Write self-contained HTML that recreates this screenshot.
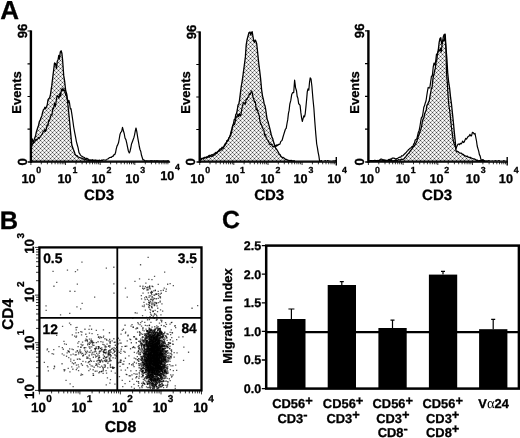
<!DOCTYPE html>
<html><head><meta charset="utf-8"><title>Figure</title>
<style>html,body{margin:0;padding:0;background:#fff}svg{display:block;will-change:transform;-webkit-font-smoothing:antialiased;text-rendering:geometricPrecision}</style>
</head><body>
<svg width="520" height="438" viewBox="0 0 520 438">
<defs>
<pattern id="hatch" width="4" height="4" patternUnits="userSpaceOnUse" shape-rendering="crispEdges"><rect width="4" height="4" fill="#e6e6e6"/><path d="M2 0h1v1h-1zM0 2h1v1h-1z" fill="#fff"/><path d="M0 0h1v1h-1zM2 2h1v1h-1z" fill="#484848"/><path d="M1 1h1v1h-1zM3 3h1v1h-1zM1 3h1v1h-1zM3 1h1v1h-1z" fill="#a8a8a8"/></pattern>
</defs>
<rect width="520" height="438" fill="#fff"/>
<text x="0.3" y="18.8" font-size="26" text-anchor="start" font-family="Liberation Sans, sans-serif" font-weight="bold" stroke="#000" stroke-width="0.3" >A</text>
<text x="-0.2" y="228.6" font-size="25.4" text-anchor="start" font-family="Liberation Sans, sans-serif" font-weight="bold" stroke="#000" stroke-width="0.3" >B</text>
<text x="221.9" y="228.3" font-size="24.8" text-anchor="start" font-family="Liberation Sans, sans-serif" font-weight="bold" stroke="#000" stroke-width="0.3" >C</text>
<path d="M31.5 141.6 L32.2 139 L33.2 143 L34 140.3 L34.7 137.9 L35.5 136.1 L36.2 132.5 L37 130 L37.8 127.5 L38.6 125.2 L39.4 121.5 L40.2 120 L41 117.8 L41.8 115.9 L42.6 112.4 L43.4 109.7 L44.1 109.2 L44.9 107.2 L45.7 108.6 L46.4 107 L47.2 105 L48 99.8 L48.8 98.5 L49.5 98.1 L50.3 95.5 L51 90.8 L51.8 85.4 L52.6 78.5 L53.5 71.4 L54.5 63 L55.5 63.6 L56.5 68.5 L57.3 61 L58 60 L58.8 55.4 L59.5 59 L60.3 51.8 L61.1 50.8 L61.9 53.3 L62.6 60 L63.7 75.4 L64.7 81.7 L65.7 90.8 L66.7 94 L67.6 101.5 L68.6 111.4 L69.6 121.5 L70.3 129.2 L71.1 137.9 L71.8 145 L72.5 147 L73.3 149.2 L74 151 L74.8 153.2 L75.5 155 L76.3 155.4 L77.1 155.7 L77.9 156.8 L78.7 157.2 L79.6 157.5 L80.4 157.8 L81.2 158 L82 158.4 L82.8 159 L83.6 159 L84.4 159 L85.2 159.7 L86 159.6 L86.8 160.1 L87.6 159.9 L88.4 160.5 L89.2 160.6 L90 160.5 L90.8 160.2 L91.7 160.4 L92.5 160.9 L93.3 160.6 L94.2 161 L95 160.7 L95.8 160.5 L96.7 160.9 L97.5 161 L98.3 160.8 L99.2 160.7 L100 161 L100 161.5 L31.5 161.5 Z" fill="url(#hatch)" stroke="none"/>
<path d="M31.5 141.6 L32.2 139 L33.2 143 L34 140.3 L34.7 137.9 L35.5 136.1 L36.2 132.5 L37 130 L37.8 127.5 L38.6 125.2 L39.4 121.5 L40.2 120 L41 117.8 L41.8 115.9 L42.6 112.4 L43.4 109.7 L44.1 109.2 L44.9 107.2 L45.7 108.6 L46.4 107 L47.2 105 L48 99.8 L48.8 98.5 L49.5 98.1 L50.3 95.5 L51 90.8 L51.8 85.4 L52.6 78.5 L53.5 71.4 L54.5 63 L55.5 63.6 L56.5 68.5 L57.3 61 L58 60 L58.8 55.4 L59.5 59 L60.3 51.8 L61.1 50.8 L61.9 53.3 L62.6 60 L63.7 75.4 L64.7 81.7 L65.7 90.8 L66.7 94 L67.6 101.5 L68.6 111.4 L69.6 121.5 L70.3 129.2 L71.1 137.9 L71.8 145 L72.5 147 L73.3 149.2 L74 151 L74.8 153.2 L75.5 155 L76.3 155.4 L77.1 155.7 L77.9 156.8 L78.7 157.2 L79.6 157.5 L80.4 157.8 L81.2 158 L82 158.4 L82.8 159 L83.6 159 L84.4 159 L85.2 159.7 L86 159.6 L86.8 160.1 L87.6 159.9 L88.4 160.5 L89.2 160.6 L90 160.5 L90.8 160.2 L91.7 160.4 L92.5 160.9 L93.3 160.6 L94.2 161 L95 160.7 L95.8 160.5 L96.7 160.9 L97.5 161 L98.3 160.8 L99.2 160.7 L100 161" fill="none" stroke="#000" stroke-width="1.3" stroke-linejoin="round"/>
<path d="M31.5 147 L32.2 144.9 L33 143 L33.8 142.8 L34.6 142.3 L35.4 140.2 L36.2 139.2 L37 140 L37.8 138.7 L38.5 137.4 L39.3 138.3 L40.1 137 L40.9 135.8 L41.6 134.7 L42.4 134.2 L43.2 131.3 L44 131.5 L44.8 129.5 L45.5 131.5 L46.3 129 L47.1 124.8 L47.9 125.9 L48.7 120.2 L49.5 120.9 L50.4 116.9 L51.2 114.9 L52 115.2 L52.8 108.1 L53.6 108.7 L54.5 103.4 L55.4 106.4 L56.2 101.1 L57.1 95.6 L58 96 L59 98.2 L60 93 L60.7 96 L61.4 89 L62.2 90.9 L62.9 88.1 L63.6 90.5 L64.3 89.8 L65 92 L65.8 95.4 L66.5 94.6 L67.3 99.6 L68 102.8 L68.8 100.2 L69.5 102.9 L70.3 108.9 L71 108.7 L71.9 114.3 L72.8 120.5 L73.7 127 L74.6 132.2 L75.5 136.7 L76.4 141.6 L77.3 145 L78.1 147.9 L79 152.6 L79.8 153.9 L80.5 155.1 L81.3 155.9 L82 156.3 L82.8 157 L83.6 157.2 L84.4 157.5 L85.2 158.2 L86 158.5 L86.8 158.2 L87.6 158.7 L88.4 159.2 L89.2 159.7 L90 160 L90.8 160.4 L91.7 160.1 L92.5 159.7 L93.3 160.5 L94.2 160.1 L95 160.3 L95.8 160 L96.7 160.3 L97.5 160.3 L98.3 160.7 L99.2 160.1 L100 160.5 L100.8 160.5 L101.6 160.1 L102.4 160.5 L103.2 159.8 L104 160 L104.8 160 L105.6 160.2 L106.4 160 L107.2 159 L108.1 158.9 L108.9 158.1 L109.7 157.6 L110.6 157.3 L111.4 157.4 L112.2 156.3 L113 156.4 L113.9 154.7 L114.7 154.7 L115.5 152.8 L116.2 149.2 L117 146.1 L117.7 144.9 L118.5 142.8 L119.2 139 L120 134.4 L120.8 132.3 L121.7 131.4 L122.5 127.4 L123.3 130.3 L124.2 133.5 L125 138 L125.9 139.6 L126.7 142.8 L127.6 147.3 L128.4 151 L129.3 153 L130 151.4 L130.8 147.8 L131.5 144 L132.3 142.1 L133 140 L133.8 137.9 L134.5 135.2 L135.2 131.5 L136 128 L136.8 131.6 L137.7 137.3 L138.5 141.8 L139.3 146.5 L140 149.5 L140.8 151.5 L141.5 155.3 L142.3 157.8 L143 160 L143.8 159.9 L144.5 160.3 L145.2 161 L146 161 L146.8 160.8 L147.6 161 L148.4 161 L149.2 161 L150 161 L150.8 160.7 L151.6 160.8 L152.3 160.8 L153.1 161 L153.9 161 L154.7 160.7 L155.5 161 L156.3 160.9 L157.1 160.8 L157.9 160.9 L158.7 161 L159.5 161 L160.3 161 L161.1 161 L161.9 161 L162.7 161 L163.4 160.9 L164.2 161 L165 161 L165.8 161 L166.6 161 L167.4 160.9 L168.2 160.9 L169 161" fill="none" stroke="#000" stroke-width="1.2" stroke-linejoin="round"/>
<path d="M30.9 30.4 V162.8" stroke="#000" stroke-width="2.4" fill="none"/>
<path d="M27.7 162 H170.1" stroke="#000" stroke-width="1.7" fill="none"/>
<path d="M27.5 31 H30.9 M27.5 63.8 H30.9 M27.5 96.5 H30.9 M27.5 129.2 H30.9 " stroke="#000" stroke-width="1.2" fill="none"/>
<path d="M30.9 162 v3 M41.3 162 v2.3 M47.4 162 v2.3 M51.8 162 v2.3 M55.1 162 v2.3 M57.9 162 v2.3 M60.2 162 v2.3 M62.2 162 v2.3 M64 162 v2.3 M65.5 162 v3 M76 162 v2.3 M82.1 162 v2.3 M86.4 162 v2.3 M89.8 162 v2.3 M92.5 162 v2.3 M94.8 162 v2.3 M96.8 162 v2.3 M98.6 162 v2.3 M100.2 162 v3 M110.6 162 v2.3 M116.7 162 v2.3 M121.1 162 v2.3 M124.4 162 v2.3 M127.2 162 v2.3 M129.5 162 v2.3 M131.5 162 v2.3 M133.3 162 v2.3 M134.8 162 v3 M145.3 162 v2.3 M151.4 162 v2.3 M155.7 162 v2.3 M159.1 162 v2.3 M161.8 162 v2.3 M164.1 162 v2.3 M166.1 162 v2.3 M167.9 162 v2.3 " stroke="#000" stroke-width="0.8" fill="none"/>
<path d="M30.9 161.1 H169.5" stroke="#000" stroke-width="1.3" fill="none"/>
<text x="28.5" y="182.6" font-size="12.7" text-anchor="middle" font-family="Liberation Sans, sans-serif" font-weight="bold" stroke="#000" stroke-width="0.3" >10</text>
<text x="36.3" y="172.9" font-size="8.8" text-anchor="start" font-family="Liberation Sans, sans-serif" font-weight="bold" stroke="#000" stroke-width="0.3" >0</text>
<text x="64.6" y="182.6" font-size="12.7" text-anchor="middle" font-family="Liberation Sans, sans-serif" font-weight="bold" stroke="#000" stroke-width="0.3" >10</text>
<text x="72.4" y="172.9" font-size="8.8" text-anchor="start" font-family="Liberation Sans, sans-serif" font-weight="bold" stroke="#000" stroke-width="0.3" >1</text>
<text x="98.6" y="182.6" font-size="12.7" text-anchor="middle" font-family="Liberation Sans, sans-serif" font-weight="bold" stroke="#000" stroke-width="0.3" >10</text>
<text x="106.4" y="172.9" font-size="8.8" text-anchor="start" font-family="Liberation Sans, sans-serif" font-weight="bold" stroke="#000" stroke-width="0.3" >2</text>
<text x="132.4" y="182.6" font-size="12.7" text-anchor="middle" font-family="Liberation Sans, sans-serif" font-weight="bold" stroke="#000" stroke-width="0.3" >10</text>
<text x="140.2" y="172.9" font-size="8.8" text-anchor="start" font-family="Liberation Sans, sans-serif" font-weight="bold" stroke="#000" stroke-width="0.3" >3</text>
<text x="167.3" y="179.6" font-size="12.7" text-anchor="middle" font-family="Liberation Sans, sans-serif" font-weight="bold" stroke="#000" stroke-width="0.3" >10</text>
<text x="175.1" y="169.9" font-size="8.8" text-anchor="start" font-family="Liberation Sans, sans-serif" font-weight="bold" stroke="#000" stroke-width="0.3" >4</text>
<text x="99.1" y="199.6" font-size="15" text-anchor="middle" font-family="Liberation Sans, sans-serif" font-weight="bold" stroke="#000" stroke-width="0.3" >CD3</text>
<text transform="translate(26.7 31) rotate(-90)" font-size="13.2" text-anchor="middle" font-family="Liberation Sans, sans-serif" font-weight="bold" stroke="#000" stroke-width="0.3" >96</text>
<text transform="translate(26.5 161.8) rotate(-90)" font-size="13.2" text-anchor="middle" font-family="Liberation Sans, sans-serif" font-weight="bold" stroke="#000" stroke-width="0.3" >0</text>
<text transform="translate(21.2 92.5) rotate(-90)" font-size="12.9" text-anchor="middle" font-family="Liberation Sans, sans-serif" font-weight="bold" stroke="#000" stroke-width="0.3" >Events</text>
<path d="M200.5 159 L201.3 158.5 L202.1 158.6 L202.9 158.3 L203.7 157.9 L204.5 157.4 L205.3 157.5 L206.1 157.3 L206.9 156.8 L207.8 156.5 L208.6 155.9 L209.4 155.4 L210.2 155.5 L211 155.4 L211.8 154.6 L212.6 155.1 L213.4 154.2 L214.2 154.2 L215 153.3 L215.8 152.4 L216.6 152.8 L217.4 151.9 L218.2 151.4 L219 150.5 L219.8 149.1 L220.6 148.8 L221.4 148.4 L222.2 147.2 L223 147.8 L223.8 146.5 L224.6 144.9 L225.5 143.2 L226.3 143 L227.1 140.4 L227.9 140.5 L228.8 138.3 L229.6 137 L230.4 134.4 L231.2 131.2 L231.9 128.9 L232.7 125.4 L233.5 123.5 L234.3 119.4 L235 119.3 L235.8 114.5 L236.5 113.7 L237.3 110 L238 105 L238.8 104.2 L239.5 100.2 L240.2 94.6 L241.3 86 L242.1 81.6 L242.9 76 L243.8 69.2 L244.6 63 L245.4 56.9 L246.2 44.9 L247 40 L248 36.1 L249 32.5 L250 32 L250.8 35 L251.5 32.5 L252.2 31.8 L252.9 36 L253.7 40.9 L254.4 42.2 L255.2 40 L255.9 41.2 L256.7 43.8 L257.7 53.1 L258.7 63 L259.6 70.1 L260.6 78.5 L261.6 89.6 L262.5 95.8 L263.4 99.4 L264.2 104 L265 105.7 L265.7 109.5 L266.5 115.2 L267.2 119.6 L268 121.5 L268.8 124.6 L269.6 127.7 L270.4 130.9 L271.2 134.5 L272 137 L272.8 138.8 L273.5 141.8 L274.3 144 L275 146.4 L275.8 148.5 L276.6 149.3 L277.4 150.5 L278.2 152 L279.1 153.8 L279.9 154.4 L280.7 155.9 L281.5 157 L282.3 157.3 L283.2 157.5 L284 158 L284.8 158.9 L285.6 159.3 L286.5 159.5 L287.3 160 L288.1 160.2 L288.8 160.3 L289.6 160.6 L290.4 160.7 L291.1 160.4 L291.9 160.9 L292.7 161 L293.5 160.9 L294.2 161 L295 161 L295 161.5 L200.5 161.5 Z" fill="url(#hatch)" stroke="none"/>
<path d="M200.5 159 L201.3 158.5 L202.1 158.6 L202.9 158.3 L203.7 157.9 L204.5 157.4 L205.3 157.5 L206.1 157.3 L206.9 156.8 L207.8 156.5 L208.6 155.9 L209.4 155.4 L210.2 155.5 L211 155.4 L211.8 154.6 L212.6 155.1 L213.4 154.2 L214.2 154.2 L215 153.3 L215.8 152.4 L216.6 152.8 L217.4 151.9 L218.2 151.4 L219 150.5 L219.8 149.1 L220.6 148.8 L221.4 148.4 L222.2 147.2 L223 147.8 L223.8 146.5 L224.6 144.9 L225.5 143.2 L226.3 143 L227.1 140.4 L227.9 140.5 L228.8 138.3 L229.6 137 L230.4 134.4 L231.2 131.2 L231.9 128.9 L232.7 125.4 L233.5 123.5 L234.3 119.4 L235 119.3 L235.8 114.5 L236.5 113.7 L237.3 110 L238 105 L238.8 104.2 L239.5 100.2 L240.2 94.6 L241.3 86 L242.1 81.6 L242.9 76 L243.8 69.2 L244.6 63 L245.4 56.9 L246.2 44.9 L247 40 L248 36.1 L249 32.5 L250 32 L250.8 35 L251.5 32.5 L252.2 31.8 L252.9 36 L253.7 40.9 L254.4 42.2 L255.2 40 L255.9 41.2 L256.7 43.8 L257.7 53.1 L258.7 63 L259.6 70.1 L260.6 78.5 L261.6 89.6 L262.5 95.8 L263.4 99.4 L264.2 104 L265 105.7 L265.7 109.5 L266.5 115.2 L267.2 119.6 L268 121.5 L268.8 124.6 L269.6 127.7 L270.4 130.9 L271.2 134.5 L272 137 L272.8 138.8 L273.5 141.8 L274.3 144 L275 146.4 L275.8 148.5 L276.6 149.3 L277.4 150.5 L278.2 152 L279.1 153.8 L279.9 154.4 L280.7 155.9 L281.5 157 L282.3 157.3 L283.2 157.5 L284 158 L284.8 158.9 L285.6 159.3 L286.5 159.5 L287.3 160 L288.1 160.2 L288.8 160.3 L289.6 160.6 L290.4 160.7 L291.1 160.4 L291.9 160.9 L292.7 161 L293.5 160.9 L294.2 161 L295 161" fill="none" stroke="#000" stroke-width="1.3" stroke-linejoin="round"/>
<path d="M200.5 159.5 L201.3 159.7 L202.1 158.6 L202.9 158.2 L203.7 159 L204.5 157.8 L205.3 157.5 L206.1 157.8 L206.9 157.2 L207.8 157.6 L208.6 156.5 L209.4 157.2 L210.2 156.1 L211 156.2 L211.8 156.4 L212.6 155.8 L213.4 155.9 L214.2 155 L215 154.7 L215.8 152.9 L216.6 153.6 L217.4 152.5 L218.2 151.3 L219 150.4 L219.8 151 L220.6 149.8 L221.4 149.9 L222.2 148.9 L223 148.7 L223.8 147 L224.6 145.7 L225.5 144.7 L226.3 143 L227.1 140.6 L227.9 141.2 L228.8 137.8 L229.6 137 L230.4 135.6 L231.2 133.9 L231.9 130.4 L232.7 125.9 L233.5 125 L234.4 124.5 L235.2 121.8 L236.1 117.4 L237 117 L237.8 114.3 L238.6 116.6 L239.4 113.6 L240.2 115.8 L240.9 115.3 L241.6 109.9 L242.3 107.1 L243 104 L243.8 102.5 L244.6 103.3 L245.4 104.1 L246.2 99 L247 99.4 L247.8 97.1 L248.6 97.1 L249.3 93.6 L250.1 94.4 L250.9 92.6 L251.7 90.8 L252.4 93.2 L253.1 97.8 L253.9 99.6 L254.6 102.3 L255.4 101.9 L256.2 110 L256.9 108.3 L257.7 111.1 L258.5 113.8 L259.3 116 L260 121.4 L260.8 124.1 L261.5 124.7 L262.3 127.3 L263.1 129 L263.9 130 L264.6 135.1 L265.4 134.7 L266.2 137.9 L267 139.4 L267.7 140.1 L268.5 141.4 L269.2 142.9 L270 144.6 L270.8 144.2 L271.5 144.2 L272.3 145.8 L273 146.8 L273.8 146.5 L274.6 146.7 L275.4 145.4 L276.1 146.4 L276.9 144.7 L277.7 145.6 L278.5 144.4 L279.2 144.5 L280 143.9 L280.7 141.6 L281.5 140.8 L282.2 140 L283 137 L283.8 134.3 L284.6 131.7 L285.4 129.2 L286.2 128.4 L287 123.5 L287.7 119.9 L288.4 113.7 L289.1 110.4 L289.8 104.2 L290.8 100.4 L291.7 94.6 L292.7 92.5 L293.7 92.7 L294.6 80.2 L295.6 87.9 L296.5 90.8 L297.2 96.6 L297.9 98.3 L298.7 103.9 L299.4 104.2 L300.1 105.6 L300.9 112.9 L301.6 117.9 L302.3 121.5 L303 118.8 L303.8 115.9 L304.5 116.8 L305.2 113.8 L305.9 107.1 L306.6 99.7 L307.3 91.6 L308 88.8 L308.8 90.2 L309.5 82.5 L310.2 77.9 L311 78.8 L311.9 86.3 L312.9 98.5 L313.9 108.5 L314.8 121.5 L315.8 134.1 L316.7 144 L317.4 147.6 L318.1 152.1 L318.9 156.2 L319.6 161 L320.4 161 L321.2 160.7 L322 160.9 L322.8 161 L323.6 161 L324.3 161 L325.1 160.6 L325.9 160.9 L326.7 161 L327.5 160.6 L328.3 160.7 L329.1 161 L329.9 160.9 L330.7 161 L331.5 161 L332.3 161 L333 160.8 L333.8 160.8 L334.6 160.8 L335.4 160.6 L336.2 161 L337 161" fill="none" stroke="#000" stroke-width="1.2" stroke-linejoin="round"/>
<path d="M199.7 31.4 V162.8" stroke="#000" stroke-width="2.4" fill="none"/>
<path d="M196.5 162 H336.9" stroke="#000" stroke-width="1.7" fill="none"/>
<path d="M196.3 32 H199.7 M196.3 64.5 H199.7 M196.3 97 H199.7 M196.3 129.5 H199.7 " stroke="#000" stroke-width="1.2" fill="none"/>
<path d="M199.7 162 v3 M210 162 v2.3 M216 162 v2.3 M220.3 162 v2.3 M223.6 162 v2.3 M226.3 162 v2.3 M228.6 162 v2.3 M230.5 162 v2.3 M232.3 162 v2.3 M233.8 162 v3 M244.1 162 v2.3 M250.1 162 v2.3 M254.4 162 v2.3 M257.7 162 v2.3 M260.4 162 v2.3 M262.7 162 v2.3 M264.7 162 v2.3 M266.4 162 v2.3 M268 162 v3 M278.3 162 v2.3 M284.3 162 v2.3 M288.6 162 v2.3 M291.9 162 v2.3 M294.6 162 v2.3 M296.9 162 v2.3 M298.8 162 v2.3 M300.6 162 v2.3 M302.1 162 v3 M312.4 162 v2.3 M318.4 162 v2.3 M322.7 162 v2.3 M326 162 v2.3 M328.7 162 v2.3 M331 162 v2.3 M333 162 v2.3 M334.7 162 v2.3 " stroke="#000" stroke-width="0.8" fill="none"/>
<path d="M336.3 165.6 v-8.6" stroke="#000" stroke-width="1.4" fill="none"/>
<path d="M199.7 161.1 H322" stroke="#000" stroke-width="1.3" fill="none"/>
<text x="197.4" y="182.6" font-size="12.7" text-anchor="middle" font-family="Liberation Sans, sans-serif" font-weight="bold" stroke="#000" stroke-width="0.3" >10</text>
<text x="205.2" y="172.9" font-size="8.8" text-anchor="start" font-family="Liberation Sans, sans-serif" font-weight="bold" stroke="#000" stroke-width="0.3" >0</text>
<text x="232.3" y="182.6" font-size="12.7" text-anchor="middle" font-family="Liberation Sans, sans-serif" font-weight="bold" stroke="#000" stroke-width="0.3" >10</text>
<text x="240.1" y="172.9" font-size="8.8" text-anchor="start" font-family="Liberation Sans, sans-serif" font-weight="bold" stroke="#000" stroke-width="0.3" >1</text>
<text x="267.6" y="182.6" font-size="12.7" text-anchor="middle" font-family="Liberation Sans, sans-serif" font-weight="bold" stroke="#000" stroke-width="0.3" >10</text>
<text x="275.4" y="172.9" font-size="8.8" text-anchor="start" font-family="Liberation Sans, sans-serif" font-weight="bold" stroke="#000" stroke-width="0.3" >2</text>
<text x="300.6" y="182.6" font-size="12.7" text-anchor="middle" font-family="Liberation Sans, sans-serif" font-weight="bold" stroke="#000" stroke-width="0.3" >10</text>
<text x="308.4" y="172.9" font-size="8.8" text-anchor="start" font-family="Liberation Sans, sans-serif" font-weight="bold" stroke="#000" stroke-width="0.3" >3</text>
<text x="334.2" y="182.6" font-size="12.7" text-anchor="middle" font-family="Liberation Sans, sans-serif" font-weight="bold" stroke="#000" stroke-width="0.3" >10</text>
<text x="342" y="172.9" font-size="8.8" text-anchor="start" font-family="Liberation Sans, sans-serif" font-weight="bold" stroke="#000" stroke-width="0.3" >4</text>
<text x="269.2" y="199.6" font-size="15" text-anchor="middle" font-family="Liberation Sans, sans-serif" font-weight="bold" stroke="#000" stroke-width="0.3" >CD3</text>
<text transform="translate(195.5 32) rotate(-90)" font-size="13.2" text-anchor="middle" font-family="Liberation Sans, sans-serif" font-weight="bold" stroke="#000" stroke-width="0.3" >96</text>
<text transform="translate(195.3 161.8) rotate(-90)" font-size="13.2" text-anchor="middle" font-family="Liberation Sans, sans-serif" font-weight="bold" stroke="#000" stroke-width="0.3" >0</text>
<text transform="translate(190 92.5) rotate(-90)" font-size="12.9" text-anchor="middle" font-family="Liberation Sans, sans-serif" font-weight="bold" stroke="#000" stroke-width="0.3" >Events</text>
<path d="M369.5 161 L370.3 160.7 L371.1 160.7 L371.9 160.9 L372.7 161 L373.5 160.7 L374.3 160.7 L375.1 160.8 L375.9 161 L376.7 160.7 L377.5 161 L378.3 161 L379.1 160.6 L379.9 160.9 L380.7 160.8 L381.5 160.8 L382.2 161 L383 160.5 L383.8 160.5 L384.6 161 L385.4 160.7 L386.2 160.6 L387 160.6 L387.8 160.6 L388.6 161 L389.4 160.5 L390.2 160.5 L391 160.7 L391.8 160.7 L392.6 160.9 L393.4 160.8 L394.2 160.5 L395 160.6 L395.8 160.2 L396.6 160.5 L397.5 160.4 L398.3 159.6 L399.1 159.9 L399.9 159.9 L400.7 159.6 L401.5 159.1 L402.4 159.3 L403.2 159.1 L404 158.8 L404.9 157.6 L405.7 156.9 L406.6 155.5 L407.5 154.4 L408.3 153.6 L409.2 152.8 L410 151.4 L410.7 150.4 L411.5 149.5 L412.2 148.6 L413 147 L413.8 146.5 L414.6 145.3 L415.4 144.1 L416.2 142.5 L417 140.8 L417.8 138.1 L418.5 135.5 L419.3 134.1 L420 131.6 L420.8 129.2 L421.6 126.6 L422.3 121.9 L423.1 119 L423.8 118.2 L424.6 113.8 L425.4 111.9 L426.2 109.9 L426.9 105.3 L427.7 104.2 L428.5 102.3 L429.3 100.6 L430 96.1 L430.8 92 L431.3 88.8 L432.1 86.9 L433 78.1 L433.8 75 L434.6 70.8 L435.3 68.4 L436.1 61.8 L436.8 59.8 L437.5 53.5 L438.3 50 L439.1 42.7 L440 38.5 L440.8 37.7 L441.6 43.7 L442.5 42 L443.4 36.4 L444.3 34.3 L445.2 34.2 L446 47.7 L446.9 59.1 L447.7 72.7 L448.6 81.5 L449.6 88 L450.6 97.7 L451.5 104.2 L452.5 113.8 L453.5 123.5 L454.4 133.1 L455.4 142.7 L456 150.7 L456.8 151.5 L457.6 151.4 L458.5 152 L459.3 152.7 L460.1 153.2 L461 153.1 L461.8 153.6 L462.6 154.5 L463.4 154.5 L464.2 155.4 L465 155.7 L465.8 156.2 L466.6 156.4 L467.4 156.2 L468.2 157 L469 157.5 L469.8 157.3 L470.6 157.4 L471.4 158 L472.2 158.4 L473 158.6 L473.9 158.8 L474.7 159.1 L475.5 159.5 L476.3 160.3 L477.2 160.1 L478 160.7 L478.8 160.8 L479.6 160.6 L480.3 160.6 L481.1 161 L481.9 160.7 L482.7 160.7 L483.4 160.9 L484.2 161 L485 161 L485 161.5 L369.5 161.5 Z" fill="url(#hatch)" stroke="none"/>
<path d="M369.5 161 L370.3 160.7 L371.1 160.7 L371.9 160.9 L372.7 161 L373.5 160.7 L374.3 160.7 L375.1 160.8 L375.9 161 L376.7 160.7 L377.5 161 L378.3 161 L379.1 160.6 L379.9 160.9 L380.7 160.8 L381.5 160.8 L382.2 161 L383 160.5 L383.8 160.5 L384.6 161 L385.4 160.7 L386.2 160.6 L387 160.6 L387.8 160.6 L388.6 161 L389.4 160.5 L390.2 160.5 L391 160.7 L391.8 160.7 L392.6 160.9 L393.4 160.8 L394.2 160.5 L395 160.6 L395.8 160.2 L396.6 160.5 L397.5 160.4 L398.3 159.6 L399.1 159.9 L399.9 159.9 L400.7 159.6 L401.5 159.1 L402.4 159.3 L403.2 159.1 L404 158.8 L404.9 157.6 L405.7 156.9 L406.6 155.5 L407.5 154.4 L408.3 153.6 L409.2 152.8 L410 151.4 L410.7 150.4 L411.5 149.5 L412.2 148.6 L413 147 L413.8 146.5 L414.6 145.3 L415.4 144.1 L416.2 142.5 L417 140.8 L417.8 138.1 L418.5 135.5 L419.3 134.1 L420 131.6 L420.8 129.2 L421.6 126.6 L422.3 121.9 L423.1 119 L423.8 118.2 L424.6 113.8 L425.4 111.9 L426.2 109.9 L426.9 105.3 L427.7 104.2 L428.5 102.3 L429.3 100.6 L430 96.1 L430.8 92 L431.3 88.8 L432.1 86.9 L433 78.1 L433.8 75 L434.6 70.8 L435.3 68.4 L436.1 61.8 L436.8 59.8 L437.5 53.5 L438.3 50 L439.1 42.7 L440 38.5 L440.8 37.7 L441.6 43.7 L442.5 42 L443.4 36.4 L444.3 34.3 L445.2 34.2 L446 47.7 L446.9 59.1 L447.7 72.7 L448.6 81.5 L449.6 88 L450.6 97.7 L451.5 104.2 L452.5 113.8 L453.5 123.5 L454.4 133.1 L455.4 142.7 L456 150.7 L456.8 151.5 L457.6 151.4 L458.5 152 L459.3 152.7 L460.1 153.2 L461 153.1 L461.8 153.6 L462.6 154.5 L463.4 154.5 L464.2 155.4 L465 155.7 L465.8 156.2 L466.6 156.4 L467.4 156.2 L468.2 157 L469 157.5 L469.8 157.3 L470.6 157.4 L471.4 158 L472.2 158.4 L473 158.6 L473.9 158.8 L474.7 159.1 L475.5 159.5 L476.3 160.3 L477.2 160.1 L478 160.7 L478.8 160.8 L479.6 160.6 L480.3 160.6 L481.1 161 L481.9 160.7 L482.7 160.7 L483.4 160.9 L484.2 161 L485 161" fill="none" stroke="#000" stroke-width="1.3" stroke-linejoin="round"/>
<path d="M369.5 161 L370.3 160.6 L371 160.6 L371.8 160.7 L372.6 161 L373.4 160.7 L374.1 160.9 L374.9 160.2 L375.7 160.6 L376.5 160.8 L377.2 160.5 L378 160.4 L378.8 160.5 L379.5 160.2 L380.2 159.4 L381 159.2 L381.8 159 L382.5 160.1 L383.2 159.7 L384 160.4 L384.8 159.8 L385.5 160.4 L386.2 160.4 L387 160.3 L387.8 160.4 L388.5 159.5 L389.2 159.3 L390 159.6 L390.8 158.8 L391.5 159.4 L392.2 158.1 L393 158.2 L393.8 158.1 L394.5 158.3 L395.2 158.6 L396 159.4 L396.8 158.5 L397.6 158.4 L398.4 157.7 L399.2 157.4 L400 157.2 L400.8 157.2 L401.6 155.7 L402.4 156 L403.2 155.4 L404 154.5 L404.8 153.8 L405.5 153 L406.2 152.5 L407 151.2 L407.8 150.7 L408.6 149.4 L409.4 148.9 L410.2 148.1 L411 148 L411.9 146.5 L412.8 146.7 L413.6 144.1 L414.5 143 L415.2 140 L416 139.4 L416.8 138.8 L417.5 136 L418.3 132.5 L419.2 130.2 L420 126 L420.8 120.8 L421.5 117.3 L422.2 117.1 L423 113 L423.8 107.3 L424.5 105.8 L425.2 103.2 L426 101 L426.8 95.5 L427.5 91 L428.2 87.4 L429 88 L429.8 87.9 L430.7 81.7 L431.5 76 L432.3 76.1 L433.2 67.2 L434 63 L434.8 65 L435.7 61.1 L436.5 54 L437.3 54.1 L438.2 51.6 L439 50 L439.8 50.8 L440.5 48.1 L441.3 52 L442.1 44.5 L443 40 L444 40.9 L445 36 L446 50 L446.6 75 L447.3 82.4 L448 95 L448.8 104.9 L449.6 110 L450.6 119.1 L451.5 128 L452.2 133.1 L452.9 138.4 L453.6 142 L454.4 144.6 L455.1 145.7 L455.9 148.8 L456.6 147 L457.4 145.2 L458.1 144 L458.8 144 L459.6 144.7 L460.3 143.3 L461.1 143.8 L461.9 142.9 L462.6 141.1 L463.4 142.5 L464.2 141.9 L465 140 L465.7 138.4 L466.5 139.2 L467.3 137.8 L468.2 136.4 L469 136.2 L469.9 134.4 L470.7 135.8 L471.5 135.9 L472.4 132.3 L473.2 132.5 L474.1 134 L475 133.4 L475.8 137.5 L476.5 141 L477.2 146 L478 148.8 L478.7 151.2 L479.4 154.6 L480.2 156.1 L480.9 159.3 L481.7 160.1 L482.5 159.7 L483.4 159.8 L484.2 161 L485 161 L485.8 161 L486.6 161 L487.4 161 L488.1 160.9 L488.9 160.7 L489.7 160.8 L490.5 161 L491.3 161 L492.1 160.8 L492.9 160.9 L493.6 161 L494.4 161 L495.2 160.6 L496 161 L496.8 160.8 L497.6 161 L498.4 160.7 L499.1 160.6 L499.9 161 L500.7 161 L501.5 161 L502.3 161 L503.1 161 L503.9 160.6 L504.6 161 L505.4 161 L506.2 161 L507 161" fill="none" stroke="#000" stroke-width="1.2" stroke-linejoin="round"/>
<path d="M368.4 30.2 V162.8" stroke="#000" stroke-width="2.4" fill="none"/>
<path d="M365.2 162 H507.8" stroke="#000" stroke-width="1.7" fill="none"/>
<path d="M365 30.8 H368.4 M365 63.6 H368.4 M365 96.4 H368.4 M365 129.2 H368.4 " stroke="#000" stroke-width="1.2" fill="none"/>
<path d="M368.4 162 v3 M378.8 162 v2.3 M385 162 v2.3 M389.3 162 v2.3 M392.7 162 v2.3 M395.4 162 v2.3 M397.7 162 v2.3 M399.7 162 v2.3 M401.5 162 v2.3 M403.1 162 v3 M413.5 162 v2.3 M419.7 162 v2.3 M424 162 v2.3 M427.4 162 v2.3 M430.1 162 v2.3 M432.4 162 v2.3 M434.4 162 v2.3 M436.2 162 v2.3 M437.8 162 v3 M448.2 162 v2.3 M454.4 162 v2.3 M458.7 162 v2.3 M462.1 162 v2.3 M464.8 162 v2.3 M467.1 162 v2.3 M469.1 162 v2.3 M470.9 162 v2.3 M472.5 162 v3 M482.9 162 v2.3 M489.1 162 v2.3 M493.4 162 v2.3 M496.8 162 v2.3 M499.5 162 v2.3 M501.8 162 v2.3 M503.8 162 v2.3 M505.6 162 v2.3 " stroke="#000" stroke-width="0.8" fill="none"/>
<path d="M507.2 165.6 v-8.6" stroke="#000" stroke-width="1.4" fill="none"/>
<path d="M368.4 161.1 H488" stroke="#000" stroke-width="1.3" fill="none"/>
<text x="367.1" y="182.6" font-size="12.7" text-anchor="middle" font-family="Liberation Sans, sans-serif" font-weight="bold" stroke="#000" stroke-width="0.3" >10</text>
<text x="374.9" y="172.9" font-size="8.8" text-anchor="start" font-family="Liberation Sans, sans-serif" font-weight="bold" stroke="#000" stroke-width="0.3" >0</text>
<text x="402.9" y="182.6" font-size="12.7" text-anchor="middle" font-family="Liberation Sans, sans-serif" font-weight="bold" stroke="#000" stroke-width="0.3" >10</text>
<text x="410.7" y="172.9" font-size="8.8" text-anchor="start" font-family="Liberation Sans, sans-serif" font-weight="bold" stroke="#000" stroke-width="0.3" >1</text>
<text x="436.5" y="182.6" font-size="12.7" text-anchor="middle" font-family="Liberation Sans, sans-serif" font-weight="bold" stroke="#000" stroke-width="0.3" >10</text>
<text x="444.3" y="172.9" font-size="8.8" text-anchor="start" font-family="Liberation Sans, sans-serif" font-weight="bold" stroke="#000" stroke-width="0.3" >2</text>
<text x="472.9" y="182.6" font-size="12.7" text-anchor="middle" font-family="Liberation Sans, sans-serif" font-weight="bold" stroke="#000" stroke-width="0.3" >10</text>
<text x="480.7" y="172.9" font-size="8.8" text-anchor="start" font-family="Liberation Sans, sans-serif" font-weight="bold" stroke="#000" stroke-width="0.3" >3</text>
<text x="505.9" y="182.6" font-size="12.7" text-anchor="middle" font-family="Liberation Sans, sans-serif" font-weight="bold" stroke="#000" stroke-width="0.3" >10</text>
<text x="513.7" y="172.9" font-size="8.8" text-anchor="start" font-family="Liberation Sans, sans-serif" font-weight="bold" stroke="#000" stroke-width="0.3" >4</text>
<text x="437.1" y="199.6" font-size="15" text-anchor="middle" font-family="Liberation Sans, sans-serif" font-weight="bold" stroke="#000" stroke-width="0.3" >CD3</text>
<text transform="translate(364.2 30.8) rotate(-90)" font-size="13.2" text-anchor="middle" font-family="Liberation Sans, sans-serif" font-weight="bold" stroke="#000" stroke-width="0.3" >96</text>
<text transform="translate(364 161.8) rotate(-90)" font-size="13.2" text-anchor="middle" font-family="Liberation Sans, sans-serif" font-weight="bold" stroke="#000" stroke-width="0.3" >0</text>
<text transform="translate(358.7 92.5) rotate(-90)" font-size="12.9" text-anchor="middle" font-family="Liberation Sans, sans-serif" font-weight="bold" stroke="#000" stroke-width="0.3" >Events</text>
<path d="M155.1 369.8h1.3v1.3h-1.3zM158.4 370h1.3v1.3h-1.3zM152.5 383.9h1.3v1.3h-1.3zM156.7 357.5h1.3v1.3h-1.3zM152.1 341.8h1.3v1.3h-1.3zM160.7 354.4h1.3v1.3h-1.3zM143.8 344.5h1.3v1.3h-1.3zM82 352.8h1.3v1.3h-1.3zM156.9 374.5h1.3v1.3h-1.3zM154.3 359.1h1.3v1.3h-1.3zM104.3 338.1h1.3v1.3h-1.3zM154.7 347.7h1.3v1.3h-1.3zM152.7 387.2h1.3v1.3h-1.3zM163.5 369.7h1.3v1.3h-1.3zM154.9 349.1h1.3v1.3h-1.3zM148.7 351.1h1.3v1.3h-1.3zM157.3 364h1.3v1.3h-1.3zM149.1 357.3h1.3v1.3h-1.3zM156.6 357.9h1.3v1.3h-1.3zM153.3 349.5h1.3v1.3h-1.3zM148 336h1.3v1.3h-1.3zM71.7 334.2h1.3v1.3h-1.3zM147.8 335.7h1.3v1.3h-1.3zM149.1 360.1h1.3v1.3h-1.3zM139.5 353.7h1.3v1.3h-1.3zM160 346.2h1.3v1.3h-1.3zM148.1 347.6h1.3v1.3h-1.3zM155.2 373.9h1.3v1.3h-1.3zM150.5 357.4h1.3v1.3h-1.3zM153.5 343.8h1.3v1.3h-1.3zM155.3 370.3h1.3v1.3h-1.3zM158.9 358.4h1.3v1.3h-1.3zM157.6 379.4h1.3v1.3h-1.3zM164.5 371.9h1.3v1.3h-1.3zM145.4 336.7h1.3v1.3h-1.3zM156.4 348.9h1.3v1.3h-1.3zM99.8 347.9h1.3v1.3h-1.3zM155 354.5h1.3v1.3h-1.3zM156.4 370h1.3v1.3h-1.3zM81.9 341.4h1.3v1.3h-1.3zM148.8 304.6h1.3v1.3h-1.3zM157.1 347h1.3v1.3h-1.3zM153.7 343.4h1.3v1.3h-1.3zM156 350.9h1.3v1.3h-1.3zM156 362.7h1.3v1.3h-1.3zM143.9 363.8h1.3v1.3h-1.3zM158.1 350.2h1.3v1.3h-1.3zM155.5 368.1h1.3v1.3h-1.3zM154.3 376h1.3v1.3h-1.3zM156.9 351h1.3v1.3h-1.3zM161.5 333.8h1.3v1.3h-1.3zM150.8 367.6h1.3v1.3h-1.3zM162.5 373.5h1.3v1.3h-1.3zM155.5 338.6h1.3v1.3h-1.3zM164.2 347.6h1.3v1.3h-1.3zM169.4 323.4h1.3v1.3h-1.3zM148.4 369.8h1.3v1.3h-1.3zM155.3 345.1h1.3v1.3h-1.3zM138.3 377.6h1.3v1.3h-1.3zM149.6 367.2h1.3v1.3h-1.3zM147.7 369h1.3v1.3h-1.3zM159.4 337.8h1.3v1.3h-1.3zM147.9 351.5h1.3v1.3h-1.3zM155.8 360.3h1.3v1.3h-1.3zM143.7 365.8h1.3v1.3h-1.3zM160.2 351h1.3v1.3h-1.3zM150.8 336.7h1.3v1.3h-1.3zM154.5 333.7h1.3v1.3h-1.3zM143.8 379.5h1.3v1.3h-1.3zM152.5 358.4h1.3v1.3h-1.3zM153.5 370.6h1.3v1.3h-1.3zM167.1 350.2h1.3v1.3h-1.3zM155.7 344.3h1.3v1.3h-1.3zM163.4 372.6h1.3v1.3h-1.3zM149.2 335.1h1.3v1.3h-1.3zM156.6 373.1h1.3v1.3h-1.3zM152.7 380.5h1.3v1.3h-1.3zM159 345.2h1.3v1.3h-1.3zM153.8 341.3h1.3v1.3h-1.3zM152.1 330.6h1.3v1.3h-1.3zM157.4 354.4h1.3v1.3h-1.3zM156.3 346.5h1.3v1.3h-1.3zM168.7 378.1h1.3v1.3h-1.3zM162.1 348.8h1.3v1.3h-1.3zM153.4 349.6h1.3v1.3h-1.3zM161.1 343.7h1.3v1.3h-1.3zM158.9 362.2h1.3v1.3h-1.3zM145.5 348.9h1.3v1.3h-1.3zM162 335.5h1.3v1.3h-1.3zM156.8 345.8h1.3v1.3h-1.3zM158.5 354.1h1.3v1.3h-1.3zM156.6 350.6h1.3v1.3h-1.3zM158.8 365.1h1.3v1.3h-1.3zM156.1 346.7h1.3v1.3h-1.3zM147.6 346.5h1.3v1.3h-1.3zM146.3 359.7h1.3v1.3h-1.3zM149.8 357.1h1.3v1.3h-1.3zM148.7 361.2h1.3v1.3h-1.3zM128.3 355.2h1.3v1.3h-1.3zM150.8 379.6h1.3v1.3h-1.3zM157.8 338.8h1.3v1.3h-1.3zM152.6 332.6h1.3v1.3h-1.3zM150.4 335.3h1.3v1.3h-1.3zM144.4 348.9h1.3v1.3h-1.3zM146.7 340.6h1.3v1.3h-1.3zM120.1 361.8h1.3v1.3h-1.3zM165.1 375.2h1.3v1.3h-1.3zM154.5 349.9h1.3v1.3h-1.3zM147.1 345.3h1.3v1.3h-1.3zM151.1 361.4h1.3v1.3h-1.3zM147.7 335.4h1.3v1.3h-1.3zM75.4 332.2h1.3v1.3h-1.3zM148.6 341.1h1.3v1.3h-1.3zM161.2 345.3h1.3v1.3h-1.3zM63.4 368.9h1.3v1.3h-1.3zM146.8 342.3h1.3v1.3h-1.3zM102.8 329.3h1.3v1.3h-1.3zM147.7 356.3h1.3v1.3h-1.3zM148.6 362.9h1.3v1.3h-1.3zM150.1 329.6h1.3v1.3h-1.3zM151.5 364.4h1.3v1.3h-1.3zM136.3 327.2h1.3v1.3h-1.3zM111.7 347.7h1.3v1.3h-1.3zM156.9 381.8h1.3v1.3h-1.3zM152.8 347h1.3v1.3h-1.3zM155.6 373.7h1.3v1.3h-1.3zM145.6 349h1.3v1.3h-1.3zM98.7 351.3h1.3v1.3h-1.3zM155 353.9h1.3v1.3h-1.3zM154.7 383h1.3v1.3h-1.3zM77.2 342.5h1.3v1.3h-1.3zM156.4 351.9h1.3v1.3h-1.3zM152.9 386.6h1.3v1.3h-1.3zM95.9 364h1.3v1.3h-1.3zM152.2 367.8h1.3v1.3h-1.3zM157.3 372.4h1.3v1.3h-1.3zM156.1 376.5h1.3v1.3h-1.3zM152 299.9h1.3v1.3h-1.3zM111 348.6h1.3v1.3h-1.3zM164.9 322h1.3v1.3h-1.3zM160.3 357.1h1.3v1.3h-1.3zM160.6 358.5h1.3v1.3h-1.3zM156 367.1h1.3v1.3h-1.3zM151.9 374.6h1.3v1.3h-1.3zM155.4 335.8h1.3v1.3h-1.3zM157.8 354.6h1.3v1.3h-1.3zM153.7 336.4h1.3v1.3h-1.3zM155.6 360.5h1.3v1.3h-1.3zM157.8 339.8h1.3v1.3h-1.3zM151.5 347.2h1.3v1.3h-1.3zM47.7 370.2h1.3v1.3h-1.3zM154.2 370.1h1.3v1.3h-1.3zM154.1 350.6h1.3v1.3h-1.3zM150.4 370.8h1.3v1.3h-1.3zM153.7 349.3h1.3v1.3h-1.3zM149.4 349.1h1.3v1.3h-1.3zM152.4 382h1.3v1.3h-1.3zM99.1 360.2h1.3v1.3h-1.3zM158.7 343.1h1.3v1.3h-1.3zM58.4 346h1.3v1.3h-1.3zM165.8 323.8h1.3v1.3h-1.3zM148.7 285.9h1.3v1.3h-1.3zM151.8 382.8h1.3v1.3h-1.3zM148.5 360.8h1.3v1.3h-1.3zM143.5 368.1h1.3v1.3h-1.3zM154.7 384.1h1.3v1.3h-1.3zM141.9 315h1.3v1.3h-1.3zM155.3 339.5h1.3v1.3h-1.3zM150.4 340.6h1.3v1.3h-1.3zM155.7 371.3h1.3v1.3h-1.3zM156.4 339.8h1.3v1.3h-1.3zM158.7 364.2h1.3v1.3h-1.3zM166.4 346.1h1.3v1.3h-1.3zM103.5 344.3h1.3v1.3h-1.3zM164 355.9h1.3v1.3h-1.3zM114.4 341.6h1.3v1.3h-1.3zM158.5 354.3h1.3v1.3h-1.3zM114.6 348h1.3v1.3h-1.3zM150.8 314.6h1.3v1.3h-1.3zM159.5 365.8h1.3v1.3h-1.3zM149.2 349.6h1.3v1.3h-1.3zM152.8 338.7h1.3v1.3h-1.3zM149.8 356.3h1.3v1.3h-1.3zM146.1 363.2h1.3v1.3h-1.3zM170.9 376.4h1.3v1.3h-1.3zM153.5 304.2h1.3v1.3h-1.3zM150.9 348.6h1.3v1.3h-1.3zM150.5 356.1h1.3v1.3h-1.3zM153.8 353.4h1.3v1.3h-1.3zM160.3 359.4h1.3v1.3h-1.3zM147.3 365.4h1.3v1.3h-1.3zM159.3 328.2h1.3v1.3h-1.3zM151 358.6h1.3v1.3h-1.3zM154.6 361.3h1.3v1.3h-1.3zM156.7 348.2h1.3v1.3h-1.3zM153.1 356.5h1.3v1.3h-1.3zM157.9 372.8h1.3v1.3h-1.3zM151.7 366.4h1.3v1.3h-1.3zM143 339.4h1.3v1.3h-1.3zM154.1 373.9h1.3v1.3h-1.3zM106.4 356.1h1.3v1.3h-1.3zM101 365.4h1.3v1.3h-1.3zM142 361.5h1.3v1.3h-1.3zM149.9 358.4h1.3v1.3h-1.3zM102.2 343.8h1.3v1.3h-1.3zM157.3 372.5h1.3v1.3h-1.3zM164.3 370.4h1.3v1.3h-1.3zM152.1 356.9h1.3v1.3h-1.3zM169.6 352.9h1.3v1.3h-1.3zM150 334.1h1.3v1.3h-1.3zM148.5 358.1h1.3v1.3h-1.3zM159.7 339.7h1.3v1.3h-1.3zM161.3 341h1.3v1.3h-1.3zM159.7 380.3h1.3v1.3h-1.3zM108 353.1h1.3v1.3h-1.3zM163.4 364.7h1.3v1.3h-1.3zM152.2 385h1.3v1.3h-1.3zM152.4 387.9h1.3v1.3h-1.3zM145.6 354.1h1.3v1.3h-1.3zM147.7 343.5h1.3v1.3h-1.3zM153.5 365.4h1.3v1.3h-1.3zM155.2 344.2h1.3v1.3h-1.3zM154.1 326.1h1.3v1.3h-1.3zM159.5 352.6h1.3v1.3h-1.3zM155.3 343.7h1.3v1.3h-1.3zM155.4 366.4h1.3v1.3h-1.3zM159.6 363.6h1.3v1.3h-1.3zM93.5 366.6h1.3v1.3h-1.3zM158.7 354.1h1.3v1.3h-1.3zM160.4 363h1.3v1.3h-1.3zM156 369.7h1.3v1.3h-1.3zM154.3 364.9h1.3v1.3h-1.3zM155.8 386.3h1.3v1.3h-1.3zM148.8 338h1.3v1.3h-1.3zM153.5 351.5h1.3v1.3h-1.3zM105.9 372.5h1.3v1.3h-1.3zM162.3 345.6h1.3v1.3h-1.3zM155.5 359.5h1.3v1.3h-1.3zM160.3 355.3h1.3v1.3h-1.3zM130.7 342.1h1.3v1.3h-1.3zM140.7 294.9h1.3v1.3h-1.3zM109.1 352.4h1.3v1.3h-1.3zM154.5 385.3h1.3v1.3h-1.3zM154.1 364.5h1.3v1.3h-1.3zM139.4 323.9h1.3v1.3h-1.3zM135.8 362.4h1.3v1.3h-1.3zM149.1 340.7h1.3v1.3h-1.3zM158.8 352.7h1.3v1.3h-1.3zM165.1 356.7h1.3v1.3h-1.3zM150.2 367.7h1.3v1.3h-1.3zM151.5 285.6h1.3v1.3h-1.3zM142.5 382.5h1.3v1.3h-1.3zM153.9 363.8h1.3v1.3h-1.3zM99.7 361.1h1.3v1.3h-1.3zM150.8 337.2h1.3v1.3h-1.3zM153 354.1h1.3v1.3h-1.3zM152.6 360.6h1.3v1.3h-1.3zM109.4 341.7h1.3v1.3h-1.3zM160.6 367.9h1.3v1.3h-1.3zM151.3 357.8h1.3v1.3h-1.3zM88.4 346.2h1.3v1.3h-1.3zM153.7 354.3h1.3v1.3h-1.3zM155.8 339.6h1.3v1.3h-1.3zM151.3 346.7h1.3v1.3h-1.3zM156.1 360.6h1.3v1.3h-1.3zM155.2 367.7h1.3v1.3h-1.3zM154 360.6h1.3v1.3h-1.3zM151.3 278.9h1.3v1.3h-1.3zM149.2 359.8h1.3v1.3h-1.3zM150.1 371.8h1.3v1.3h-1.3zM160.3 368h1.3v1.3h-1.3zM160.5 345.8h1.3v1.3h-1.3zM145.9 341.6h1.3v1.3h-1.3zM136.9 359.3h1.3v1.3h-1.3zM151.8 360.1h1.3v1.3h-1.3zM153.5 369.9h1.3v1.3h-1.3zM154.9 344.5h1.3v1.3h-1.3zM165.4 346.3h1.3v1.3h-1.3zM153.4 329.6h1.3v1.3h-1.3zM155.8 349.5h1.3v1.3h-1.3zM153.8 366.1h1.3v1.3h-1.3zM137.3 351.2h1.3v1.3h-1.3zM149.3 352.7h1.3v1.3h-1.3zM145.6 360h1.3v1.3h-1.3zM159 361.9h1.3v1.3h-1.3zM146 366.7h1.3v1.3h-1.3zM156.9 337.7h1.3v1.3h-1.3zM161.1 370.2h1.3v1.3h-1.3zM151.7 354.9h1.3v1.3h-1.3zM120.5 359.5h1.3v1.3h-1.3zM154.9 346.5h1.3v1.3h-1.3zM141.1 342.7h1.3v1.3h-1.3zM107.9 345.7h1.3v1.3h-1.3zM155.4 354.9h1.3v1.3h-1.3zM147.1 369.3h1.3v1.3h-1.3zM154.9 363.3h1.3v1.3h-1.3zM145.5 357.2h1.3v1.3h-1.3zM145.9 359.9h1.3v1.3h-1.3zM152.6 354.2h1.3v1.3h-1.3zM139.9 369.5h1.3v1.3h-1.3zM154.5 357.9h1.3v1.3h-1.3zM135.2 377.2h1.3v1.3h-1.3zM164.9 375.5h1.3v1.3h-1.3zM162.7 354.5h1.3v1.3h-1.3zM159.1 360.3h1.3v1.3h-1.3zM157.6 364.8h1.3v1.3h-1.3zM150.8 354.8h1.3v1.3h-1.3zM152.8 337.7h1.3v1.3h-1.3zM152.4 369.5h1.3v1.3h-1.3zM155.6 364.3h1.3v1.3h-1.3zM159.8 351.3h1.3v1.3h-1.3zM142.9 288.5h1.3v1.3h-1.3zM155.6 357.7h1.3v1.3h-1.3zM157.6 381.2h1.3v1.3h-1.3zM139.2 370.3h1.3v1.3h-1.3zM161.1 332h1.3v1.3h-1.3zM151.6 348.8h1.3v1.3h-1.3zM153.4 366.3h1.3v1.3h-1.3zM147 370.4h1.3v1.3h-1.3zM148.6 371.5h1.3v1.3h-1.3zM162.2 360.5h1.3v1.3h-1.3zM146.8 330h1.3v1.3h-1.3zM154 378.2h1.3v1.3h-1.3zM163 347.4h1.3v1.3h-1.3zM98.9 337.4h1.3v1.3h-1.3zM146.9 319.1h1.3v1.3h-1.3zM94.8 349.1h1.3v1.3h-1.3zM154 294.4h1.3v1.3h-1.3zM150.7 352.3h1.3v1.3h-1.3zM109.6 351.2h1.3v1.3h-1.3zM145.2 356.9h1.3v1.3h-1.3zM137.2 321.9h1.3v1.3h-1.3zM157.4 347.1h1.3v1.3h-1.3zM157 353.4h1.3v1.3h-1.3zM159.7 359.3h1.3v1.3h-1.3zM156.3 365.9h1.3v1.3h-1.3zM81.5 344.9h1.3v1.3h-1.3zM153.4 359.9h1.3v1.3h-1.3zM149.2 349.5h1.3v1.3h-1.3zM149.4 361.1h1.3v1.3h-1.3zM153 363.7h1.3v1.3h-1.3zM155 343.3h1.3v1.3h-1.3zM157.1 329.8h1.3v1.3h-1.3zM151.9 349.7h1.3v1.3h-1.3zM152 334.8h1.3v1.3h-1.3zM144.1 368.1h1.3v1.3h-1.3zM146.3 357.2h1.3v1.3h-1.3zM139.7 359.1h1.3v1.3h-1.3zM146.9 377.3h1.3v1.3h-1.3zM154 347.6h1.3v1.3h-1.3zM158 349.1h1.3v1.3h-1.3zM152.4 359.3h1.3v1.3h-1.3zM153.6 350.4h1.3v1.3h-1.3zM75.9 335.5h1.3v1.3h-1.3zM153.2 346h1.3v1.3h-1.3zM148.7 376.6h1.3v1.3h-1.3zM154 377.9h1.3v1.3h-1.3zM155.9 355.7h1.3v1.3h-1.3zM147.5 367.6h1.3v1.3h-1.3zM80.5 343.7h1.3v1.3h-1.3zM150.8 347.2h1.3v1.3h-1.3zM154 376h1.3v1.3h-1.3zM157.2 358h1.3v1.3h-1.3zM157.2 331.6h1.3v1.3h-1.3zM169.5 283h1.3v1.3h-1.3zM152.5 340.9h1.3v1.3h-1.3zM151.1 367.7h1.3v1.3h-1.3zM157 359.6h1.3v1.3h-1.3zM154.4 358.1h1.3v1.3h-1.3zM109.4 358.3h1.3v1.3h-1.3zM151.1 293.9h1.3v1.3h-1.3zM153.3 353.6h1.3v1.3h-1.3zM148.6 357.7h1.3v1.3h-1.3zM89.3 346.3h1.3v1.3h-1.3zM159.1 351.2h1.3v1.3h-1.3zM149.3 361.1h1.3v1.3h-1.3zM149 380.9h1.3v1.3h-1.3zM112.8 367.4h1.3v1.3h-1.3zM157.7 354.2h1.3v1.3h-1.3zM146.1 358.2h1.3v1.3h-1.3zM170 333.9h1.3v1.3h-1.3zM155.6 339h1.3v1.3h-1.3zM148.6 350.4h1.3v1.3h-1.3zM80.3 346.5h1.3v1.3h-1.3zM142 367.5h1.3v1.3h-1.3zM162.7 348.4h1.3v1.3h-1.3zM146.2 349.2h1.3v1.3h-1.3zM156.3 362.6h1.3v1.3h-1.3zM152.4 343h1.3v1.3h-1.3zM159.3 359.2h1.3v1.3h-1.3zM152.3 370.9h1.3v1.3h-1.3zM149.1 355.7h1.3v1.3h-1.3zM162.9 353.4h1.3v1.3h-1.3zM158.5 347.7h1.3v1.3h-1.3zM139.8 367.5h1.3v1.3h-1.3zM157.9 367h1.3v1.3h-1.3zM159.3 331.1h1.3v1.3h-1.3zM147.5 363.2h1.3v1.3h-1.3zM154.9 368.3h1.3v1.3h-1.3zM142.6 355.4h1.3v1.3h-1.3zM157.1 363.1h1.3v1.3h-1.3zM152.3 363.1h1.3v1.3h-1.3zM150.3 378.9h1.3v1.3h-1.3zM153.8 333.9h1.3v1.3h-1.3zM171.5 332h1.3v1.3h-1.3zM151.2 350.2h1.3v1.3h-1.3zM146.9 376.7h1.3v1.3h-1.3zM124.5 345.7h1.3v1.3h-1.3zM156.5 364.6h1.3v1.3h-1.3zM152.4 344.5h1.3v1.3h-1.3zM154.1 352.2h1.3v1.3h-1.3zM76.8 358.6h1.3v1.3h-1.3zM150.4 360h1.3v1.3h-1.3zM145 380.3h1.3v1.3h-1.3zM148.5 372.1h1.3v1.3h-1.3zM150.2 365.4h1.3v1.3h-1.3zM155.6 352.9h1.3v1.3h-1.3zM68.1 350.6h1.3v1.3h-1.3zM155.7 298.1h1.3v1.3h-1.3zM149.6 352.4h1.3v1.3h-1.3zM144.2 348.5h1.3v1.3h-1.3zM154.5 343.7h1.3v1.3h-1.3zM158.3 374.2h1.3v1.3h-1.3zM153.2 352.9h1.3v1.3h-1.3zM157.1 342.7h1.3v1.3h-1.3zM145.9 361.4h1.3v1.3h-1.3zM160.1 377h1.3v1.3h-1.3zM152.9 364.2h1.3v1.3h-1.3zM152.7 299h1.3v1.3h-1.3zM157 354.8h1.3v1.3h-1.3zM98.5 352.8h1.3v1.3h-1.3zM156.4 345.8h1.3v1.3h-1.3zM156.8 370h1.3v1.3h-1.3zM153.2 353.4h1.3v1.3h-1.3zM161.5 373.9h1.3v1.3h-1.3zM149.5 358h1.3v1.3h-1.3zM150 366.9h1.3v1.3h-1.3zM143.7 345.9h1.3v1.3h-1.3zM161.6 354.3h1.3v1.3h-1.3zM150.9 361.6h1.3v1.3h-1.3zM108.4 353.7h1.3v1.3h-1.3zM150 344.7h1.3v1.3h-1.3zM151.3 304.1h1.3v1.3h-1.3z" fill="#000" fill-opacity="0.66"/>
<path d="M153.8 356.2h1.3v1.3h-1.3zM154 331.1h1.3v1.3h-1.3zM152.5 339.4h1.3v1.3h-1.3zM63.9 343.3h1.3v1.3h-1.3zM152 344.9h1.3v1.3h-1.3zM150.9 350.6h1.3v1.3h-1.3zM157 357.3h1.3v1.3h-1.3zM147.4 377.3h1.3v1.3h-1.3zM109.7 364.9h1.3v1.3h-1.3zM86.4 339.3h1.3v1.3h-1.3zM105.2 349.3h1.3v1.3h-1.3zM144.8 352.9h1.3v1.3h-1.3zM165.3 290.7h1.3v1.3h-1.3zM156.8 372.8h1.3v1.3h-1.3zM107.7 351.2h1.3v1.3h-1.3zM145.2 376.1h1.3v1.3h-1.3zM114.3 383.4h1.3v1.3h-1.3zM168 343.8h1.3v1.3h-1.3zM162.8 349.3h1.3v1.3h-1.3zM174.2 325.4h1.3v1.3h-1.3zM156.2 359.6h1.3v1.3h-1.3zM153.9 362.5h1.3v1.3h-1.3zM150.6 357.4h1.3v1.3h-1.3zM152.8 367.9h1.3v1.3h-1.3zM81.5 302.7h1.3v1.3h-1.3zM151.3 346.4h1.3v1.3h-1.3zM163.2 359.2h1.3v1.3h-1.3zM103 350.6h1.3v1.3h-1.3zM156.1 363.8h1.3v1.3h-1.3zM159.1 296.2h1.3v1.3h-1.3zM159.1 375.3h1.3v1.3h-1.3zM154 329.6h1.3v1.3h-1.3zM153.5 350.8h1.3v1.3h-1.3zM159.3 327.8h1.3v1.3h-1.3zM152 376.8h1.3v1.3h-1.3zM97.2 355.4h1.3v1.3h-1.3zM167.5 345.3h1.3v1.3h-1.3zM150.9 341.2h1.3v1.3h-1.3zM145.4 362.6h1.3v1.3h-1.3zM146 296.8h1.3v1.3h-1.3zM155.2 379.2h1.3v1.3h-1.3zM151.2 383h1.3v1.3h-1.3zM153.4 361.4h1.3v1.3h-1.3zM155.8 362.4h1.3v1.3h-1.3zM155.8 363.1h1.3v1.3h-1.3zM152.8 355.1h1.3v1.3h-1.3zM155.3 376.5h1.3v1.3h-1.3zM167.7 360.2h1.3v1.3h-1.3zM157.8 357.6h1.3v1.3h-1.3zM155.3 350.1h1.3v1.3h-1.3zM156.5 332.3h1.3v1.3h-1.3zM157 366.2h1.3v1.3h-1.3zM147 383.8h1.3v1.3h-1.3zM147.2 356.4h1.3v1.3h-1.3zM151.3 383.2h1.3v1.3h-1.3zM157.2 361.5h1.3v1.3h-1.3zM174.6 387.7h1.3v1.3h-1.3zM153.6 360h1.3v1.3h-1.3zM155.8 381.4h1.3v1.3h-1.3zM158.9 351.7h1.3v1.3h-1.3zM154.4 373.3h1.3v1.3h-1.3zM145 339h1.3v1.3h-1.3zM154.1 360.9h1.3v1.3h-1.3zM159.1 362.4h1.3v1.3h-1.3zM151.8 345.8h1.3v1.3h-1.3zM154.7 355.4h1.3v1.3h-1.3zM154.3 359.6h1.3v1.3h-1.3zM143.8 351.2h1.3v1.3h-1.3zM156.8 362.8h1.3v1.3h-1.3zM183.2 346.5h1.3v1.3h-1.3zM161.5 351.3h1.3v1.3h-1.3zM155.8 362.4h1.3v1.3h-1.3zM164.7 353.4h1.3v1.3h-1.3zM145.4 360.9h1.3v1.3h-1.3zM140.2 362.7h1.3v1.3h-1.3zM155.5 363.9h1.3v1.3h-1.3zM163.6 287.4h1.3v1.3h-1.3zM112.1 366.3h1.3v1.3h-1.3zM153.7 336.4h1.3v1.3h-1.3zM165.2 353.1h1.3v1.3h-1.3zM158.8 322.5h1.3v1.3h-1.3zM152.7 368.3h1.3v1.3h-1.3zM156.6 379.2h1.3v1.3h-1.3zM155 364h1.3v1.3h-1.3zM147.7 350.8h1.3v1.3h-1.3zM160 337.5h1.3v1.3h-1.3zM153.8 340.5h1.3v1.3h-1.3zM148.6 379.4h1.3v1.3h-1.3zM145.2 364.5h1.3v1.3h-1.3zM159.8 356.5h1.3v1.3h-1.3zM151.4 326.4h1.3v1.3h-1.3zM155.7 354h1.3v1.3h-1.3zM153.3 342.2h1.3v1.3h-1.3zM160.8 367.1h1.3v1.3h-1.3zM159.8 367.2h1.3v1.3h-1.3zM115.6 355.5h1.3v1.3h-1.3zM151.2 340.8h1.3v1.3h-1.3zM146.7 358.4h1.3v1.3h-1.3zM147 356.3h1.3v1.3h-1.3zM52.9 353.4h1.3v1.3h-1.3zM153.1 357.8h1.3v1.3h-1.3zM147.6 304h1.3v1.3h-1.3zM163.6 352.7h1.3v1.3h-1.3zM147 382.9h1.3v1.3h-1.3zM147.2 352.1h1.3v1.3h-1.3zM155.1 364.4h1.3v1.3h-1.3zM147 345.7h1.3v1.3h-1.3zM149.8 344.4h1.3v1.3h-1.3zM154.2 301.8h1.3v1.3h-1.3zM100.7 336.9h1.3v1.3h-1.3zM142.9 355.5h1.3v1.3h-1.3zM153.5 358.3h1.3v1.3h-1.3zM159.8 375.3h1.3v1.3h-1.3zM150.7 368.3h1.3v1.3h-1.3zM103.6 349.2h1.3v1.3h-1.3zM151.5 334.3h1.3v1.3h-1.3zM160.5 332.4h1.3v1.3h-1.3zM148.3 386.8h1.3v1.3h-1.3zM164.6 362.6h1.3v1.3h-1.3zM152.8 349.2h1.3v1.3h-1.3zM149.3 363.8h1.3v1.3h-1.3zM160.6 352.3h1.3v1.3h-1.3zM153.1 362.9h1.3v1.3h-1.3zM161.6 370.7h1.3v1.3h-1.3zM166.5 339.8h1.3v1.3h-1.3zM156.6 361.7h1.3v1.3h-1.3zM157.3 346.4h1.3v1.3h-1.3zM155.3 293.6h1.3v1.3h-1.3zM153.9 333.4h1.3v1.3h-1.3zM157.1 327.6h1.3v1.3h-1.3zM165.2 350.4h1.3v1.3h-1.3zM156.9 361.2h1.3v1.3h-1.3zM156.6 343.9h1.3v1.3h-1.3zM164.5 352.5h1.3v1.3h-1.3zM149.4 336.3h1.3v1.3h-1.3zM162.3 355.4h1.3v1.3h-1.3zM86.1 339.4h1.3v1.3h-1.3zM111.5 340.3h1.3v1.3h-1.3zM152.8 332.7h1.3v1.3h-1.3zM159.3 353.2h1.3v1.3h-1.3zM159 360h1.3v1.3h-1.3zM143.4 358.4h1.3v1.3h-1.3zM151.3 369.7h1.3v1.3h-1.3zM146.1 286.9h1.3v1.3h-1.3zM154.8 344.7h1.3v1.3h-1.3zM158.5 342h1.3v1.3h-1.3zM160.5 369.1h1.3v1.3h-1.3zM157.9 347.3h1.3v1.3h-1.3zM158.6 336.9h1.3v1.3h-1.3zM133.7 361.6h1.3v1.3h-1.3zM153 340.7h1.3v1.3h-1.3zM151.3 354.2h1.3v1.3h-1.3zM156 352.1h1.3v1.3h-1.3zM149.1 337.7h1.3v1.3h-1.3zM127.5 334.4h1.3v1.3h-1.3zM156.5 363h1.3v1.3h-1.3zM157.7 358.5h1.3v1.3h-1.3zM159.1 375.6h1.3v1.3h-1.3zM150.4 349.3h1.3v1.3h-1.3zM156.9 341.5h1.3v1.3h-1.3zM153.1 290.3h1.3v1.3h-1.3zM119.7 359.4h1.3v1.3h-1.3zM165.4 351.5h1.3v1.3h-1.3zM158.9 356h1.3v1.3h-1.3zM152.2 341.3h1.3v1.3h-1.3zM157.6 373.9h1.3v1.3h-1.3zM143.2 344.9h1.3v1.3h-1.3zM154.9 351.3h1.3v1.3h-1.3zM159.3 351.8h1.3v1.3h-1.3zM152.3 362.5h1.3v1.3h-1.3zM148.5 356.3h1.3v1.3h-1.3zM167 357h1.3v1.3h-1.3zM160 376h1.3v1.3h-1.3zM107.4 352.4h1.3v1.3h-1.3zM158.3 345.4h1.3v1.3h-1.3zM151.7 361h1.3v1.3h-1.3zM153.3 365.1h1.3v1.3h-1.3zM163.5 337.1h1.3v1.3h-1.3zM150.9 350.6h1.3v1.3h-1.3zM155.5 366.5h1.3v1.3h-1.3zM157 364.2h1.3v1.3h-1.3zM160 362.8h1.3v1.3h-1.3zM150.1 378.6h1.3v1.3h-1.3zM147.9 361.2h1.3v1.3h-1.3zM157 329.8h1.3v1.3h-1.3zM149.5 368.8h1.3v1.3h-1.3zM117.6 343.2h1.3v1.3h-1.3zM150.7 335.8h1.3v1.3h-1.3zM153.1 372.1h1.3v1.3h-1.3zM146.7 353.9h1.3v1.3h-1.3zM151.1 364.3h1.3v1.3h-1.3zM148.3 345.7h1.3v1.3h-1.3zM154.7 340.8h1.3v1.3h-1.3zM164.6 343.1h1.3v1.3h-1.3zM162.3 348.5h1.3v1.3h-1.3zM95.6 346.3h1.3v1.3h-1.3zM147.8 346.6h1.3v1.3h-1.3zM161.8 345.8h1.3v1.3h-1.3zM160.4 345.5h1.3v1.3h-1.3zM124.8 369.4h1.3v1.3h-1.3zM158.9 360.2h1.3v1.3h-1.3zM154.9 363h1.3v1.3h-1.3zM152.7 363.8h1.3v1.3h-1.3zM153.3 372.5h1.3v1.3h-1.3zM152.5 366.6h1.3v1.3h-1.3zM164.8 371.7h1.3v1.3h-1.3zM142.5 361.7h1.3v1.3h-1.3zM151.4 363.8h1.3v1.3h-1.3zM156.2 350.8h1.3v1.3h-1.3zM145.1 361h1.3v1.3h-1.3zM150.5 358h1.3v1.3h-1.3zM96 352.7h1.3v1.3h-1.3zM151.5 355.2h1.3v1.3h-1.3zM148.1 369.4h1.3v1.3h-1.3zM133.4 372.9h1.3v1.3h-1.3zM108.6 357.3h1.3v1.3h-1.3zM157.6 343.4h1.3v1.3h-1.3zM148.1 347.3h1.3v1.3h-1.3zM62.6 348.6h1.3v1.3h-1.3zM156.6 367.7h1.3v1.3h-1.3zM160.9 353.6h1.3v1.3h-1.3zM155.7 384.1h1.3v1.3h-1.3zM124.8 357.6h1.3v1.3h-1.3zM148.3 371.3h1.3v1.3h-1.3zM160.2 370.3h1.3v1.3h-1.3zM172.5 343.8h1.3v1.3h-1.3zM158.5 339.7h1.3v1.3h-1.3zM95.7 329.7h1.3v1.3h-1.3zM135.7 342.1h1.3v1.3h-1.3zM136 380.7h1.3v1.3h-1.3zM147.4 367.4h1.3v1.3h-1.3zM162.5 350.8h1.3v1.3h-1.3zM157.2 376.5h1.3v1.3h-1.3zM160 372.8h1.3v1.3h-1.3zM155.1 351.3h1.3v1.3h-1.3zM163.6 358.1h1.3v1.3h-1.3zM121.6 379.7h1.3v1.3h-1.3zM163 367.5h1.3v1.3h-1.3zM160.8 372.9h1.3v1.3h-1.3zM149.2 364.7h1.3v1.3h-1.3zM149 328.1h1.3v1.3h-1.3zM157.6 362.1h1.3v1.3h-1.3zM150.9 368.7h1.3v1.3h-1.3zM152.2 339.1h1.3v1.3h-1.3zM157.2 333.5h1.3v1.3h-1.3zM163.3 351.9h1.3v1.3h-1.3zM152.6 336.5h1.3v1.3h-1.3zM149.7 387.7h1.3v1.3h-1.3zM143.7 362.9h1.3v1.3h-1.3zM150.4 348.2h1.3v1.3h-1.3zM153.7 346.4h1.3v1.3h-1.3zM156.7 345h1.3v1.3h-1.3zM154.1 298h1.3v1.3h-1.3zM163.2 341.1h1.3v1.3h-1.3zM149.4 365.7h1.3v1.3h-1.3zM159.5 349.7h1.3v1.3h-1.3zM155.9 350.5h1.3v1.3h-1.3zM145.7 341.2h1.3v1.3h-1.3zM105 352h1.3v1.3h-1.3zM151.5 347.9h1.3v1.3h-1.3zM156.4 362.9h1.3v1.3h-1.3zM162.8 368.8h1.3v1.3h-1.3zM150.1 354.9h1.3v1.3h-1.3zM153.8 362.4h1.3v1.3h-1.3zM132.6 364.5h1.3v1.3h-1.3zM175.1 364.5h1.3v1.3h-1.3zM150.8 380.4h1.3v1.3h-1.3zM159.1 358.5h1.3v1.3h-1.3zM155.3 356.6h1.3v1.3h-1.3zM152.4 379.7h1.3v1.3h-1.3zM148.2 366.6h1.3v1.3h-1.3zM103.7 355.4h1.3v1.3h-1.3zM157.6 365.5h1.3v1.3h-1.3zM148.8 303h1.3v1.3h-1.3zM151.5 376.6h1.3v1.3h-1.3zM156.4 342.1h1.3v1.3h-1.3zM156.1 325.3h1.3v1.3h-1.3zM158.5 349.1h1.3v1.3h-1.3zM144.1 340h1.3v1.3h-1.3zM152.6 351.3h1.3v1.3h-1.3zM141.1 355.8h1.3v1.3h-1.3zM112.2 352.8h1.3v1.3h-1.3zM154.1 371.4h1.3v1.3h-1.3zM150.1 360.1h1.3v1.3h-1.3zM159 330.4h1.3v1.3h-1.3zM150.3 359.7h1.3v1.3h-1.3zM152.1 347.3h1.3v1.3h-1.3zM162.2 344.2h1.3v1.3h-1.3zM160 353.4h1.3v1.3h-1.3zM155.5 355.3h1.3v1.3h-1.3zM156.8 359h1.3v1.3h-1.3zM150.9 373.6h1.3v1.3h-1.3zM141.4 320.8h1.3v1.3h-1.3zM162.8 366.7h1.3v1.3h-1.3zM152.5 345.4h1.3v1.3h-1.3zM158.1 369.3h1.3v1.3h-1.3zM161 361.6h1.3v1.3h-1.3zM114.6 372.5h1.3v1.3h-1.3zM158.5 359.8h1.3v1.3h-1.3zM108.7 358.3h1.3v1.3h-1.3zM150.9 371.6h1.3v1.3h-1.3zM147.1 387h1.3v1.3h-1.3zM157.8 346.2h1.3v1.3h-1.3zM152.2 375h1.3v1.3h-1.3zM162.1 345.6h1.3v1.3h-1.3zM157.8 362.2h1.3v1.3h-1.3zM142 371h1.3v1.3h-1.3zM158 348.2h1.3v1.3h-1.3zM149.7 356.5h1.3v1.3h-1.3zM70.1 358.5h1.3v1.3h-1.3zM147.7 355.8h1.3v1.3h-1.3zM143.8 356.6h1.3v1.3h-1.3zM150 344.5h1.3v1.3h-1.3zM154.9 366.8h1.3v1.3h-1.3zM146.4 363.6h1.3v1.3h-1.3zM149.7 329.8h1.3v1.3h-1.3zM109.5 342.6h1.3v1.3h-1.3zM149.8 354.6h1.3v1.3h-1.3zM147.4 346.9h1.3v1.3h-1.3zM158.7 334.6h1.3v1.3h-1.3zM162.6 359.2h1.3v1.3h-1.3zM114.3 350.8h1.3v1.3h-1.3zM165 358.6h1.3v1.3h-1.3zM156.3 370.5h1.3v1.3h-1.3zM152.4 310.9h1.3v1.3h-1.3zM165.6 337.1h1.3v1.3h-1.3zM155.7 363.1h1.3v1.3h-1.3zM158.1 384.6h1.3v1.3h-1.3zM157.8 364.8h1.3v1.3h-1.3zM45.4 305.3h1.3v1.3h-1.3zM98.5 357.3h1.3v1.3h-1.3zM160.2 385.7h1.3v1.3h-1.3zM88.8 343.4h1.3v1.3h-1.3zM166.6 369.1h1.3v1.3h-1.3zM143.2 352.5h1.3v1.3h-1.3zM151.5 374.4h1.3v1.3h-1.3zM153 359.3h1.3v1.3h-1.3zM149.2 352.7h1.3v1.3h-1.3zM85.2 333.6h1.3v1.3h-1.3zM150.4 352.6h1.3v1.3h-1.3zM149.8 351.2h1.3v1.3h-1.3zM146.2 359.2h1.3v1.3h-1.3zM163.6 370.6h1.3v1.3h-1.3zM159.2 374.1h1.3v1.3h-1.3zM156.1 355.1h1.3v1.3h-1.3zM149.4 362.1h1.3v1.3h-1.3zM157.2 348h1.3v1.3h-1.3zM164.6 377.2h1.3v1.3h-1.3zM133.3 383.7h1.3v1.3h-1.3zM156.7 347h1.3v1.3h-1.3zM155 340.2h1.3v1.3h-1.3zM153.5 338.5h1.3v1.3h-1.3zM88.6 351.6h1.3v1.3h-1.3zM163.4 358.7h1.3v1.3h-1.3zM118.8 375.9h1.3v1.3h-1.3zM95.7 355.7h1.3v1.3h-1.3zM161.3 336.4h1.3v1.3h-1.3zM88.4 328.7h1.3v1.3h-1.3zM138.6 364.4h1.3v1.3h-1.3zM104.7 364.6h1.3v1.3h-1.3zM142.4 292.4h1.3v1.3h-1.3zM158.6 386.5h1.3v1.3h-1.3zM137.8 360.3h1.3v1.3h-1.3zM75.5 354.1h1.3v1.3h-1.3zM105.8 356.9h1.3v1.3h-1.3zM157.7 355.2h1.3v1.3h-1.3zM161.2 372.2h1.3v1.3h-1.3zM161.2 363.8h1.3v1.3h-1.3zM151.7 351.6h1.3v1.3h-1.3zM145.6 352.2h1.3v1.3h-1.3zM150.7 358h1.3v1.3h-1.3zM155.4 354.9h1.3v1.3h-1.3zM152.8 360.4h1.3v1.3h-1.3zM149 382.4h1.3v1.3h-1.3zM146.1 330.6h1.3v1.3h-1.3zM154.4 367.7h1.3v1.3h-1.3zM145.4 343.8h1.3v1.3h-1.3zM85.1 361.3h1.3v1.3h-1.3zM145.9 340.1h1.3v1.3h-1.3zM152.5 368.1h1.3v1.3h-1.3zM159.5 340.4h1.3v1.3h-1.3zM155.3 356h1.3v1.3h-1.3zM162.5 356.1h1.3v1.3h-1.3zM146.8 350.9h1.3v1.3h-1.3zM153.2 346.3h1.3v1.3h-1.3zM150 338.7h1.3v1.3h-1.3zM149.7 374.1h1.3v1.3h-1.3zM164.4 353.3h1.3v1.3h-1.3zM154 336.8h1.3v1.3h-1.3zM164.3 364.6h1.3v1.3h-1.3zM150 352.1h1.3v1.3h-1.3zM160.9 376.4h1.3v1.3h-1.3zM152.6 358.6h1.3v1.3h-1.3zM154.6 336.5h1.3v1.3h-1.3zM154.1 331.5h1.3v1.3h-1.3zM105.9 338.8h1.3v1.3h-1.3zM149.3 353.8h1.3v1.3h-1.3zM81.3 261.5h1.3v1.3h-1.3zM163 359.6h1.3v1.3h-1.3zM150 341h1.3v1.3h-1.3zM120.1 360h1.3v1.3h-1.3zM153.2 356.4h1.3v1.3h-1.3zM155.2 340.6h1.3v1.3h-1.3zM151.8 368.4h1.3v1.3h-1.3zM148.2 387h1.3v1.3h-1.3zM160 374.9h1.3v1.3h-1.3zM154.4 354.1h1.3v1.3h-1.3zM150.3 348.8h1.3v1.3h-1.3zM159.8 333.6h1.3v1.3h-1.3zM146.5 325h1.3v1.3h-1.3zM145.6 352.7h1.3v1.3h-1.3zM158.5 351.9h1.3v1.3h-1.3zM128.7 363.1h1.3v1.3h-1.3zM149.8 351.9h1.3v1.3h-1.3zM147.7 369.5h1.3v1.3h-1.3zM147.4 348.6h1.3v1.3h-1.3zM159.3 361.4h1.3v1.3h-1.3zM156.2 380.5h1.3v1.3h-1.3zM147.8 347.2h1.3v1.3h-1.3zM157.1 350.7h1.3v1.3h-1.3zM160.8 331.6h1.3v1.3h-1.3zM155.6 342.3h1.3v1.3h-1.3zM155.2 335.4h1.3v1.3h-1.3zM145.9 363.2h1.3v1.3h-1.3zM151.7 367.6h1.3v1.3h-1.3zM156.1 368.7h1.3v1.3h-1.3zM147.5 350.5h1.3v1.3h-1.3zM156.4 364.3h1.3v1.3h-1.3zM170.4 365.2h1.3v1.3h-1.3zM147.2 345h1.3v1.3h-1.3zM150 360.5h1.3v1.3h-1.3zM142.1 343.8h1.3v1.3h-1.3zM157.6 334.2h1.3v1.3h-1.3zM151.9 348.8h1.3v1.3h-1.3zM156.5 362.7h1.3v1.3h-1.3zM151.8 343.7h1.3v1.3h-1.3zM158.9 352.6h1.3v1.3h-1.3zM144.9 339.2h1.3v1.3h-1.3zM151.4 346.9h1.3v1.3h-1.3zM155.7 370.9h1.3v1.3h-1.3zM152.6 359h1.3v1.3h-1.3zM149 364.1h1.3v1.3h-1.3z" fill="#000" fill-opacity="0.66"/>
<path d="M150.3 365.2h1.3v1.3h-1.3zM150.1 356.8h1.3v1.3h-1.3zM149.5 368.6h1.3v1.3h-1.3zM126.6 340.3h1.3v1.3h-1.3zM150.3 372.1h1.3v1.3h-1.3zM152.3 385.9h1.3v1.3h-1.3zM147.8 370.6h1.3v1.3h-1.3zM156.2 326.9h1.3v1.3h-1.3zM161.2 360h1.3v1.3h-1.3zM138.7 375.5h1.3v1.3h-1.3zM158.7 366.7h1.3v1.3h-1.3zM87.3 357.6h1.3v1.3h-1.3zM56.1 281.7h1.3v1.3h-1.3zM160 366h1.3v1.3h-1.3zM156.7 358.1h1.3v1.3h-1.3zM151.1 377.8h1.3v1.3h-1.3zM107.6 355.3h1.3v1.3h-1.3zM159.7 351.1h1.3v1.3h-1.3zM143.4 367.9h1.3v1.3h-1.3zM142.8 366.3h1.3v1.3h-1.3zM158.1 360.8h1.3v1.3h-1.3zM148.7 331.8h1.3v1.3h-1.3zM145.8 346.4h1.3v1.3h-1.3zM146.1 340h1.3v1.3h-1.3zM149.5 374.9h1.3v1.3h-1.3zM149.8 364.9h1.3v1.3h-1.3zM155.7 346.5h1.3v1.3h-1.3zM155.6 352.4h1.3v1.3h-1.3zM142 360.8h1.3v1.3h-1.3zM151.4 373.1h1.3v1.3h-1.3zM168.1 357.2h1.3v1.3h-1.3zM147.3 366.8h1.3v1.3h-1.3zM156.2 341.1h1.3v1.3h-1.3zM135.6 370h1.3v1.3h-1.3zM105.4 369.9h1.3v1.3h-1.3zM160.1 350.7h1.3v1.3h-1.3zM142.3 364.8h1.3v1.3h-1.3zM138.6 344.8h1.3v1.3h-1.3zM151.4 357.5h1.3v1.3h-1.3zM153.1 353.9h1.3v1.3h-1.3zM160.1 336.8h1.3v1.3h-1.3zM155.3 352.4h1.3v1.3h-1.3zM153.4 364.3h1.3v1.3h-1.3zM145 337.4h1.3v1.3h-1.3zM152.7 353.7h1.3v1.3h-1.3zM156.1 351.2h1.3v1.3h-1.3zM149.9 369.4h1.3v1.3h-1.3zM155.9 386h1.3v1.3h-1.3zM142 375.4h1.3v1.3h-1.3zM150.6 361.3h1.3v1.3h-1.3zM146.2 358h1.3v1.3h-1.3zM142.3 374.4h1.3v1.3h-1.3zM141 346.4h1.3v1.3h-1.3zM149.5 331h1.3v1.3h-1.3zM157.3 365.1h1.3v1.3h-1.3zM151.9 370.1h1.3v1.3h-1.3zM150.7 345.5h1.3v1.3h-1.3zM142.1 366.3h1.3v1.3h-1.3zM151.8 351.5h1.3v1.3h-1.3zM150.8 357.3h1.3v1.3h-1.3zM158.5 344h1.3v1.3h-1.3zM147.5 363.2h1.3v1.3h-1.3zM150.6 342.5h1.3v1.3h-1.3zM109.7 349.5h1.3v1.3h-1.3zM156.8 348.4h1.3v1.3h-1.3zM154.9 345.9h1.3v1.3h-1.3zM158.2 353.2h1.3v1.3h-1.3zM156.3 355.8h1.3v1.3h-1.3zM154.3 359.5h1.3v1.3h-1.3zM157 378.6h1.3v1.3h-1.3zM169.4 358.3h1.3v1.3h-1.3zM151.9 339.9h1.3v1.3h-1.3zM99.3 350.5h1.3v1.3h-1.3zM147.8 354.6h1.3v1.3h-1.3zM163.9 374.8h1.3v1.3h-1.3zM162.3 349.4h1.3v1.3h-1.3zM150.8 339.9h1.3v1.3h-1.3zM120.5 342.4h1.3v1.3h-1.3zM140.1 363.8h1.3v1.3h-1.3zM99.3 361.6h1.3v1.3h-1.3zM156.7 347.1h1.3v1.3h-1.3zM157.8 358.3h1.3v1.3h-1.3zM43.7 361.8h1.3v1.3h-1.3zM151.8 372.7h1.3v1.3h-1.3zM162.6 356.5h1.3v1.3h-1.3zM97.2 366h1.3v1.3h-1.3zM150 368.2h1.3v1.3h-1.3zM157 360.5h1.3v1.3h-1.3zM152.9 344.4h1.3v1.3h-1.3zM146 344.1h1.3v1.3h-1.3zM159.1 384.1h1.3v1.3h-1.3zM149.1 305.1h1.3v1.3h-1.3zM157.1 371.3h1.3v1.3h-1.3zM159.3 347.7h1.3v1.3h-1.3zM149.5 341.6h1.3v1.3h-1.3zM156.5 365.2h1.3v1.3h-1.3zM146 350.7h1.3v1.3h-1.3zM110.7 370.5h1.3v1.3h-1.3zM165.3 350.6h1.3v1.3h-1.3zM149.4 359.1h1.3v1.3h-1.3zM141.5 359.9h1.3v1.3h-1.3zM152.3 348.8h1.3v1.3h-1.3zM162.2 344.8h1.3v1.3h-1.3zM150.3 342h1.3v1.3h-1.3zM153.9 373.4h1.3v1.3h-1.3zM157 373.6h1.3v1.3h-1.3zM153.8 373.7h1.3v1.3h-1.3zM146.4 333.8h1.3v1.3h-1.3zM157.5 361.5h1.3v1.3h-1.3zM149 358.9h1.3v1.3h-1.3zM140.4 364.6h1.3v1.3h-1.3zM154.4 341h1.3v1.3h-1.3zM153 338.1h1.3v1.3h-1.3zM144.5 299h1.3v1.3h-1.3zM102.6 370.1h1.3v1.3h-1.3zM146.8 367.7h1.3v1.3h-1.3zM153.5 349.9h1.3v1.3h-1.3zM155.1 339.8h1.3v1.3h-1.3zM155.5 359.6h1.3v1.3h-1.3zM149.8 359.3h1.3v1.3h-1.3zM162.7 344h1.3v1.3h-1.3zM159.8 335.2h1.3v1.3h-1.3zM150.8 338.9h1.3v1.3h-1.3zM154.9 380.2h1.3v1.3h-1.3zM148.8 336.9h1.3v1.3h-1.3zM142.6 364.4h1.3v1.3h-1.3zM166.1 366.9h1.3v1.3h-1.3zM155.9 367h1.3v1.3h-1.3zM159.4 366.5h1.3v1.3h-1.3zM157.4 334.7h1.3v1.3h-1.3zM150.3 342.1h1.3v1.3h-1.3zM150.4 328.8h1.3v1.3h-1.3zM155.6 349.4h1.3v1.3h-1.3zM98.9 350.4h1.3v1.3h-1.3zM152.8 330.2h1.3v1.3h-1.3zM148.6 370.8h1.3v1.3h-1.3zM140.3 368.2h1.3v1.3h-1.3zM90.9 328.6h1.3v1.3h-1.3zM148.5 341h1.3v1.3h-1.3zM144.3 356.8h1.3v1.3h-1.3zM150.9 372.2h1.3v1.3h-1.3zM162.4 356.2h1.3v1.3h-1.3zM140.4 357.4h1.3v1.3h-1.3zM155.5 359.4h1.3v1.3h-1.3zM147.8 346.2h1.3v1.3h-1.3zM153.9 275.8h1.3v1.3h-1.3zM162.7 356h1.3v1.3h-1.3zM158.5 360.6h1.3v1.3h-1.3zM158.8 333h1.3v1.3h-1.3zM147.8 353.1h1.3v1.3h-1.3zM157.5 343.7h1.3v1.3h-1.3zM158.5 349.8h1.3v1.3h-1.3zM94 348h1.3v1.3h-1.3zM147.8 374.9h1.3v1.3h-1.3zM161.9 369.1h1.3v1.3h-1.3zM159.2 339.2h1.3v1.3h-1.3zM148.4 380.7h1.3v1.3h-1.3zM155.5 301.9h1.3v1.3h-1.3zM88.2 369.9h1.3v1.3h-1.3zM144.2 344.8h1.3v1.3h-1.3zM147.3 356.1h1.3v1.3h-1.3zM124.4 382.9h1.3v1.3h-1.3zM149.3 355.2h1.3v1.3h-1.3zM157.1 365.2h1.3v1.3h-1.3zM165.2 335.5h1.3v1.3h-1.3zM142.4 361.3h1.3v1.3h-1.3zM143.5 346.9h1.3v1.3h-1.3zM160.6 356.8h1.3v1.3h-1.3zM155.1 373.5h1.3v1.3h-1.3zM145.4 363.1h1.3v1.3h-1.3zM152.8 355h1.3v1.3h-1.3zM144 363.1h1.3v1.3h-1.3zM161.2 336.1h1.3v1.3h-1.3zM124.4 351.6h1.3v1.3h-1.3zM113.6 341.8h1.3v1.3h-1.3zM161 369.2h1.3v1.3h-1.3zM154.3 357.8h1.3v1.3h-1.3zM151.1 358.8h1.3v1.3h-1.3zM147.9 358.9h1.3v1.3h-1.3zM151.7 366.5h1.3v1.3h-1.3zM146.2 365.1h1.3v1.3h-1.3zM150.5 344.4h1.3v1.3h-1.3zM113.2 266.6h1.3v1.3h-1.3zM163.8 344.9h1.3v1.3h-1.3zM153 343.3h1.3v1.3h-1.3zM157.6 359.6h1.3v1.3h-1.3zM166.9 355.2h1.3v1.3h-1.3zM148.4 382.1h1.3v1.3h-1.3zM159.9 365.7h1.3v1.3h-1.3zM157.7 364h1.3v1.3h-1.3zM151.3 335.2h1.3v1.3h-1.3zM150.4 351.7h1.3v1.3h-1.3zM159.1 342.7h1.3v1.3h-1.3zM157.3 341.5h1.3v1.3h-1.3zM144 378.1h1.3v1.3h-1.3zM155.8 352.8h1.3v1.3h-1.3zM171.1 337h1.3v1.3h-1.3zM157.3 367.1h1.3v1.3h-1.3zM157.1 377.8h1.3v1.3h-1.3zM141.6 338.8h1.3v1.3h-1.3zM157.2 353.7h1.3v1.3h-1.3zM148.4 372.4h1.3v1.3h-1.3zM164.5 358.4h1.3v1.3h-1.3zM145.4 363.3h1.3v1.3h-1.3zM158 342.9h1.3v1.3h-1.3zM149.3 329.4h1.3v1.3h-1.3zM156.6 354.1h1.3v1.3h-1.3zM103.7 349.4h1.3v1.3h-1.3zM158.3 371.5h1.3v1.3h-1.3zM138 353.5h1.3v1.3h-1.3zM144.3 355.9h1.3v1.3h-1.3zM145.9 366.7h1.3v1.3h-1.3zM159.6 335.1h1.3v1.3h-1.3zM153.3 349.3h1.3v1.3h-1.3zM144.2 371.8h1.3v1.3h-1.3zM162.7 289.6h1.3v1.3h-1.3zM145.4 365.7h1.3v1.3h-1.3zM145.8 367.1h1.3v1.3h-1.3zM152.6 371.9h1.3v1.3h-1.3zM170.3 356.4h1.3v1.3h-1.3zM146.2 351h1.3v1.3h-1.3zM158.8 356.3h1.3v1.3h-1.3zM150.5 378h1.3v1.3h-1.3zM87.2 356.9h1.3v1.3h-1.3zM152.6 361.3h1.3v1.3h-1.3zM154.7 335.3h1.3v1.3h-1.3zM154 342.7h1.3v1.3h-1.3zM151.7 342.9h1.3v1.3h-1.3zM142.3 358.7h1.3v1.3h-1.3zM162.4 336.2h1.3v1.3h-1.3zM152.1 384.8h1.3v1.3h-1.3zM164.4 342.3h1.3v1.3h-1.3zM157.9 354.7h1.3v1.3h-1.3zM156 343.1h1.3v1.3h-1.3zM147.5 368.6h1.3v1.3h-1.3zM160.2 361.3h1.3v1.3h-1.3zM154.8 339.5h1.3v1.3h-1.3zM154.7 378.6h1.3v1.3h-1.3zM152.9 356.1h1.3v1.3h-1.3zM147.5 363.7h1.3v1.3h-1.3zM156.5 361.4h1.3v1.3h-1.3zM149.5 357.4h1.3v1.3h-1.3zM140.8 359.2h1.3v1.3h-1.3zM145.9 360.6h1.3v1.3h-1.3zM155.1 342.1h1.3v1.3h-1.3zM141 350.5h1.3v1.3h-1.3zM152.4 338.3h1.3v1.3h-1.3zM148.6 335.9h1.3v1.3h-1.3zM147.1 372.9h1.3v1.3h-1.3zM138.3 352.8h1.3v1.3h-1.3zM153.2 351.9h1.3v1.3h-1.3zM148.5 369.3h1.3v1.3h-1.3zM144.7 324.7h1.3v1.3h-1.3zM154.8 360.3h1.3v1.3h-1.3zM164 271.5h1.3v1.3h-1.3zM157.3 365.8h1.3v1.3h-1.3zM152.9 351.8h1.3v1.3h-1.3zM153.8 333.9h1.3v1.3h-1.3zM149.6 367.9h1.3v1.3h-1.3zM162.1 371.1h1.3v1.3h-1.3zM150.4 353.9h1.3v1.3h-1.3zM150.9 359.6h1.3v1.3h-1.3zM154 341.2h1.3v1.3h-1.3zM152.4 351.4h1.3v1.3h-1.3zM99.6 351h1.3v1.3h-1.3zM154 341.4h1.3v1.3h-1.3zM103.3 351.8h1.3v1.3h-1.3zM156.2 353.1h1.3v1.3h-1.3zM152.9 349.5h1.3v1.3h-1.3zM156.1 353.4h1.3v1.3h-1.3zM155.7 362.5h1.3v1.3h-1.3zM150.1 345.1h1.3v1.3h-1.3zM162.7 343.1h1.3v1.3h-1.3zM146 350.7h1.3v1.3h-1.3zM162.1 356.5h1.3v1.3h-1.3zM159.2 371.3h1.3v1.3h-1.3zM167.2 370.5h1.3v1.3h-1.3zM160.7 324.7h1.3v1.3h-1.3zM154.4 356.5h1.3v1.3h-1.3zM149.2 354.3h1.3v1.3h-1.3zM154.7 328.9h1.3v1.3h-1.3zM153.3 363.6h1.3v1.3h-1.3zM150.4 348.1h1.3v1.3h-1.3zM156.3 359.5h1.3v1.3h-1.3zM155.6 338.6h1.3v1.3h-1.3zM163.1 364.3h1.3v1.3h-1.3zM153 376.1h1.3v1.3h-1.3zM159.8 346.9h1.3v1.3h-1.3zM153.1 356.2h1.3v1.3h-1.3zM147.6 379.4h1.3v1.3h-1.3zM159.3 367.7h1.3v1.3h-1.3zM149.4 366.2h1.3v1.3h-1.3zM162.1 348.6h1.3v1.3h-1.3zM154.2 351.7h1.3v1.3h-1.3zM121.6 329.7h1.3v1.3h-1.3zM157.5 360.8h1.3v1.3h-1.3zM160.1 367h1.3v1.3h-1.3zM153.6 380.4h1.3v1.3h-1.3zM149.5 345.6h1.3v1.3h-1.3zM159.7 363.1h1.3v1.3h-1.3zM149.8 349.9h1.3v1.3h-1.3zM157.6 352.2h1.3v1.3h-1.3zM144.8 364h1.3v1.3h-1.3zM148.8 349.3h1.3v1.3h-1.3zM154.5 372h1.3v1.3h-1.3zM143.8 333.3h1.3v1.3h-1.3zM151.4 380.3h1.3v1.3h-1.3zM45.5 309.8h1.3v1.3h-1.3zM155.9 345.3h1.3v1.3h-1.3zM171.3 375.6h1.3v1.3h-1.3zM161.1 359.1h1.3v1.3h-1.3zM151.5 360.3h1.3v1.3h-1.3zM160.9 366.8h1.3v1.3h-1.3zM157.1 376.4h1.3v1.3h-1.3zM149.3 337.7h1.3v1.3h-1.3zM160.2 354.4h1.3v1.3h-1.3zM157 359.7h1.3v1.3h-1.3zM147.7 292.3h1.3v1.3h-1.3zM148.2 363.2h1.3v1.3h-1.3zM141.1 382.7h1.3v1.3h-1.3zM139.1 387.2h1.3v1.3h-1.3zM153.7 370.3h1.3v1.3h-1.3zM148.6 354.4h1.3v1.3h-1.3zM153 361.4h1.3v1.3h-1.3zM161.5 353.9h1.3v1.3h-1.3zM153.4 372.2h1.3v1.3h-1.3zM153.4 369.8h1.3v1.3h-1.3zM162.7 380.4h1.3v1.3h-1.3zM153.9 348h1.3v1.3h-1.3zM155.6 370.6h1.3v1.3h-1.3zM158.8 356.3h1.3v1.3h-1.3zM153.6 337.1h1.3v1.3h-1.3zM159.1 363.2h1.3v1.3h-1.3zM146.7 359.9h1.3v1.3h-1.3zM162.6 342.1h1.3v1.3h-1.3zM100.9 370.9h1.3v1.3h-1.3zM149.6 362.4h1.3v1.3h-1.3zM155.8 336.4h1.3v1.3h-1.3zM166 372h1.3v1.3h-1.3zM160.5 356.7h1.3v1.3h-1.3zM149.5 342.6h1.3v1.3h-1.3zM166.3 337.1h1.3v1.3h-1.3zM151.7 368.3h1.3v1.3h-1.3zM140.7 370.7h1.3v1.3h-1.3zM144.9 359.2h1.3v1.3h-1.3zM160.1 368.3h1.3v1.3h-1.3zM156.3 382.9h1.3v1.3h-1.3zM161.3 361.6h1.3v1.3h-1.3zM154.2 351.2h1.3v1.3h-1.3zM153.4 368.1h1.3v1.3h-1.3zM157.5 382h1.3v1.3h-1.3zM161.3 366.9h1.3v1.3h-1.3zM156.3 367.1h1.3v1.3h-1.3zM154.5 334.4h1.3v1.3h-1.3zM115.9 346.6h1.3v1.3h-1.3zM148.9 342.8h1.3v1.3h-1.3zM90.8 341.1h1.3v1.3h-1.3zM152 355.8h1.3v1.3h-1.3zM156.9 364.6h1.3v1.3h-1.3zM164.2 377.8h1.3v1.3h-1.3zM150.7 340.2h1.3v1.3h-1.3zM156.8 316.8h1.3v1.3h-1.3zM101.3 360.1h1.3v1.3h-1.3zM155.9 342h1.3v1.3h-1.3zM161.3 353h1.3v1.3h-1.3zM154.9 379.8h1.3v1.3h-1.3zM140.7 359.3h1.3v1.3h-1.3zM148.6 364.8h1.3v1.3h-1.3zM157.5 365h1.3v1.3h-1.3zM154.1 372.7h1.3v1.3h-1.3zM148.2 330.9h1.3v1.3h-1.3zM158.9 359.7h1.3v1.3h-1.3zM153.2 347.9h1.3v1.3h-1.3zM104.6 359.2h1.3v1.3h-1.3zM152.5 336.4h1.3v1.3h-1.3zM156.4 349.9h1.3v1.3h-1.3zM70.3 354.3h1.3v1.3h-1.3zM147.5 353.7h1.3v1.3h-1.3zM148.7 363.1h1.3v1.3h-1.3zM83.6 347.2h1.3v1.3h-1.3zM153.5 353.9h1.3v1.3h-1.3zM145.4 338.3h1.3v1.3h-1.3zM155.8 366.1h1.3v1.3h-1.3zM164.9 326h1.3v1.3h-1.3zM145.9 316.8h1.3v1.3h-1.3zM148.1 371.7h1.3v1.3h-1.3zM155.2 347.7h1.3v1.3h-1.3zM158.9 364.7h1.3v1.3h-1.3zM163.7 371.1h1.3v1.3h-1.3zM153.4 369h1.3v1.3h-1.3zM158.8 368.8h1.3v1.3h-1.3zM109.4 359.3h1.3v1.3h-1.3zM162 360h1.3v1.3h-1.3zM155.8 336.4h1.3v1.3h-1.3zM150.6 345.1h1.3v1.3h-1.3zM152.7 351.2h1.3v1.3h-1.3zM151 354.4h1.3v1.3h-1.3zM148.8 354.8h1.3v1.3h-1.3zM146.6 360.2h1.3v1.3h-1.3zM76.6 350.3h1.3v1.3h-1.3zM164.9 347.8h1.3v1.3h-1.3zM155.3 362.3h1.3v1.3h-1.3zM142.8 369.9h1.3v1.3h-1.3zM150.5 369.7h1.3v1.3h-1.3zM154.5 368.6h1.3v1.3h-1.3zM154.6 360.4h1.3v1.3h-1.3zM146.6 364h1.3v1.3h-1.3zM158.6 371.4h1.3v1.3h-1.3zM153.2 341.2h1.3v1.3h-1.3zM149.5 348.1h1.3v1.3h-1.3zM77.5 346h1.3v1.3h-1.3zM156.7 344.5h1.3v1.3h-1.3zM161 367.6h1.3v1.3h-1.3zM47.1 366.1h1.3v1.3h-1.3zM158.1 371.7h1.3v1.3h-1.3zM159.4 353.3h1.3v1.3h-1.3zM156.3 379.4h1.3v1.3h-1.3zM153 359.7h1.3v1.3h-1.3zM150.8 348.1h1.3v1.3h-1.3zM153.8 379.9h1.3v1.3h-1.3zM152.9 353h1.3v1.3h-1.3zM155.5 327.8h1.3v1.3h-1.3zM154.6 360.7h1.3v1.3h-1.3zM143.7 382.7h1.3v1.3h-1.3zM155.1 359.2h1.3v1.3h-1.3zM150.3 353.8h1.3v1.3h-1.3zM156.3 356.6h1.3v1.3h-1.3zM152.2 349.4h1.3v1.3h-1.3zM158.7 361.6h1.3v1.3h-1.3zM161.7 350.4h1.3v1.3h-1.3zM154 328.5h1.3v1.3h-1.3zM151 379.2h1.3v1.3h-1.3zM147 355.9h1.3v1.3h-1.3zM157.9 367.6h1.3v1.3h-1.3zM164.6 359.8h1.3v1.3h-1.3zM144.2 383.7h1.3v1.3h-1.3zM141.9 336.1h1.3v1.3h-1.3zM143.6 363.7h1.3v1.3h-1.3zM155.1 362.9h1.3v1.3h-1.3zM148.8 339.4h1.3v1.3h-1.3zM145.9 368.7h1.3v1.3h-1.3zM152.6 375.6h1.3v1.3h-1.3z" fill="#000" fill-opacity="0.66"/>
<path d="M144.1 351.2h1.3v1.3h-1.3zM153.8 344.2h1.3v1.3h-1.3zM149.3 365.6h1.3v1.3h-1.3zM145.1 360.7h1.3v1.3h-1.3zM147.5 372.9h1.3v1.3h-1.3zM149.3 345.2h1.3v1.3h-1.3zM150.2 370.2h1.3v1.3h-1.3zM148.5 307h1.3v1.3h-1.3zM150.2 362.8h1.3v1.3h-1.3zM136.2 352.5h1.3v1.3h-1.3zM159.4 301.5h1.3v1.3h-1.3zM156.4 374h1.3v1.3h-1.3zM156.8 380.1h1.3v1.3h-1.3zM147.8 356.7h1.3v1.3h-1.3zM160.1 352.7h1.3v1.3h-1.3zM153.3 303.1h1.3v1.3h-1.3zM154.9 351.6h1.3v1.3h-1.3zM153.2 379.7h1.3v1.3h-1.3zM162.9 386.9h1.3v1.3h-1.3zM158.5 358h1.3v1.3h-1.3zM151.4 357.1h1.3v1.3h-1.3zM153.7 340.9h1.3v1.3h-1.3zM151.8 346.4h1.3v1.3h-1.3zM154.7 344.8h1.3v1.3h-1.3zM150.4 359.3h1.3v1.3h-1.3zM146.2 356.9h1.3v1.3h-1.3zM153.9 386h1.3v1.3h-1.3zM157.2 363.7h1.3v1.3h-1.3zM150 359.7h1.3v1.3h-1.3zM163.9 367h1.3v1.3h-1.3zM150.7 357.1h1.3v1.3h-1.3zM160.7 351.9h1.3v1.3h-1.3zM164.7 371h1.3v1.3h-1.3zM99 371.1h1.3v1.3h-1.3zM182.9 359.7h1.3v1.3h-1.3zM151.5 365.9h1.3v1.3h-1.3zM156.4 343.3h1.3v1.3h-1.3zM154.7 333.4h1.3v1.3h-1.3zM144.5 371.5h1.3v1.3h-1.3zM153.4 341.5h1.3v1.3h-1.3zM112 367.4h1.3v1.3h-1.3zM147.3 382.9h1.3v1.3h-1.3zM153.6 365.5h1.3v1.3h-1.3zM155.4 369.3h1.3v1.3h-1.3zM159.9 352.5h1.3v1.3h-1.3zM152.3 329.4h1.3v1.3h-1.3zM152.4 347.3h1.3v1.3h-1.3zM146.6 336.7h1.3v1.3h-1.3zM71.1 366.3h1.3v1.3h-1.3zM152.2 367.4h1.3v1.3h-1.3zM162 348.1h1.3v1.3h-1.3zM154.7 343.8h1.3v1.3h-1.3zM155.3 374.8h1.3v1.3h-1.3zM160.3 289.9h1.3v1.3h-1.3zM154.6 340.7h1.3v1.3h-1.3zM152.5 351.3h1.3v1.3h-1.3zM145.7 334.7h1.3v1.3h-1.3zM155.4 371.6h1.3v1.3h-1.3zM156 362.5h1.3v1.3h-1.3zM157.8 341.2h1.3v1.3h-1.3zM90.5 365.3h1.3v1.3h-1.3zM96.1 360.4h1.3v1.3h-1.3zM150.6 332.3h1.3v1.3h-1.3zM154.9 358.2h1.3v1.3h-1.3zM142.8 382.6h1.3v1.3h-1.3zM157.6 363h1.3v1.3h-1.3zM155.8 337.7h1.3v1.3h-1.3zM162.2 380.9h1.3v1.3h-1.3zM141.7 371.8h1.3v1.3h-1.3zM138.9 340.4h1.3v1.3h-1.3zM157.3 345.4h1.3v1.3h-1.3zM151.1 345.9h1.3v1.3h-1.3zM155.5 354.6h1.3v1.3h-1.3zM157.1 366.9h1.3v1.3h-1.3zM153.7 368.4h1.3v1.3h-1.3zM105.2 348.9h1.3v1.3h-1.3zM163 374.3h1.3v1.3h-1.3zM144.4 367.5h1.3v1.3h-1.3zM160.4 350.6h1.3v1.3h-1.3zM151 347.4h1.3v1.3h-1.3zM144.3 344.6h1.3v1.3h-1.3zM150.6 350h1.3v1.3h-1.3zM158.3 350.3h1.3v1.3h-1.3zM147 366.5h1.3v1.3h-1.3zM164.1 350.3h1.3v1.3h-1.3zM160.8 333.4h1.3v1.3h-1.3zM156.3 336.2h1.3v1.3h-1.3zM161.4 379h1.3v1.3h-1.3zM151.1 345.3h1.3v1.3h-1.3zM162.4 360.8h1.3v1.3h-1.3zM159.1 370.9h1.3v1.3h-1.3zM154.9 351.7h1.3v1.3h-1.3zM160.7 372.9h1.3v1.3h-1.3zM159.9 309.3h1.3v1.3h-1.3zM138.4 347.7h1.3v1.3h-1.3zM52.4 270.8h1.3v1.3h-1.3zM144.3 360.2h1.3v1.3h-1.3zM143.5 347.4h1.3v1.3h-1.3zM141.7 344.3h1.3v1.3h-1.3zM141.1 385.6h1.3v1.3h-1.3zM159.9 357.5h1.3v1.3h-1.3zM176 369.7h1.3v1.3h-1.3zM161.3 366.6h1.3v1.3h-1.3zM150.4 342.9h1.3v1.3h-1.3zM150.8 350.7h1.3v1.3h-1.3zM154 361.6h1.3v1.3h-1.3zM149.3 350.8h1.3v1.3h-1.3zM152.5 349.7h1.3v1.3h-1.3zM148 353.7h1.3v1.3h-1.3zM158.2 337.4h1.3v1.3h-1.3zM147.4 355.5h1.3v1.3h-1.3zM158.2 360.1h1.3v1.3h-1.3zM153.6 348.6h1.3v1.3h-1.3zM159.5 293.5h1.3v1.3h-1.3zM170.7 321.9h1.3v1.3h-1.3zM166.2 370.7h1.3v1.3h-1.3zM148 334.4h1.3v1.3h-1.3zM152 364.2h1.3v1.3h-1.3zM143.6 372h1.3v1.3h-1.3zM154.4 345.6h1.3v1.3h-1.3zM153.7 373.7h1.3v1.3h-1.3zM145 333.5h1.3v1.3h-1.3zM161.4 368.4h1.3v1.3h-1.3zM160 348.4h1.3v1.3h-1.3zM149.2 368.5h1.3v1.3h-1.3zM151.7 350h1.3v1.3h-1.3zM148.5 348.3h1.3v1.3h-1.3zM142 384.9h1.3v1.3h-1.3zM148.4 327.3h1.3v1.3h-1.3zM84.3 328.6h1.3v1.3h-1.3zM150.1 342.9h1.3v1.3h-1.3zM159.3 328.2h1.3v1.3h-1.3zM156.1 353.9h1.3v1.3h-1.3zM146.7 337.5h1.3v1.3h-1.3zM149.8 364.7h1.3v1.3h-1.3zM159 380.1h1.3v1.3h-1.3zM158.3 366.7h1.3v1.3h-1.3zM164.8 373.2h1.3v1.3h-1.3zM74.5 354.2h1.3v1.3h-1.3zM101.3 348.7h1.3v1.3h-1.3zM146.2 350.3h1.3v1.3h-1.3zM152.2 346.5h1.3v1.3h-1.3zM148.5 341.1h1.3v1.3h-1.3zM151.7 344.2h1.3v1.3h-1.3zM170.4 349.8h1.3v1.3h-1.3zM104.5 360.4h1.3v1.3h-1.3zM147.8 349.1h1.3v1.3h-1.3zM155.5 359.8h1.3v1.3h-1.3zM146.5 367.6h1.3v1.3h-1.3zM138 340.8h1.3v1.3h-1.3zM153.3 362.3h1.3v1.3h-1.3zM156.1 342.3h1.3v1.3h-1.3zM129.9 348.1h1.3v1.3h-1.3zM161.1 356.4h1.3v1.3h-1.3zM151.9 371.4h1.3v1.3h-1.3zM117.6 337.6h1.3v1.3h-1.3zM155.9 331.4h1.3v1.3h-1.3zM143.7 344.8h1.3v1.3h-1.3zM158.1 362.6h1.3v1.3h-1.3zM151.2 358.4h1.3v1.3h-1.3zM162.2 349.3h1.3v1.3h-1.3zM165.4 360.6h1.3v1.3h-1.3zM89.8 359.6h1.3v1.3h-1.3zM150.9 361.1h1.3v1.3h-1.3zM150.1 365.5h1.3v1.3h-1.3zM156.5 354.5h1.3v1.3h-1.3zM153.3 343.8h1.3v1.3h-1.3zM149.9 368.2h1.3v1.3h-1.3zM152.5 374h1.3v1.3h-1.3zM146.7 367.7h1.3v1.3h-1.3zM152.6 368.8h1.3v1.3h-1.3zM150.3 360.5h1.3v1.3h-1.3zM153.9 363.5h1.3v1.3h-1.3zM153.3 380.3h1.3v1.3h-1.3zM158.2 369.4h1.3v1.3h-1.3zM166.9 367.5h1.3v1.3h-1.3zM126.9 367.1h1.3v1.3h-1.3zM79.5 358.8h1.3v1.3h-1.3zM150.8 333.8h1.3v1.3h-1.3zM153.3 351h1.3v1.3h-1.3zM158.2 334.8h1.3v1.3h-1.3zM113.4 347h1.3v1.3h-1.3zM155.3 340h1.3v1.3h-1.3zM153.8 334.6h1.3v1.3h-1.3zM153.5 371.7h1.3v1.3h-1.3zM158.5 340.2h1.3v1.3h-1.3zM150.3 353.2h1.3v1.3h-1.3zM167.1 363.9h1.3v1.3h-1.3zM167.8 342h1.3v1.3h-1.3zM156.2 344.4h1.3v1.3h-1.3zM156.3 370.2h1.3v1.3h-1.3zM160.5 359.5h1.3v1.3h-1.3zM118.6 351.7h1.3v1.3h-1.3zM150 354.2h1.3v1.3h-1.3zM168.2 359.2h1.3v1.3h-1.3zM158.6 354.1h1.3v1.3h-1.3zM152.1 349.4h1.3v1.3h-1.3zM153.5 349.9h1.3v1.3h-1.3zM157.7 347.5h1.3v1.3h-1.3zM109 338.7h1.3v1.3h-1.3zM147.4 359.6h1.3v1.3h-1.3zM156.1 345.6h1.3v1.3h-1.3zM154.7 362h1.3v1.3h-1.3zM156 357.6h1.3v1.3h-1.3zM102.7 357.4h1.3v1.3h-1.3zM153 335.9h1.3v1.3h-1.3zM152.9 380h1.3v1.3h-1.3zM147.1 358.3h1.3v1.3h-1.3zM150.7 368.9h1.3v1.3h-1.3zM151 363.3h1.3v1.3h-1.3zM158.2 346.1h1.3v1.3h-1.3zM155.9 351.1h1.3v1.3h-1.3zM51.5 353h1.3v1.3h-1.3zM154.9 350h1.3v1.3h-1.3zM150.7 354.8h1.3v1.3h-1.3zM155.4 359.4h1.3v1.3h-1.3zM156.9 363.2h1.3v1.3h-1.3zM150.2 348.2h1.3v1.3h-1.3zM147.6 358.2h1.3v1.3h-1.3zM149.2 359.5h1.3v1.3h-1.3zM164.2 359.3h1.3v1.3h-1.3zM153.5 336.7h1.3v1.3h-1.3zM164.9 365.2h1.3v1.3h-1.3zM148.1 372.1h1.3v1.3h-1.3zM149 340.4h1.3v1.3h-1.3zM156.6 369.6h1.3v1.3h-1.3zM150.1 358.8h1.3v1.3h-1.3zM155.2 350.7h1.3v1.3h-1.3zM150.9 373.7h1.3v1.3h-1.3zM165.7 354.1h1.3v1.3h-1.3zM156.7 339.1h1.3v1.3h-1.3zM153.2 342h1.3v1.3h-1.3zM151.2 351.4h1.3v1.3h-1.3zM162.2 355.7h1.3v1.3h-1.3zM149.9 291.8h1.3v1.3h-1.3zM155.4 344.5h1.3v1.3h-1.3zM75.8 364.5h1.3v1.3h-1.3zM109.8 379h1.3v1.3h-1.3zM157.7 358.3h1.3v1.3h-1.3zM159.8 377.5h1.3v1.3h-1.3zM165.4 365.7h1.3v1.3h-1.3zM167.3 343.8h1.3v1.3h-1.3zM163.3 334.2h1.3v1.3h-1.3zM149.6 360.9h1.3v1.3h-1.3zM71.4 348.4h1.3v1.3h-1.3zM124.4 324.6h1.3v1.3h-1.3zM157.5 349.5h1.3v1.3h-1.3zM152.9 353.5h1.3v1.3h-1.3zM157.6 340.7h1.3v1.3h-1.3zM159.1 356.9h1.3v1.3h-1.3zM153.3 294.5h1.3v1.3h-1.3zM144.7 351.1h1.3v1.3h-1.3zM65.9 355.6h1.3v1.3h-1.3zM164.5 351h1.3v1.3h-1.3zM158.7 348h1.3v1.3h-1.3zM152 382.1h1.3v1.3h-1.3zM146.8 365.3h1.3v1.3h-1.3zM151.6 342.4h1.3v1.3h-1.3zM162.5 369.9h1.3v1.3h-1.3zM53.9 366.2h1.3v1.3h-1.3zM152.1 344.4h1.3v1.3h-1.3zM151 336.9h1.3v1.3h-1.3zM169.2 356.5h1.3v1.3h-1.3zM157.7 343.7h1.3v1.3h-1.3zM150.5 349.8h1.3v1.3h-1.3zM151.4 296.4h1.3v1.3h-1.3zM143.4 306h1.3v1.3h-1.3zM99.7 360.3h1.3v1.3h-1.3zM159.8 366.5h1.3v1.3h-1.3zM156.7 355.2h1.3v1.3h-1.3zM157.5 342.2h1.3v1.3h-1.3zM150.5 361h1.3v1.3h-1.3zM149.7 335.3h1.3v1.3h-1.3zM165.5 357.4h1.3v1.3h-1.3zM162.6 358.1h1.3v1.3h-1.3zM154.8 367.4h1.3v1.3h-1.3zM136.5 373.4h1.3v1.3h-1.3zM157.8 354.2h1.3v1.3h-1.3zM158.8 357.5h1.3v1.3h-1.3zM77.9 369.9h1.3v1.3h-1.3zM150.5 378.7h1.3v1.3h-1.3zM155.6 352.3h1.3v1.3h-1.3zM155.1 339.1h1.3v1.3h-1.3zM143.5 350.2h1.3v1.3h-1.3zM145.6 337.7h1.3v1.3h-1.3zM148.9 375.4h1.3v1.3h-1.3zM132.4 363.1h1.3v1.3h-1.3zM151.2 383.6h1.3v1.3h-1.3zM158.6 352.7h1.3v1.3h-1.3zM150.3 328.4h1.3v1.3h-1.3zM150.7 385h1.3v1.3h-1.3zM118.8 361.4h1.3v1.3h-1.3zM145.5 356.2h1.3v1.3h-1.3zM155.7 336.4h1.3v1.3h-1.3zM142.3 285.6h1.3v1.3h-1.3zM149.7 339.2h1.3v1.3h-1.3zM150.8 347h1.3v1.3h-1.3zM156.2 375.3h1.3v1.3h-1.3zM158.7 366.6h1.3v1.3h-1.3zM154.5 309.7h1.3v1.3h-1.3zM150.5 292.3h1.3v1.3h-1.3zM159.5 348.3h1.3v1.3h-1.3zM160.2 366.1h1.3v1.3h-1.3zM69.1 312.8h1.3v1.3h-1.3zM158.8 360.2h1.3v1.3h-1.3zM146 342.6h1.3v1.3h-1.3zM150.8 349.1h1.3v1.3h-1.3zM154.1 364.4h1.3v1.3h-1.3zM147.5 343h1.3v1.3h-1.3zM158.1 368.1h1.3v1.3h-1.3zM155.6 359.5h1.3v1.3h-1.3zM147.5 360h1.3v1.3h-1.3zM163.7 350h1.3v1.3h-1.3zM136.7 358.9h1.3v1.3h-1.3zM154.4 370.6h1.3v1.3h-1.3zM61.9 325.8h1.3v1.3h-1.3zM156.8 356.6h1.3v1.3h-1.3zM119.1 339.4h1.3v1.3h-1.3zM149.2 351.9h1.3v1.3h-1.3zM159.2 350.5h1.3v1.3h-1.3zM150 309.5h1.3v1.3h-1.3zM156.2 365.6h1.3v1.3h-1.3zM147.3 363.7h1.3v1.3h-1.3zM133.7 351.8h1.3v1.3h-1.3zM145.4 370.8h1.3v1.3h-1.3zM158 364.5h1.3v1.3h-1.3zM159.8 348.9h1.3v1.3h-1.3zM95.2 347.8h1.3v1.3h-1.3zM158.9 345h1.3v1.3h-1.3zM149.3 376.2h1.3v1.3h-1.3zM159.2 342.8h1.3v1.3h-1.3zM149.6 362.6h1.3v1.3h-1.3zM152.2 365h1.3v1.3h-1.3zM132.4 326.4h1.3v1.3h-1.3zM152.6 343.4h1.3v1.3h-1.3zM154.9 363.9h1.3v1.3h-1.3zM107.6 353.4h1.3v1.3h-1.3zM154.5 351.8h1.3v1.3h-1.3zM159.1 371.3h1.3v1.3h-1.3zM143.8 354.6h1.3v1.3h-1.3zM161 354.2h1.3v1.3h-1.3zM153.5 355.8h1.3v1.3h-1.3zM153 357.4h1.3v1.3h-1.3zM150.4 382.5h1.3v1.3h-1.3zM141.6 339.9h1.3v1.3h-1.3zM157 359.4h1.3v1.3h-1.3zM155.1 366.3h1.3v1.3h-1.3zM154.8 364.4h1.3v1.3h-1.3zM157.1 348.8h1.3v1.3h-1.3zM145.6 353.1h1.3v1.3h-1.3zM161.2 378.5h1.3v1.3h-1.3zM153.6 317.8h1.3v1.3h-1.3zM157.7 359.2h1.3v1.3h-1.3zM153.1 372.3h1.3v1.3h-1.3zM150.2 358.3h1.3v1.3h-1.3zM148.4 352.7h1.3v1.3h-1.3zM154.8 332.5h1.3v1.3h-1.3zM148.6 357.9h1.3v1.3h-1.3zM159.3 368.1h1.3v1.3h-1.3zM89.8 342.4h1.3v1.3h-1.3zM157.2 334.3h1.3v1.3h-1.3zM152.4 383.1h1.3v1.3h-1.3zM159.9 353.9h1.3v1.3h-1.3zM160.7 359.7h1.3v1.3h-1.3zM161.5 353h1.3v1.3h-1.3zM147.6 349.9h1.3v1.3h-1.3zM78.2 366.2h1.3v1.3h-1.3zM157.3 349.7h1.3v1.3h-1.3zM169.4 342.3h1.3v1.3h-1.3zM150.5 353.9h1.3v1.3h-1.3zM158.8 341.9h1.3v1.3h-1.3zM151 368.3h1.3v1.3h-1.3zM152.5 345.1h1.3v1.3h-1.3zM164.9 368.6h1.3v1.3h-1.3zM149.2 353.8h1.3v1.3h-1.3zM142.9 341.7h1.3v1.3h-1.3zM153.1 334.4h1.3v1.3h-1.3zM152.8 340.4h1.3v1.3h-1.3zM163.9 350.7h1.3v1.3h-1.3zM149.9 370h1.3v1.3h-1.3zM152.9 366.4h1.3v1.3h-1.3zM164.2 353.8h1.3v1.3h-1.3zM144.4 344.9h1.3v1.3h-1.3zM142.3 370.3h1.3v1.3h-1.3zM142.7 350.2h1.3v1.3h-1.3zM158.5 336.6h1.3v1.3h-1.3zM160.2 345.8h1.3v1.3h-1.3zM155.5 374.6h1.3v1.3h-1.3zM161.7 341.1h1.3v1.3h-1.3zM160.6 349.7h1.3v1.3h-1.3zM150.2 356.6h1.3v1.3h-1.3zM144.6 350.9h1.3v1.3h-1.3zM155.3 358.9h1.3v1.3h-1.3zM159.6 369.5h1.3v1.3h-1.3zM158.5 352.9h1.3v1.3h-1.3zM158.3 349.3h1.3v1.3h-1.3zM153.5 333.4h1.3v1.3h-1.3zM107.6 353.6h1.3v1.3h-1.3zM157.9 369.9h1.3v1.3h-1.3zM159.5 341.7h1.3v1.3h-1.3zM147.4 366.4h1.3v1.3h-1.3zM146.8 349.5h1.3v1.3h-1.3zM164.4 362.4h1.3v1.3h-1.3zM153.1 369.9h1.3v1.3h-1.3zM163.4 363.2h1.3v1.3h-1.3zM156.5 379.7h1.3v1.3h-1.3zM156.5 357.4h1.3v1.3h-1.3zM146.5 365.8h1.3v1.3h-1.3zM147.4 369.5h1.3v1.3h-1.3zM145.5 353.7h1.3v1.3h-1.3zM162.5 340.9h1.3v1.3h-1.3zM104.6 347.3h1.3v1.3h-1.3zM151.3 341.1h1.3v1.3h-1.3zM158.7 349.4h1.3v1.3h-1.3zM147.4 354.2h1.3v1.3h-1.3zM155.2 373.9h1.3v1.3h-1.3zM105.3 360.7h1.3v1.3h-1.3zM156.8 352.2h1.3v1.3h-1.3zM151.8 345.9h1.3v1.3h-1.3zM153.4 334.5h1.3v1.3h-1.3zM157.3 378.3h1.3v1.3h-1.3zM157.3 367.7h1.3v1.3h-1.3zM147.1 286.6h1.3v1.3h-1.3zM150.9 360.8h1.3v1.3h-1.3zM159.3 356.8h1.3v1.3h-1.3zM147.1 375.7h1.3v1.3h-1.3zM165.6 344.4h1.3v1.3h-1.3zM153.7 364h1.3v1.3h-1.3zM155.9 364.2h1.3v1.3h-1.3zM154.3 342.2h1.3v1.3h-1.3zM159.5 353.7h1.3v1.3h-1.3zM159.6 352.9h1.3v1.3h-1.3zM151.3 385.2h1.3v1.3h-1.3zM160.1 374.6h1.3v1.3h-1.3zM149.7 311.8h1.3v1.3h-1.3zM145.8 378h1.3v1.3h-1.3zM161.6 336.3h1.3v1.3h-1.3zM160.6 364.1h1.3v1.3h-1.3zM156.8 345.8h1.3v1.3h-1.3zM149.8 345.5h1.3v1.3h-1.3zM150.5 348.3h1.3v1.3h-1.3zM149.8 364.5h1.3v1.3h-1.3z" fill="#000" fill-opacity="0.66"/>
<path d="M75.3 326.9h1.3v1.3h-1.3zM82.3 344.2h1.3v1.3h-1.3zM155.4 374.2h1.3v1.3h-1.3zM146.9 383.8h1.3v1.3h-1.3zM146.6 370.5h1.3v1.3h-1.3zM151.8 349.7h1.3v1.3h-1.3zM157.8 338.6h1.3v1.3h-1.3zM102.3 341.5h1.3v1.3h-1.3zM153.7 367.7h1.3v1.3h-1.3zM150.7 378.7h1.3v1.3h-1.3zM157 368.5h1.3v1.3h-1.3zM156.9 351.4h1.3v1.3h-1.3zM151.7 363.4h1.3v1.3h-1.3zM168.4 354.8h1.3v1.3h-1.3zM145.8 356.6h1.3v1.3h-1.3zM147.5 369.3h1.3v1.3h-1.3zM105.8 359.6h1.3v1.3h-1.3zM147.2 363.1h1.3v1.3h-1.3zM156 315.1h1.3v1.3h-1.3zM153.3 350.1h1.3v1.3h-1.3zM87.3 366.2h1.3v1.3h-1.3zM148 356.6h1.3v1.3h-1.3zM150.1 352.8h1.3v1.3h-1.3zM156.2 354.1h1.3v1.3h-1.3zM136.7 356h1.3v1.3h-1.3zM155.2 374.3h1.3v1.3h-1.3zM154.2 361.6h1.3v1.3h-1.3zM146.2 355.3h1.3v1.3h-1.3zM155.4 360.1h1.3v1.3h-1.3zM156.6 348.9h1.3v1.3h-1.3zM156.9 342.1h1.3v1.3h-1.3zM149.7 367h1.3v1.3h-1.3zM157.6 358.6h1.3v1.3h-1.3zM149.9 374h1.3v1.3h-1.3zM162.4 358.4h1.3v1.3h-1.3zM151.7 353.5h1.3v1.3h-1.3zM151.5 363h1.3v1.3h-1.3zM156.4 346h1.3v1.3h-1.3zM150.7 374.7h1.3v1.3h-1.3zM99.4 366.6h1.3v1.3h-1.3zM150 356.8h1.3v1.3h-1.3zM151.5 363.3h1.3v1.3h-1.3zM165.3 369.5h1.3v1.3h-1.3zM143.8 383.1h1.3v1.3h-1.3zM146.7 380.9h1.3v1.3h-1.3zM140.9 346.1h1.3v1.3h-1.3zM161.6 353.2h1.3v1.3h-1.3zM148.2 301.5h1.3v1.3h-1.3zM161.4 354.2h1.3v1.3h-1.3zM150.5 365.6h1.3v1.3h-1.3zM161.1 358.2h1.3v1.3h-1.3zM151.9 347h1.3v1.3h-1.3zM151.6 369.9h1.3v1.3h-1.3zM160.6 380.8h1.3v1.3h-1.3zM158.3 374.8h1.3v1.3h-1.3zM146.5 348.5h1.3v1.3h-1.3zM162 364h1.3v1.3h-1.3zM142 369.4h1.3v1.3h-1.3zM151.2 361.7h1.3v1.3h-1.3zM155.4 359h1.3v1.3h-1.3zM157.2 356.9h1.3v1.3h-1.3zM158.7 379.4h1.3v1.3h-1.3zM102.5 351h1.3v1.3h-1.3zM152.9 353.5h1.3v1.3h-1.3zM134.6 312.1h1.3v1.3h-1.3zM157.9 340.6h1.3v1.3h-1.3zM153.7 370.2h1.3v1.3h-1.3zM157 337.4h1.3v1.3h-1.3zM135.1 358.1h1.3v1.3h-1.3zM143.8 349.7h1.3v1.3h-1.3zM148 360h1.3v1.3h-1.3zM155 349.6h1.3v1.3h-1.3zM153.3 344.5h1.3v1.3h-1.3zM153.2 380.4h1.3v1.3h-1.3zM156.9 355.6h1.3v1.3h-1.3zM157.5 355.1h1.3v1.3h-1.3zM149 352.9h1.3v1.3h-1.3zM160.5 376.5h1.3v1.3h-1.3zM154.1 353.2h1.3v1.3h-1.3zM160.4 376h1.3v1.3h-1.3zM144.8 364.9h1.3v1.3h-1.3zM145.9 342.4h1.3v1.3h-1.3zM133.8 336.1h1.3v1.3h-1.3zM157.2 371.3h1.3v1.3h-1.3zM142.6 381.3h1.3v1.3h-1.3zM162 348.1h1.3v1.3h-1.3zM148.9 360.5h1.3v1.3h-1.3zM128.6 375.1h1.3v1.3h-1.3zM161.5 363.1h1.3v1.3h-1.3zM90.8 360.6h1.3v1.3h-1.3zM172.4 374.2h1.3v1.3h-1.3zM157.8 362.4h1.3v1.3h-1.3zM160 363.2h1.3v1.3h-1.3zM162.5 345.2h1.3v1.3h-1.3zM158.6 374h1.3v1.3h-1.3zM154.3 360h1.3v1.3h-1.3zM148.8 324.6h1.3v1.3h-1.3zM151.1 357.2h1.3v1.3h-1.3zM157.2 358.9h1.3v1.3h-1.3zM151.4 352.1h1.3v1.3h-1.3zM158.9 366.8h1.3v1.3h-1.3zM150.1 346.5h1.3v1.3h-1.3zM162 372.3h1.3v1.3h-1.3zM153.5 368.5h1.3v1.3h-1.3zM148.4 370h1.3v1.3h-1.3zM148.3 352.2h1.3v1.3h-1.3zM152.1 356.6h1.3v1.3h-1.3zM156.6 354.9h1.3v1.3h-1.3zM148.9 341.5h1.3v1.3h-1.3zM159.5 366.1h1.3v1.3h-1.3zM157.3 341.2h1.3v1.3h-1.3zM146.4 383.2h1.3v1.3h-1.3zM156.2 367.8h1.3v1.3h-1.3zM159.7 364.2h1.3v1.3h-1.3zM155.8 336.4h1.3v1.3h-1.3zM159.2 354.7h1.3v1.3h-1.3zM149.1 367.9h1.3v1.3h-1.3zM146.1 336.5h1.3v1.3h-1.3zM146 344.9h1.3v1.3h-1.3zM153.8 332.4h1.3v1.3h-1.3zM157.1 362.9h1.3v1.3h-1.3zM88.8 338.5h1.3v1.3h-1.3zM141.1 359.2h1.3v1.3h-1.3zM146.4 335.6h1.3v1.3h-1.3zM162.8 352.2h1.3v1.3h-1.3zM161.2 319.7h1.3v1.3h-1.3zM141.3 342.5h1.3v1.3h-1.3zM156.7 337.4h1.3v1.3h-1.3zM157.7 293.1h1.3v1.3h-1.3zM157.4 374.8h1.3v1.3h-1.3zM156.6 349.7h1.3v1.3h-1.3zM141.9 384.2h1.3v1.3h-1.3zM152.6 351.4h1.3v1.3h-1.3zM160.3 330.9h1.3v1.3h-1.3zM123 363.4h1.3v1.3h-1.3zM154.1 346.7h1.3v1.3h-1.3zM149.1 361.2h1.3v1.3h-1.3zM148.3 357.7h1.3v1.3h-1.3zM153.7 348.2h1.3v1.3h-1.3zM144.8 353.5h1.3v1.3h-1.3zM155.8 371.6h1.3v1.3h-1.3zM154.8 358.9h1.3v1.3h-1.3zM153 353.8h1.3v1.3h-1.3zM157.8 370h1.3v1.3h-1.3zM108.3 340.2h1.3v1.3h-1.3zM163.2 356.8h1.3v1.3h-1.3zM152.5 351.5h1.3v1.3h-1.3zM147.9 365.1h1.3v1.3h-1.3zM82.3 360.8h1.3v1.3h-1.3zM152.6 364.4h1.3v1.3h-1.3zM147.3 352.8h1.3v1.3h-1.3zM150.4 348.4h1.3v1.3h-1.3zM154.4 345.9h1.3v1.3h-1.3zM155.6 373.3h1.3v1.3h-1.3zM146.1 362.8h1.3v1.3h-1.3zM161.9 355.2h1.3v1.3h-1.3zM100.5 370.9h1.3v1.3h-1.3zM151.3 343.6h1.3v1.3h-1.3zM79.4 349.3h1.3v1.3h-1.3zM148.6 295.2h1.3v1.3h-1.3zM153.2 336.7h1.3v1.3h-1.3zM158.7 367.6h1.3v1.3h-1.3zM147.7 344.8h1.3v1.3h-1.3zM157.7 359.6h1.3v1.3h-1.3zM149.6 374.1h1.3v1.3h-1.3zM150.2 352h1.3v1.3h-1.3zM156.5 343.2h1.3v1.3h-1.3zM157.2 366h1.3v1.3h-1.3zM164.3 366.8h1.3v1.3h-1.3zM152.6 335h1.3v1.3h-1.3zM144.8 286h1.3v1.3h-1.3zM151.9 339.3h1.3v1.3h-1.3zM149.7 349.2h1.3v1.3h-1.3zM157.5 328.4h1.3v1.3h-1.3zM153.6 367.8h1.3v1.3h-1.3zM166.6 349.9h1.3v1.3h-1.3zM160.8 361.8h1.3v1.3h-1.3zM126.1 345.5h1.3v1.3h-1.3zM159.9 384h1.3v1.3h-1.3zM158 334.1h1.3v1.3h-1.3zM161.5 368.7h1.3v1.3h-1.3zM104.6 365.9h1.3v1.3h-1.3zM150.4 359.2h1.3v1.3h-1.3zM75.3 351.4h1.3v1.3h-1.3zM155.9 345.2h1.3v1.3h-1.3zM147.6 359.9h1.3v1.3h-1.3zM145.3 369h1.3v1.3h-1.3zM147.1 359.8h1.3v1.3h-1.3zM157 358.8h1.3v1.3h-1.3zM140.8 344.2h1.3v1.3h-1.3zM145.2 370.7h1.3v1.3h-1.3zM137.8 350.2h1.3v1.3h-1.3zM154.4 365.1h1.3v1.3h-1.3zM146.9 355.2h1.3v1.3h-1.3zM101.1 347.3h1.3v1.3h-1.3zM151.3 348.1h1.3v1.3h-1.3zM156.7 341.2h1.3v1.3h-1.3zM148.3 367.4h1.3v1.3h-1.3zM154.8 347.4h1.3v1.3h-1.3zM145.2 358.4h1.3v1.3h-1.3zM149.5 288.1h1.3v1.3h-1.3zM163.3 375h1.3v1.3h-1.3zM156.3 364.1h1.3v1.3h-1.3zM157.6 365.7h1.3v1.3h-1.3zM152.4 310.2h1.3v1.3h-1.3zM154 365.2h1.3v1.3h-1.3zM147 366.9h1.3v1.3h-1.3zM168 355.5h1.3v1.3h-1.3zM123.3 360.8h1.3v1.3h-1.3zM153.7 384h1.3v1.3h-1.3zM161.1 342.5h1.3v1.3h-1.3zM159.3 367h1.3v1.3h-1.3zM162.8 335.1h1.3v1.3h-1.3zM151.9 345.3h1.3v1.3h-1.3zM153 344h1.3v1.3h-1.3zM137.8 323.2h1.3v1.3h-1.3zM151.4 330.9h1.3v1.3h-1.3zM153.5 369.6h1.3v1.3h-1.3zM152.7 360.7h1.3v1.3h-1.3zM153.3 364.9h1.3v1.3h-1.3zM104 351.7h1.3v1.3h-1.3zM158.6 356.7h1.3v1.3h-1.3zM161.9 363.3h1.3v1.3h-1.3zM143.6 353.1h1.3v1.3h-1.3zM150.8 358.6h1.3v1.3h-1.3zM152.1 370.5h1.3v1.3h-1.3zM167 359.2h1.3v1.3h-1.3zM156.9 367.8h1.3v1.3h-1.3zM169.4 360.8h1.3v1.3h-1.3zM161.8 347.8h1.3v1.3h-1.3zM156.3 356.5h1.3v1.3h-1.3zM94.8 354.4h1.3v1.3h-1.3zM161.7 369.3h1.3v1.3h-1.3zM154.7 365.5h1.3v1.3h-1.3zM141.9 348.6h1.3v1.3h-1.3zM149.2 382.5h1.3v1.3h-1.3zM151.6 351.7h1.3v1.3h-1.3zM155.4 343.2h1.3v1.3h-1.3zM153.1 349.5h1.3v1.3h-1.3zM154.9 347.1h1.3v1.3h-1.3zM155.9 361.9h1.3v1.3h-1.3zM152.1 343.1h1.3v1.3h-1.3zM153.1 337.8h1.3v1.3h-1.3zM146.8 330.8h1.3v1.3h-1.3zM89.3 358h1.3v1.3h-1.3zM150 366.6h1.3v1.3h-1.3zM158.5 364.9h1.3v1.3h-1.3zM150.7 339.6h1.3v1.3h-1.3zM157.1 358.4h1.3v1.3h-1.3zM140.7 333.3h1.3v1.3h-1.3zM151.7 352.6h1.3v1.3h-1.3zM149 285.2h1.3v1.3h-1.3zM157.2 340.9h1.3v1.3h-1.3zM144.8 352.1h1.3v1.3h-1.3zM152.4 339.4h1.3v1.3h-1.3zM143.7 304.4h1.3v1.3h-1.3zM161.6 359.6h1.3v1.3h-1.3zM147.8 380.6h1.3v1.3h-1.3zM156.9 310.9h1.3v1.3h-1.3zM159.6 351.6h1.3v1.3h-1.3zM152.4 375.2h1.3v1.3h-1.3zM160.9 369.5h1.3v1.3h-1.3zM153.5 340h1.3v1.3h-1.3zM148 343.6h1.3v1.3h-1.3zM94 296.4h1.3v1.3h-1.3zM64.3 369.3h1.3v1.3h-1.3zM146 364.7h1.3v1.3h-1.3zM155.8 355.3h1.3v1.3h-1.3zM154.9 362.1h1.3v1.3h-1.3zM154.7 361.2h1.3v1.3h-1.3zM149.9 376.5h1.3v1.3h-1.3zM149.1 373.2h1.3v1.3h-1.3zM167 372.7h1.3v1.3h-1.3zM78.6 358.3h1.3v1.3h-1.3zM158.7 345h1.3v1.3h-1.3zM152.2 345.6h1.3v1.3h-1.3zM157.6 368.1h1.3v1.3h-1.3zM152.6 371.3h1.3v1.3h-1.3zM144.3 354.1h1.3v1.3h-1.3zM155.3 364h1.3v1.3h-1.3zM149.3 330.6h1.3v1.3h-1.3zM149.8 357.8h1.3v1.3h-1.3zM119.9 361.4h1.3v1.3h-1.3zM158.9 371.3h1.3v1.3h-1.3zM153.3 356.2h1.3v1.3h-1.3zM148.6 349.3h1.3v1.3h-1.3zM154.9 380.2h1.3v1.3h-1.3zM150.5 369.7h1.3v1.3h-1.3zM53.2 367.9h1.3v1.3h-1.3zM144.4 359.4h1.3v1.3h-1.3zM147.1 346.7h1.3v1.3h-1.3zM160 368.7h1.3v1.3h-1.3zM164.1 344.8h1.3v1.3h-1.3zM156.4 359.9h1.3v1.3h-1.3zM153.9 354.9h1.3v1.3h-1.3zM147.5 354.5h1.3v1.3h-1.3zM162.9 367.5h1.3v1.3h-1.3zM146.8 353.8h1.3v1.3h-1.3zM153.6 372.9h1.3v1.3h-1.3zM151.2 370.1h1.3v1.3h-1.3zM95 356.4h1.3v1.3h-1.3zM156.5 333.6h1.3v1.3h-1.3zM153.1 346.6h1.3v1.3h-1.3zM155 346.5h1.3v1.3h-1.3zM151.3 371.9h1.3v1.3h-1.3zM149.7 333.9h1.3v1.3h-1.3zM69 348.3h1.3v1.3h-1.3zM151.9 367h1.3v1.3h-1.3zM161.7 371h1.3v1.3h-1.3zM159.8 372.6h1.3v1.3h-1.3zM157.4 369.4h1.3v1.3h-1.3zM151.6 344.9h1.3v1.3h-1.3zM151.1 362.3h1.3v1.3h-1.3zM154.8 361.1h1.3v1.3h-1.3zM145.9 381.5h1.3v1.3h-1.3zM152.2 301.5h1.3v1.3h-1.3zM155.8 382.1h1.3v1.3h-1.3zM160.4 360.1h1.3v1.3h-1.3zM148.7 364.8h1.3v1.3h-1.3zM144.5 352.5h1.3v1.3h-1.3zM149.4 362.4h1.3v1.3h-1.3zM151.1 369.2h1.3v1.3h-1.3zM154.2 384.9h1.3v1.3h-1.3zM153.4 358h1.3v1.3h-1.3zM148.4 351.3h1.3v1.3h-1.3zM136.9 327.6h1.3v1.3h-1.3zM159.2 355.3h1.3v1.3h-1.3zM162.9 358.8h1.3v1.3h-1.3zM153 346.9h1.3v1.3h-1.3zM148 371h1.3v1.3h-1.3zM100.8 359h1.3v1.3h-1.3zM162.6 361h1.3v1.3h-1.3zM155.1 328.4h1.3v1.3h-1.3zM152.2 363.9h1.3v1.3h-1.3zM151.1 372.1h1.3v1.3h-1.3zM166.7 346h1.3v1.3h-1.3zM152.8 341.7h1.3v1.3h-1.3zM149.3 362.9h1.3v1.3h-1.3zM114.7 344.6h1.3v1.3h-1.3zM151.1 380.7h1.3v1.3h-1.3zM158.6 331.6h1.3v1.3h-1.3zM153.8 304.9h1.3v1.3h-1.3zM153.5 362.7h1.3v1.3h-1.3zM149.9 379.8h1.3v1.3h-1.3zM150.9 352.4h1.3v1.3h-1.3zM156.7 363.8h1.3v1.3h-1.3zM148.5 334h1.3v1.3h-1.3zM163.8 355h1.3v1.3h-1.3zM146.4 357.1h1.3v1.3h-1.3zM147.2 358.8h1.3v1.3h-1.3zM151.3 374.2h1.3v1.3h-1.3zM147.1 345.2h1.3v1.3h-1.3zM153.2 354.4h1.3v1.3h-1.3zM160.2 352.8h1.3v1.3h-1.3zM163.9 332.6h1.3v1.3h-1.3zM149 362.2h1.3v1.3h-1.3zM150.9 354h1.3v1.3h-1.3zM164.7 356.9h1.3v1.3h-1.3zM147.7 335.4h1.3v1.3h-1.3zM149 340.4h1.3v1.3h-1.3zM164.4 369.9h1.3v1.3h-1.3zM159 383.1h1.3v1.3h-1.3zM154.5 369.8h1.3v1.3h-1.3zM148.3 361.8h1.3v1.3h-1.3zM154.6 371.5h1.3v1.3h-1.3zM155.2 375.3h1.3v1.3h-1.3zM145.9 340.5h1.3v1.3h-1.3zM159.2 381.7h1.3v1.3h-1.3zM152.7 348h1.3v1.3h-1.3zM151.5 375.9h1.3v1.3h-1.3zM138.9 278.3h1.3v1.3h-1.3zM146.4 362.3h1.3v1.3h-1.3zM146.3 350.2h1.3v1.3h-1.3zM162.4 358h1.3v1.3h-1.3zM152.1 356.8h1.3v1.3h-1.3zM89.9 340.3h1.3v1.3h-1.3zM153.1 297.4h1.3v1.3h-1.3zM149.3 349.3h1.3v1.3h-1.3zM158 350.7h1.3v1.3h-1.3zM145.6 343.8h1.3v1.3h-1.3zM145.6 354.7h1.3v1.3h-1.3zM153 364.6h1.3v1.3h-1.3zM155.9 352.9h1.3v1.3h-1.3zM150.9 343h1.3v1.3h-1.3zM151.4 354.7h1.3v1.3h-1.3zM154.6 369.8h1.3v1.3h-1.3zM152.9 379.9h1.3v1.3h-1.3zM153.1 350.4h1.3v1.3h-1.3zM164 341h1.3v1.3h-1.3zM110.5 355.1h1.3v1.3h-1.3zM144.9 333.5h1.3v1.3h-1.3zM137.9 381.2h1.3v1.3h-1.3zM154.3 360.1h1.3v1.3h-1.3zM135.2 373.5h1.3v1.3h-1.3zM152.1 371.7h1.3v1.3h-1.3zM142.7 340h1.3v1.3h-1.3zM159 353.2h1.3v1.3h-1.3zM160.7 354h1.3v1.3h-1.3zM151.3 351.8h1.3v1.3h-1.3zM155.7 365h1.3v1.3h-1.3zM150.2 339.3h1.3v1.3h-1.3zM148.9 368.9h1.3v1.3h-1.3zM158 295h1.3v1.3h-1.3zM164.1 355.1h1.3v1.3h-1.3zM147.5 331.5h1.3v1.3h-1.3zM148.2 367.3h1.3v1.3h-1.3zM165.7 355.5h1.3v1.3h-1.3zM153.5 337.6h1.3v1.3h-1.3zM148.3 358.3h1.3v1.3h-1.3zM153.1 373.1h1.3v1.3h-1.3zM148.3 350.2h1.3v1.3h-1.3zM151.3 350.9h1.3v1.3h-1.3zM114.1 350.5h1.3v1.3h-1.3zM144 297.3h1.3v1.3h-1.3zM146.2 356.2h1.3v1.3h-1.3zM149.3 345.4h1.3v1.3h-1.3zM145.7 351.2h1.3v1.3h-1.3zM167.6 372.2h1.3v1.3h-1.3zM148 342.7h1.3v1.3h-1.3zM154.4 356.5h1.3v1.3h-1.3zM61.7 347h1.3v1.3h-1.3zM158.3 349.6h1.3v1.3h-1.3zM166.9 367.8h1.3v1.3h-1.3zM134.3 347.2h1.3v1.3h-1.3zM159.9 380.5h1.3v1.3h-1.3zM155.8 347h1.3v1.3h-1.3zM140 338.4h1.3v1.3h-1.3zM157 361.2h1.3v1.3h-1.3zM152 349h1.3v1.3h-1.3zM151.4 360.1h1.3v1.3h-1.3zM148.9 334.6h1.3v1.3h-1.3zM156.6 335.4h1.3v1.3h-1.3zM163.9 370.3h1.3v1.3h-1.3zM79.6 352.1h1.3v1.3h-1.3zM156.9 367.7h1.3v1.3h-1.3zM150.8 352.1h1.3v1.3h-1.3zM153.8 378.3h1.3v1.3h-1.3zM143.7 357.9h1.3v1.3h-1.3zM102.1 361.1h1.3v1.3h-1.3zM150.6 348.6h1.3v1.3h-1.3zM153.4 355.3h1.3v1.3h-1.3zM97.4 341.1h1.3v1.3h-1.3z" fill="#000" fill-opacity="0.66"/>
<path d="M155.9 302.9h1.3v1.3h-1.3zM147.2 358.7h1.3v1.3h-1.3zM161.7 334.9h1.3v1.3h-1.3zM160.3 314.3h1.3v1.3h-1.3zM156.7 349h1.3v1.3h-1.3zM155.1 384.6h1.3v1.3h-1.3zM155 352.6h1.3v1.3h-1.3zM157 345.6h1.3v1.3h-1.3zM164 357.3h1.3v1.3h-1.3zM136.1 338.6h1.3v1.3h-1.3zM146 369h1.3v1.3h-1.3zM146.4 289.4h1.3v1.3h-1.3zM69.3 371.3h1.3v1.3h-1.3zM102.6 336.7h1.3v1.3h-1.3zM142.3 356.3h1.3v1.3h-1.3zM153.1 351.9h1.3v1.3h-1.3zM112.9 348.7h1.3v1.3h-1.3zM150.7 356.5h1.3v1.3h-1.3zM148.3 346.1h1.3v1.3h-1.3zM149.1 376.4h1.3v1.3h-1.3zM119.4 365.8h1.3v1.3h-1.3zM130.2 370.2h1.3v1.3h-1.3zM148.2 333h1.3v1.3h-1.3zM150.2 352.5h1.3v1.3h-1.3zM146.6 359.4h1.3v1.3h-1.3zM165 370.5h1.3v1.3h-1.3zM150.4 363h1.3v1.3h-1.3zM152.4 361.2h1.3v1.3h-1.3zM158.4 354h1.3v1.3h-1.3zM152.6 354.2h1.3v1.3h-1.3zM149.1 352.7h1.3v1.3h-1.3zM148.5 338.8h1.3v1.3h-1.3zM157 360.7h1.3v1.3h-1.3zM147.7 373.5h1.3v1.3h-1.3zM151.8 336.3h1.3v1.3h-1.3zM139.5 354.2h1.3v1.3h-1.3zM145.4 363.9h1.3v1.3h-1.3zM149.9 354.6h1.3v1.3h-1.3zM172.1 343.4h1.3v1.3h-1.3zM87.6 361.9h1.3v1.3h-1.3zM167 383.6h1.3v1.3h-1.3zM150 313.4h1.3v1.3h-1.3zM88.5 355.1h1.3v1.3h-1.3zM161.7 352.6h1.3v1.3h-1.3zM148 352.8h1.3v1.3h-1.3zM77.6 364.3h1.3v1.3h-1.3zM158.2 355.7h1.3v1.3h-1.3zM155.3 351.4h1.3v1.3h-1.3zM152 341.1h1.3v1.3h-1.3zM152.7 377.6h1.3v1.3h-1.3zM155.7 359.2h1.3v1.3h-1.3zM146 368.6h1.3v1.3h-1.3zM84.7 340h1.3v1.3h-1.3zM148.4 344.9h1.3v1.3h-1.3zM158.1 343.2h1.3v1.3h-1.3zM150.6 349.2h1.3v1.3h-1.3zM153.4 349.8h1.3v1.3h-1.3zM141.7 357.8h1.3v1.3h-1.3zM152.6 350h1.3v1.3h-1.3zM146.2 347.8h1.3v1.3h-1.3zM159.1 360.7h1.3v1.3h-1.3zM153.9 358.6h1.3v1.3h-1.3zM154.9 359.5h1.3v1.3h-1.3zM147.1 382.3h1.3v1.3h-1.3zM152 348.1h1.3v1.3h-1.3zM151.5 336.1h1.3v1.3h-1.3zM139.7 341h1.3v1.3h-1.3zM127.3 335.3h1.3v1.3h-1.3zM145.9 348h1.3v1.3h-1.3zM148.1 375.3h1.3v1.3h-1.3zM107.6 354.2h1.3v1.3h-1.3zM156.9 369.8h1.3v1.3h-1.3zM146.9 358.8h1.3v1.3h-1.3zM191.4 307.6h1.3v1.3h-1.3zM157.7 386.5h1.3v1.3h-1.3zM156.5 358.7h1.3v1.3h-1.3zM155.6 357.7h1.3v1.3h-1.3zM142.1 340.5h1.3v1.3h-1.3zM162.1 384h1.3v1.3h-1.3zM143.3 359.4h1.3v1.3h-1.3zM155.1 365.1h1.3v1.3h-1.3zM145.9 332.8h1.3v1.3h-1.3zM155 373h1.3v1.3h-1.3zM149.1 385.4h1.3v1.3h-1.3zM151.7 291.7h1.3v1.3h-1.3zM153.9 355.3h1.3v1.3h-1.3zM97.2 360h1.3v1.3h-1.3zM139 334.7h1.3v1.3h-1.3zM148.4 346.5h1.3v1.3h-1.3zM153.1 336.9h1.3v1.3h-1.3zM160.1 319.4h1.3v1.3h-1.3zM147.5 333.4h1.3v1.3h-1.3zM150 367.8h1.3v1.3h-1.3zM161.3 303.2h1.3v1.3h-1.3zM157.6 358.5h1.3v1.3h-1.3zM155.3 365.8h1.3v1.3h-1.3zM158.4 354.1h1.3v1.3h-1.3zM159.9 386.2h1.3v1.3h-1.3zM126.6 296.4h1.3v1.3h-1.3zM144.9 360.1h1.3v1.3h-1.3zM147.2 365.2h1.3v1.3h-1.3zM159 338.1h1.3v1.3h-1.3zM154.5 379.1h1.3v1.3h-1.3zM154.9 343.1h1.3v1.3h-1.3zM148 346.6h1.3v1.3h-1.3zM162.3 376.5h1.3v1.3h-1.3zM151.8 360.6h1.3v1.3h-1.3zM154.3 359.9h1.3v1.3h-1.3zM149.3 377.3h1.3v1.3h-1.3zM153.2 380.1h1.3v1.3h-1.3zM154.5 354.9h1.3v1.3h-1.3zM149.8 364.1h1.3v1.3h-1.3zM165.9 364.4h1.3v1.3h-1.3zM98.1 356.9h1.3v1.3h-1.3zM158.6 338.3h1.3v1.3h-1.3zM144.7 369.7h1.3v1.3h-1.3zM98.3 372.1h1.3v1.3h-1.3zM61.6 353.3h1.3v1.3h-1.3zM160.2 375.1h1.3v1.3h-1.3zM77.8 332h1.3v1.3h-1.3zM148.7 364.1h1.3v1.3h-1.3zM148.7 301.8h1.3v1.3h-1.3zM147.6 330.1h1.3v1.3h-1.3zM162.1 349.9h1.3v1.3h-1.3zM162.7 357.2h1.3v1.3h-1.3zM162.9 365.1h1.3v1.3h-1.3zM158.8 341.8h1.3v1.3h-1.3zM145.3 357.2h1.3v1.3h-1.3zM157.4 333.1h1.3v1.3h-1.3zM150.1 357.3h1.3v1.3h-1.3zM142 356.8h1.3v1.3h-1.3zM158.3 381.3h1.3v1.3h-1.3zM153.9 331.1h1.3v1.3h-1.3zM156.8 354.4h1.3v1.3h-1.3zM158.4 356.7h1.3v1.3h-1.3zM154.3 354.7h1.3v1.3h-1.3zM148.9 375.7h1.3v1.3h-1.3zM143.9 352.7h1.3v1.3h-1.3zM151.3 355.3h1.3v1.3h-1.3zM115.9 349.2h1.3v1.3h-1.3zM164 370.5h1.3v1.3h-1.3zM154.6 352.9h1.3v1.3h-1.3zM148.9 332.7h1.3v1.3h-1.3zM161 360.7h1.3v1.3h-1.3zM154.6 368.3h1.3v1.3h-1.3zM152.4 356.7h1.3v1.3h-1.3zM152.4 363.7h1.3v1.3h-1.3zM154.2 304.3h1.3v1.3h-1.3zM154.7 343.4h1.3v1.3h-1.3zM154.8 346.5h1.3v1.3h-1.3zM159.8 374.8h1.3v1.3h-1.3zM158.3 353.6h1.3v1.3h-1.3zM151.9 369.1h1.3v1.3h-1.3zM156.9 340.6h1.3v1.3h-1.3zM155.1 338.7h1.3v1.3h-1.3zM164.5 364.2h1.3v1.3h-1.3zM154.2 376.3h1.3v1.3h-1.3zM145.7 351.9h1.3v1.3h-1.3zM158.2 363.5h1.3v1.3h-1.3zM149.7 353.5h1.3v1.3h-1.3zM48.1 350.9h1.3v1.3h-1.3zM147.6 343.2h1.3v1.3h-1.3zM154.2 344.4h1.3v1.3h-1.3zM159.6 356.2h1.3v1.3h-1.3zM155.5 382.3h1.3v1.3h-1.3zM72.5 353.4h1.3v1.3h-1.3zM154 335h1.3v1.3h-1.3zM154.2 372.4h1.3v1.3h-1.3zM172.7 369.9h1.3v1.3h-1.3zM197 304.9h1.3v1.3h-1.3zM63.3 354.5h1.3v1.3h-1.3zM142.9 367.3h1.3v1.3h-1.3zM148.2 374.4h1.3v1.3h-1.3zM146.7 355.6h1.3v1.3h-1.3zM151.2 349.4h1.3v1.3h-1.3zM89 361h1.3v1.3h-1.3zM160.6 333h1.3v1.3h-1.3zM93.3 344.7h1.3v1.3h-1.3zM157.8 357.9h1.3v1.3h-1.3zM148.1 355.3h1.3v1.3h-1.3zM75.4 336.6h1.3v1.3h-1.3zM164.7 335.3h1.3v1.3h-1.3zM145.2 364.5h1.3v1.3h-1.3zM157.8 386.6h1.3v1.3h-1.3zM95.1 364.8h1.3v1.3h-1.3zM161.1 354.7h1.3v1.3h-1.3zM152.5 345.9h1.3v1.3h-1.3zM149.7 377.8h1.3v1.3h-1.3zM146.5 344.2h1.3v1.3h-1.3zM161.8 367.7h1.3v1.3h-1.3zM162.5 351h1.3v1.3h-1.3zM169.1 347.8h1.3v1.3h-1.3zM145.3 360.5h1.3v1.3h-1.3zM147.4 377.3h1.3v1.3h-1.3zM150.7 355.6h1.3v1.3h-1.3zM157.4 346.8h1.3v1.3h-1.3zM148.1 366.8h1.3v1.3h-1.3zM149.6 345.2h1.3v1.3h-1.3zM98.8 359.8h1.3v1.3h-1.3zM154.5 336.3h1.3v1.3h-1.3zM124.8 345.7h1.3v1.3h-1.3zM151.2 340.1h1.3v1.3h-1.3zM149.3 369h1.3v1.3h-1.3zM102.7 368.6h1.3v1.3h-1.3zM152.6 357.4h1.3v1.3h-1.3zM140.2 351.9h1.3v1.3h-1.3zM148.8 332.2h1.3v1.3h-1.3zM102.5 372.8h1.3v1.3h-1.3zM146.7 350.9h1.3v1.3h-1.3zM153.7 351.8h1.3v1.3h-1.3zM152.3 371.2h1.3v1.3h-1.3zM172.2 340.5h1.3v1.3h-1.3zM93.3 353.8h1.3v1.3h-1.3zM146.7 366.5h1.3v1.3h-1.3zM151.7 346.2h1.3v1.3h-1.3zM151.7 338.5h1.3v1.3h-1.3zM156.2 367.6h1.3v1.3h-1.3zM163.6 366h1.3v1.3h-1.3zM160.3 334.2h1.3v1.3h-1.3zM146.5 359.8h1.3v1.3h-1.3zM151.9 367.1h1.3v1.3h-1.3zM156.1 379.4h1.3v1.3h-1.3zM150.9 350.3h1.3v1.3h-1.3zM146.1 374.5h1.3v1.3h-1.3zM154 386.9h1.3v1.3h-1.3zM141.2 371.3h1.3v1.3h-1.3zM149.4 355h1.3v1.3h-1.3zM159.2 370.6h1.3v1.3h-1.3zM142.9 367.3h1.3v1.3h-1.3zM157 335h1.3v1.3h-1.3zM151.5 379.2h1.3v1.3h-1.3zM150.1 336.9h1.3v1.3h-1.3zM162.6 333h1.3v1.3h-1.3zM153.6 337.1h1.3v1.3h-1.3zM166.4 333.1h1.3v1.3h-1.3zM149.5 364.8h1.3v1.3h-1.3zM161.1 345.4h1.3v1.3h-1.3zM139.2 348.6h1.3v1.3h-1.3zM176.4 352.3h1.3v1.3h-1.3zM157.8 377.3h1.3v1.3h-1.3zM162.4 348.3h1.3v1.3h-1.3zM161.5 385.4h1.3v1.3h-1.3zM153.7 357.3h1.3v1.3h-1.3zM123.3 350.7h1.3v1.3h-1.3zM142.4 371.2h1.3v1.3h-1.3zM156 361.5h1.3v1.3h-1.3zM151.7 343.8h1.3v1.3h-1.3zM163.9 364.5h1.3v1.3h-1.3zM154.3 357h1.3v1.3h-1.3zM157.1 352.4h1.3v1.3h-1.3zM145.4 365.6h1.3v1.3h-1.3zM147.5 339.5h1.3v1.3h-1.3zM153.3 349.8h1.3v1.3h-1.3zM141.2 345h1.3v1.3h-1.3zM151.5 358.5h1.3v1.3h-1.3zM153.4 364.4h1.3v1.3h-1.3zM105.7 267.5h1.3v1.3h-1.3zM156.2 362.5h1.3v1.3h-1.3zM154.3 371.9h1.3v1.3h-1.3zM136.1 375.9h1.3v1.3h-1.3zM163 384.8h1.3v1.3h-1.3zM149.2 370h1.3v1.3h-1.3zM161.2 360.8h1.3v1.3h-1.3zM156.2 354.7h1.3v1.3h-1.3zM150.5 383.1h1.3v1.3h-1.3zM151.7 347.8h1.3v1.3h-1.3zM159.6 300.5h1.3v1.3h-1.3zM92.9 374.7h1.3v1.3h-1.3zM158.7 385.5h1.3v1.3h-1.3zM93.2 341.9h1.3v1.3h-1.3zM160.3 384.1h1.3v1.3h-1.3zM167.1 365.9h1.3v1.3h-1.3zM151.7 373.4h1.3v1.3h-1.3zM158.6 334.9h1.3v1.3h-1.3zM146.7 359.7h1.3v1.3h-1.3zM108.4 352.1h1.3v1.3h-1.3zM149.7 332.1h1.3v1.3h-1.3zM151.6 298.5h1.3v1.3h-1.3zM151.2 329.5h1.3v1.3h-1.3zM156.3 347.8h1.3v1.3h-1.3zM149.4 348.6h1.3v1.3h-1.3zM147.8 354.1h1.3v1.3h-1.3zM150.3 298.6h1.3v1.3h-1.3zM142.9 364.5h1.3v1.3h-1.3zM153.6 358.3h1.3v1.3h-1.3zM156.3 386.2h1.3v1.3h-1.3zM109.8 366.4h1.3v1.3h-1.3zM155.3 358.3h1.3v1.3h-1.3zM149.8 341.2h1.3v1.3h-1.3zM154.4 343.2h1.3v1.3h-1.3zM155.9 347.6h1.3v1.3h-1.3zM157 352h1.3v1.3h-1.3zM74.8 270.9h1.3v1.3h-1.3zM149.5 371h1.3v1.3h-1.3zM143.6 354.9h1.3v1.3h-1.3zM156.9 387.4h1.3v1.3h-1.3zM124.8 287.5h1.3v1.3h-1.3zM151.7 333.9h1.3v1.3h-1.3zM159.8 375.8h1.3v1.3h-1.3zM161.4 347.4h1.3v1.3h-1.3zM158.7 366.1h1.3v1.3h-1.3zM150.2 361.7h1.3v1.3h-1.3zM153 378.2h1.3v1.3h-1.3zM153.4 360.9h1.3v1.3h-1.3zM182.3 336.1h1.3v1.3h-1.3zM157.9 378.2h1.3v1.3h-1.3zM150.9 361.9h1.3v1.3h-1.3zM152.9 363.8h1.3v1.3h-1.3zM154.6 338.7h1.3v1.3h-1.3zM158.8 379.1h1.3v1.3h-1.3zM159.5 344h1.3v1.3h-1.3zM146.8 350.6h1.3v1.3h-1.3zM166.8 346h1.3v1.3h-1.3zM155.4 331.9h1.3v1.3h-1.3zM143.7 344.5h1.3v1.3h-1.3zM141.2 356.4h1.3v1.3h-1.3zM155.8 353.7h1.3v1.3h-1.3zM156.5 351.2h1.3v1.3h-1.3zM157.8 359.6h1.3v1.3h-1.3zM120.5 369.5h1.3v1.3h-1.3zM161.9 345.3h1.3v1.3h-1.3zM151.6 360.2h1.3v1.3h-1.3zM150.4 354.6h1.3v1.3h-1.3zM152.7 334.6h1.3v1.3h-1.3zM151.6 350.7h1.3v1.3h-1.3zM159.8 296.2h1.3v1.3h-1.3zM144.1 321.7h1.3v1.3h-1.3zM148.7 328.5h1.3v1.3h-1.3zM173.5 356.4h1.3v1.3h-1.3zM162.9 372h1.3v1.3h-1.3zM159.1 343.3h1.3v1.3h-1.3zM158 371.2h1.3v1.3h-1.3zM152.4 363.6h1.3v1.3h-1.3zM155.7 319.4h1.3v1.3h-1.3zM150.7 341.5h1.3v1.3h-1.3zM160.8 378.9h1.3v1.3h-1.3zM150.7 378.9h1.3v1.3h-1.3zM131.3 374.3h1.3v1.3h-1.3zM159.7 354.5h1.3v1.3h-1.3zM159.6 345.9h1.3v1.3h-1.3zM155.6 345.9h1.3v1.3h-1.3zM168.1 352.3h1.3v1.3h-1.3zM153.9 357.2h1.3v1.3h-1.3zM151.5 374.8h1.3v1.3h-1.3zM142.5 372.9h1.3v1.3h-1.3zM155.4 340h1.3v1.3h-1.3zM157.2 333.1h1.3v1.3h-1.3zM95.5 347.6h1.3v1.3h-1.3zM156.6 359.6h1.3v1.3h-1.3zM151 357.4h1.3v1.3h-1.3zM153.4 337.9h1.3v1.3h-1.3zM155.9 335.8h1.3v1.3h-1.3zM149 348.7h1.3v1.3h-1.3zM86.2 357.4h1.3v1.3h-1.3zM157 346.3h1.3v1.3h-1.3zM149.1 343h1.3v1.3h-1.3zM150.3 369.8h1.3v1.3h-1.3zM163.7 359h1.3v1.3h-1.3zM162 372.1h1.3v1.3h-1.3zM147.3 372.1h1.3v1.3h-1.3zM84.9 340.2h1.3v1.3h-1.3zM160.8 362.5h1.3v1.3h-1.3zM139.4 352h1.3v1.3h-1.3zM146 345.2h1.3v1.3h-1.3zM150.2 346.1h1.3v1.3h-1.3zM155.5 339.1h1.3v1.3h-1.3zM143.8 364.1h1.3v1.3h-1.3zM154.7 289.9h1.3v1.3h-1.3zM153.1 346.2h1.3v1.3h-1.3zM81 353.2h1.3v1.3h-1.3zM160.4 361.3h1.3v1.3h-1.3zM142.7 364.4h1.3v1.3h-1.3zM146.1 338.3h1.3v1.3h-1.3zM154.6 357.6h1.3v1.3h-1.3zM147.1 364.5h1.3v1.3h-1.3zM158.2 371.9h1.3v1.3h-1.3zM154.8 343.7h1.3v1.3h-1.3zM153.4 331.3h1.3v1.3h-1.3zM165.7 367.6h1.3v1.3h-1.3zM139.8 332.2h1.3v1.3h-1.3zM150.3 354.3h1.3v1.3h-1.3zM153.2 344h1.3v1.3h-1.3zM149.2 374.9h1.3v1.3h-1.3zM150.1 344.7h1.3v1.3h-1.3zM151.3 371.2h1.3v1.3h-1.3zM126.2 374h1.3v1.3h-1.3zM89.2 347.6h1.3v1.3h-1.3zM155.4 351.8h1.3v1.3h-1.3zM154.5 354.1h1.3v1.3h-1.3zM109.3 354.1h1.3v1.3h-1.3zM158.5 380.1h1.3v1.3h-1.3zM158.7 356.9h1.3v1.3h-1.3zM113.9 354.2h1.3v1.3h-1.3zM86.6 339.8h1.3v1.3h-1.3zM148 336h1.3v1.3h-1.3zM147.9 373.9h1.3v1.3h-1.3zM154.2 347.4h1.3v1.3h-1.3zM105.5 361h1.3v1.3h-1.3zM150.5 358.2h1.3v1.3h-1.3zM152.2 341.4h1.3v1.3h-1.3zM92.1 351.8h1.3v1.3h-1.3zM158.4 362.3h1.3v1.3h-1.3zM163.5 367.9h1.3v1.3h-1.3zM158.8 377.8h1.3v1.3h-1.3zM155.4 293.3h1.3v1.3h-1.3zM149 341.6h1.3v1.3h-1.3zM156.9 369h1.3v1.3h-1.3zM157.4 335.2h1.3v1.3h-1.3zM74 335.5h1.3v1.3h-1.3zM148.1 353.5h1.3v1.3h-1.3zM159.8 297.3h1.3v1.3h-1.3zM110.5 351.5h1.3v1.3h-1.3zM76.8 350.3h1.3v1.3h-1.3zM152.7 347.1h1.3v1.3h-1.3zM156.7 339.4h1.3v1.3h-1.3zM155.5 356.7h1.3v1.3h-1.3zM86.1 335.9h1.3v1.3h-1.3zM161.1 342.8h1.3v1.3h-1.3zM161.2 353.8h1.3v1.3h-1.3zM157.9 348.7h1.3v1.3h-1.3zM56 334.8h1.3v1.3h-1.3zM163.5 346h1.3v1.3h-1.3zM150.9 347.1h1.3v1.3h-1.3zM157 336.6h1.3v1.3h-1.3zM156.5 365.2h1.3v1.3h-1.3zM155.7 339.5h1.3v1.3h-1.3zM88.6 354.4h1.3v1.3h-1.3zM153.2 358.7h1.3v1.3h-1.3zM86.2 357.7h1.3v1.3h-1.3zM146.3 343.4h1.3v1.3h-1.3zM162.9 342.3h1.3v1.3h-1.3zM143.7 361.3h1.3v1.3h-1.3zM104.7 357.3h1.3v1.3h-1.3zM148.2 362.7h1.3v1.3h-1.3zM164.1 349.2h1.3v1.3h-1.3zM150.8 338.3h1.3v1.3h-1.3zM148 377h1.3v1.3h-1.3zM154.3 329.7h1.3v1.3h-1.3zM152.8 361.4h1.3v1.3h-1.3zM159.7 347.4h1.3v1.3h-1.3zM165.7 380.4h1.3v1.3h-1.3zM149.4 354h1.3v1.3h-1.3z" fill="#000" fill-opacity="0.66"/>
<path d="M163.2 367.5h1.3v1.3h-1.3zM148.9 363.5h1.3v1.3h-1.3zM157.5 358.5h1.3v1.3h-1.3zM133.1 336.1h1.3v1.3h-1.3zM145.4 377h1.3v1.3h-1.3zM155.3 365.7h1.3v1.3h-1.3zM68.7 351.5h1.3v1.3h-1.3zM129 380.7h1.3v1.3h-1.3zM157.6 290.7h1.3v1.3h-1.3zM109.6 340.8h1.3v1.3h-1.3zM162.3 354.3h1.3v1.3h-1.3zM158.1 354.4h1.3v1.3h-1.3zM68.1 350.9h1.3v1.3h-1.3zM143.5 330.3h1.3v1.3h-1.3zM171.1 354.1h1.3v1.3h-1.3zM169.5 331.7h1.3v1.3h-1.3zM151.5 367h1.3v1.3h-1.3zM147.9 332h1.3v1.3h-1.3zM97.8 336.8h1.3v1.3h-1.3zM165.9 351.4h1.3v1.3h-1.3zM149.4 349.4h1.3v1.3h-1.3zM155.7 356h1.3v1.3h-1.3zM144.2 377.3h1.3v1.3h-1.3zM156 353.3h1.3v1.3h-1.3zM144.1 342.2h1.3v1.3h-1.3zM141.4 357.8h1.3v1.3h-1.3zM87.4 342.6h1.3v1.3h-1.3zM148.2 278.7h1.3v1.3h-1.3zM163.9 353h1.3v1.3h-1.3zM151.7 363.2h1.3v1.3h-1.3zM152.1 361.5h1.3v1.3h-1.3zM150.6 352.9h1.3v1.3h-1.3zM155.9 368.2h1.3v1.3h-1.3zM156.2 343.2h1.3v1.3h-1.3zM154 354.1h1.3v1.3h-1.3zM150.7 331.5h1.3v1.3h-1.3zM148 367.1h1.3v1.3h-1.3zM143.5 363.2h1.3v1.3h-1.3zM161.6 342h1.3v1.3h-1.3zM154.7 352.9h1.3v1.3h-1.3zM151.7 371.1h1.3v1.3h-1.3zM144.7 341.9h1.3v1.3h-1.3zM164.5 358.5h1.3v1.3h-1.3zM159.6 349.6h1.3v1.3h-1.3zM163.2 325.3h1.3v1.3h-1.3zM162.7 375.1h1.3v1.3h-1.3zM156.1 365.8h1.3v1.3h-1.3zM155.8 351.7h1.3v1.3h-1.3zM156.2 341.5h1.3v1.3h-1.3zM155 362.2h1.3v1.3h-1.3zM158.5 353.8h1.3v1.3h-1.3zM157.6 297.8h1.3v1.3h-1.3zM156.4 358.9h1.3v1.3h-1.3zM164.5 361.8h1.3v1.3h-1.3zM146.5 361.1h1.3v1.3h-1.3zM80.4 351.5h1.3v1.3h-1.3zM78.2 340.9h1.3v1.3h-1.3zM152.6 366.9h1.3v1.3h-1.3zM151.7 370.9h1.3v1.3h-1.3zM146 334.7h1.3v1.3h-1.3zM91.3 341.8h1.3v1.3h-1.3zM147.6 333.1h1.3v1.3h-1.3zM150.9 355.9h1.3v1.3h-1.3zM149.9 358.2h1.3v1.3h-1.3zM145 355.5h1.3v1.3h-1.3zM158.8 367.8h1.3v1.3h-1.3zM150.9 365.9h1.3v1.3h-1.3zM109.5 360.2h1.3v1.3h-1.3zM155 363h1.3v1.3h-1.3zM155.6 381.1h1.3v1.3h-1.3zM151 291.4h1.3v1.3h-1.3zM143.2 347.3h1.3v1.3h-1.3zM150.7 348.7h1.3v1.3h-1.3zM152.2 354.8h1.3v1.3h-1.3zM150.3 346.8h1.3v1.3h-1.3zM148.4 296.7h1.3v1.3h-1.3zM108.8 332.1h1.3v1.3h-1.3zM158.9 340.5h1.3v1.3h-1.3zM159.6 330.1h1.3v1.3h-1.3zM155.9 349.5h1.3v1.3h-1.3zM149.4 357.2h1.3v1.3h-1.3zM131.4 324h1.3v1.3h-1.3zM150.3 368.4h1.3v1.3h-1.3zM146.7 371.4h1.3v1.3h-1.3zM109.8 354h1.3v1.3h-1.3zM151.7 354.1h1.3v1.3h-1.3zM150 356.1h1.3v1.3h-1.3zM151.6 367h1.3v1.3h-1.3zM141.6 337h1.3v1.3h-1.3zM163.8 339.9h1.3v1.3h-1.3zM154.1 355.3h1.3v1.3h-1.3zM80.7 363.1h1.3v1.3h-1.3zM152.4 371.4h1.3v1.3h-1.3zM92.6 374.8h1.3v1.3h-1.3zM147.6 341.6h1.3v1.3h-1.3zM145 336.5h1.3v1.3h-1.3zM156.9 355.5h1.3v1.3h-1.3zM107.4 361.1h1.3v1.3h-1.3zM149.2 330.2h1.3v1.3h-1.3zM149.9 295.2h1.3v1.3h-1.3zM152.8 349.7h1.3v1.3h-1.3zM152.9 354.4h1.3v1.3h-1.3zM143.2 336.6h1.3v1.3h-1.3zM100.3 341h1.3v1.3h-1.3zM154.7 340.6h1.3v1.3h-1.3zM146.9 353.9h1.3v1.3h-1.3zM153.5 364.8h1.3v1.3h-1.3zM152.5 357.9h1.3v1.3h-1.3zM155.7 361.5h1.3v1.3h-1.3zM144.5 358.7h1.3v1.3h-1.3zM147.6 353h1.3v1.3h-1.3zM145.4 363.1h1.3v1.3h-1.3zM146.1 348.5h1.3v1.3h-1.3zM140.7 342.6h1.3v1.3h-1.3zM157.6 328.5h1.3v1.3h-1.3zM156.7 368.1h1.3v1.3h-1.3zM169.9 355.7h1.3v1.3h-1.3zM151.4 342.6h1.3v1.3h-1.3zM156.8 365.6h1.3v1.3h-1.3zM155 343.3h1.3v1.3h-1.3zM109.1 346.5h1.3v1.3h-1.3zM89.6 368.4h1.3v1.3h-1.3zM162.3 348h1.3v1.3h-1.3zM155.1 348.4h1.3v1.3h-1.3zM148.2 351.7h1.3v1.3h-1.3zM145.3 362.7h1.3v1.3h-1.3zM151.9 369.7h1.3v1.3h-1.3zM156.7 335.5h1.3v1.3h-1.3zM150.2 381.6h1.3v1.3h-1.3zM156.6 369.4h1.3v1.3h-1.3zM143.1 351.3h1.3v1.3h-1.3zM156 335.1h1.3v1.3h-1.3zM97.5 348.1h1.3v1.3h-1.3zM67.6 367.7h1.3v1.3h-1.3zM59.9 314.2h1.3v1.3h-1.3zM161.9 363.8h1.3v1.3h-1.3zM165.8 335.7h1.3v1.3h-1.3zM149.5 367.1h1.3v1.3h-1.3zM156.8 367.7h1.3v1.3h-1.3zM156.7 355.1h1.3v1.3h-1.3zM156.5 357.4h1.3v1.3h-1.3zM157.4 372.4h1.3v1.3h-1.3zM76.9 269.3h1.3v1.3h-1.3zM153 334.8h1.3v1.3h-1.3zM149.3 358.7h1.3v1.3h-1.3zM153.7 371.4h1.3v1.3h-1.3zM148.1 336.4h1.3v1.3h-1.3zM157.5 362.7h1.3v1.3h-1.3zM155.2 341.2h1.3v1.3h-1.3zM165.3 356h1.3v1.3h-1.3zM164.4 359.1h1.3v1.3h-1.3zM151.9 336.2h1.3v1.3h-1.3zM153.2 347.2h1.3v1.3h-1.3zM160.1 336.3h1.3v1.3h-1.3zM158.1 387.2h1.3v1.3h-1.3zM156.3 375.5h1.3v1.3h-1.3zM155.9 354.6h1.3v1.3h-1.3zM151.9 345.6h1.3v1.3h-1.3zM160.8 367.7h1.3v1.3h-1.3zM152.2 372.5h1.3v1.3h-1.3zM150 365.6h1.3v1.3h-1.3zM135.4 337.8h1.3v1.3h-1.3zM146.9 375.2h1.3v1.3h-1.3zM91.9 340.6h1.3v1.3h-1.3zM103.9 355.9h1.3v1.3h-1.3zM157 371.6h1.3v1.3h-1.3zM161.2 339.3h1.3v1.3h-1.3zM162.9 358.2h1.3v1.3h-1.3zM159.7 368.7h1.3v1.3h-1.3zM158.7 351.4h1.3v1.3h-1.3zM149.8 366.3h1.3v1.3h-1.3zM151.3 347h1.3v1.3h-1.3zM144.8 358.7h1.3v1.3h-1.3zM156.3 372h1.3v1.3h-1.3zM154.8 364.3h1.3v1.3h-1.3zM156.1 293.6h1.3v1.3h-1.3zM155.8 350.6h1.3v1.3h-1.3zM156.6 356.4h1.3v1.3h-1.3zM151.1 376h1.3v1.3h-1.3zM167.3 357.2h1.3v1.3h-1.3zM151.1 360.6h1.3v1.3h-1.3zM156.2 346.8h1.3v1.3h-1.3zM156 354.2h1.3v1.3h-1.3zM157.6 353.7h1.3v1.3h-1.3zM158.6 345.7h1.3v1.3h-1.3zM166 372.8h1.3v1.3h-1.3zM148.2 348.4h1.3v1.3h-1.3zM147 344.7h1.3v1.3h-1.3zM158.4 351.7h1.3v1.3h-1.3zM132.2 317.5h1.3v1.3h-1.3zM154.4 358.6h1.3v1.3h-1.3zM167.4 333.6h1.3v1.3h-1.3zM148.9 357h1.3v1.3h-1.3zM154.9 348.1h1.3v1.3h-1.3zM159.6 364.9h1.3v1.3h-1.3zM146.6 376.7h1.3v1.3h-1.3zM157.9 373.5h1.3v1.3h-1.3zM156 346.3h1.3v1.3h-1.3zM165.7 288.4h1.3v1.3h-1.3zM145.4 345.3h1.3v1.3h-1.3zM145.8 329.8h1.3v1.3h-1.3zM150.7 378.3h1.3v1.3h-1.3zM163.5 372.5h1.3v1.3h-1.3zM159.9 360.8h1.3v1.3h-1.3zM149.9 337.1h1.3v1.3h-1.3zM148.8 370.7h1.3v1.3h-1.3zM147.9 365.9h1.3v1.3h-1.3zM148.7 336.7h1.3v1.3h-1.3zM160.8 369.5h1.3v1.3h-1.3zM149.6 358.4h1.3v1.3h-1.3zM138.6 372h1.3v1.3h-1.3zM157.1 349.4h1.3v1.3h-1.3zM152.8 369.2h1.3v1.3h-1.3zM158 339.8h1.3v1.3h-1.3zM149 335h1.3v1.3h-1.3zM112 367.1h1.3v1.3h-1.3zM163.8 348.4h1.3v1.3h-1.3zM98.5 363.7h1.3v1.3h-1.3zM150 352.7h1.3v1.3h-1.3zM162.7 360.5h1.3v1.3h-1.3zM156.7 358.8h1.3v1.3h-1.3zM142.8 353.1h1.3v1.3h-1.3zM164 357.4h1.3v1.3h-1.3zM132.8 346.1h1.3v1.3h-1.3zM164.5 345.8h1.3v1.3h-1.3zM156.6 364.1h1.3v1.3h-1.3zM148.8 376.6h1.3v1.3h-1.3zM155.6 360.1h1.3v1.3h-1.3zM153.4 343.8h1.3v1.3h-1.3zM163.3 366.9h1.3v1.3h-1.3zM160.8 350.6h1.3v1.3h-1.3zM161.3 380.7h1.3v1.3h-1.3zM141 369.1h1.3v1.3h-1.3zM85.3 338.5h1.3v1.3h-1.3zM146.2 361.4h1.3v1.3h-1.3zM157.2 371.6h1.3v1.3h-1.3zM69.5 383.3h1.3v1.3h-1.3zM156 361.4h1.3v1.3h-1.3zM148.3 345.7h1.3v1.3h-1.3zM114.7 357.5h1.3v1.3h-1.3zM150.8 359.8h1.3v1.3h-1.3zM71.7 362.3h1.3v1.3h-1.3zM157.7 361h1.3v1.3h-1.3zM160.6 360.9h1.3v1.3h-1.3zM76.3 306.3h1.3v1.3h-1.3zM159.2 380.5h1.3v1.3h-1.3zM155.4 352.5h1.3v1.3h-1.3zM153.7 351.5h1.3v1.3h-1.3zM152.4 331.6h1.3v1.3h-1.3zM65.4 379.7h1.3v1.3h-1.3zM79.3 350.6h1.3v1.3h-1.3zM146.9 331h1.3v1.3h-1.3zM145 367.2h1.3v1.3h-1.3zM150.8 366.6h1.3v1.3h-1.3zM148 364.6h1.3v1.3h-1.3zM151.9 363.3h1.3v1.3h-1.3zM146.3 340.1h1.3v1.3h-1.3zM151.3 368.7h1.3v1.3h-1.3zM168.5 357.6h1.3v1.3h-1.3zM159.3 371.8h1.3v1.3h-1.3zM150.3 321.7h1.3v1.3h-1.3zM150.2 299.2h1.3v1.3h-1.3zM146 348.9h1.3v1.3h-1.3zM162.2 384.4h1.3v1.3h-1.3zM147.4 374.3h1.3v1.3h-1.3zM170.9 349.3h1.3v1.3h-1.3zM91.9 342.1h1.3v1.3h-1.3zM157.7 349.4h1.3v1.3h-1.3zM149.4 338.5h1.3v1.3h-1.3zM152.7 349.5h1.3v1.3h-1.3zM156.6 367.3h1.3v1.3h-1.3zM160.5 373.3h1.3v1.3h-1.3zM174.6 385.2h1.3v1.3h-1.3zM152.5 348.6h1.3v1.3h-1.3zM150.2 344.9h1.3v1.3h-1.3zM156.6 339.2h1.3v1.3h-1.3zM154.5 382.3h1.3v1.3h-1.3zM167.5 357.7h1.3v1.3h-1.3zM155.9 338.4h1.3v1.3h-1.3zM157.8 368.3h1.3v1.3h-1.3zM92.3 344.7h1.3v1.3h-1.3zM151.4 348.1h1.3v1.3h-1.3zM147.5 289.1h1.3v1.3h-1.3zM153.8 337.4h1.3v1.3h-1.3zM153.7 346.1h1.3v1.3h-1.3zM156.9 338.4h1.3v1.3h-1.3zM154.9 373.1h1.3v1.3h-1.3zM149.1 341.2h1.3v1.3h-1.3zM160.5 352.9h1.3v1.3h-1.3zM153.2 356.4h1.3v1.3h-1.3zM97.5 345.9h1.3v1.3h-1.3zM156.8 378.2h1.3v1.3h-1.3zM146.3 340.3h1.3v1.3h-1.3zM152.9 383h1.3v1.3h-1.3zM153.3 352.8h1.3v1.3h-1.3zM72.5 386h1.3v1.3h-1.3zM156.4 348.3h1.3v1.3h-1.3zM153.1 357.1h1.3v1.3h-1.3zM153.9 372.9h1.3v1.3h-1.3zM154.3 357.9h1.3v1.3h-1.3zM148.1 366.8h1.3v1.3h-1.3zM151.9 347.2h1.3v1.3h-1.3zM142.3 362.1h1.3v1.3h-1.3zM149.2 370.7h1.3v1.3h-1.3zM155.1 337.7h1.3v1.3h-1.3zM158.9 354.9h1.3v1.3h-1.3zM148.8 343.8h1.3v1.3h-1.3zM169 348.1h1.3v1.3h-1.3zM148.7 361.7h1.3v1.3h-1.3zM156.4 364.5h1.3v1.3h-1.3zM158.1 347.8h1.3v1.3h-1.3zM140.2 350.3h1.3v1.3h-1.3zM94.7 348.4h1.3v1.3h-1.3zM153.2 349.6h1.3v1.3h-1.3zM139.9 264.1h1.3v1.3h-1.3zM146.9 364.7h1.3v1.3h-1.3zM153 352.9h1.3v1.3h-1.3zM148.1 359.5h1.3v1.3h-1.3zM154 331.2h1.3v1.3h-1.3zM158.5 354.5h1.3v1.3h-1.3zM156.9 373h1.3v1.3h-1.3zM156 356.7h1.3v1.3h-1.3zM150.8 336h1.3v1.3h-1.3zM158.8 358.6h1.3v1.3h-1.3zM149.3 386.8h1.3v1.3h-1.3zM156.1 378.7h1.3v1.3h-1.3zM147.4 361.3h1.3v1.3h-1.3zM169.3 342.7h1.3v1.3h-1.3zM161.1 368.4h1.3v1.3h-1.3zM151.8 354.1h1.3v1.3h-1.3zM156.1 349.2h1.3v1.3h-1.3zM144.2 334.6h1.3v1.3h-1.3zM103 335.4h1.3v1.3h-1.3zM160.8 340.3h1.3v1.3h-1.3zM155.7 352.9h1.3v1.3h-1.3zM151 359.3h1.3v1.3h-1.3zM161.2 346.3h1.3v1.3h-1.3zM157.6 340.6h1.3v1.3h-1.3zM138.6 363.1h1.3v1.3h-1.3zM150.6 371.4h1.3v1.3h-1.3zM147.8 357.9h1.3v1.3h-1.3zM151.5 383h1.3v1.3h-1.3zM68.9 322.4h1.3v1.3h-1.3zM91.1 346.3h1.3v1.3h-1.3zM163.9 344.7h1.3v1.3h-1.3zM154.6 378.9h1.3v1.3h-1.3zM150.2 348.2h1.3v1.3h-1.3zM125.6 373.8h1.3v1.3h-1.3zM148 306.2h1.3v1.3h-1.3zM157.3 378.7h1.3v1.3h-1.3zM151.1 346.2h1.3v1.3h-1.3zM70.1 360.5h1.3v1.3h-1.3zM163.4 325.1h1.3v1.3h-1.3zM145.5 345.6h1.3v1.3h-1.3zM157.6 283.8h1.3v1.3h-1.3zM157.7 368.1h1.3v1.3h-1.3zM108.2 350h1.3v1.3h-1.3zM141.4 386.9h1.3v1.3h-1.3zM153 354.3h1.3v1.3h-1.3zM161 375.6h1.3v1.3h-1.3zM156 339h1.3v1.3h-1.3zM151.1 366.3h1.3v1.3h-1.3zM90.5 349.8h1.3v1.3h-1.3zM157.1 352.1h1.3v1.3h-1.3zM165.1 370.5h1.3v1.3h-1.3zM112.4 357.1h1.3v1.3h-1.3zM155.6 346.7h1.3v1.3h-1.3zM130.9 386.3h1.3v1.3h-1.3zM157.2 342.2h1.3v1.3h-1.3zM142 370.4h1.3v1.3h-1.3zM154.4 353.5h1.3v1.3h-1.3zM148.1 350.2h1.3v1.3h-1.3zM156 356.9h1.3v1.3h-1.3zM163 366.3h1.3v1.3h-1.3zM151.5 350.7h1.3v1.3h-1.3zM148.2 374.1h1.3v1.3h-1.3zM110.4 366.8h1.3v1.3h-1.3zM153.1 351.8h1.3v1.3h-1.3zM153.3 361.3h1.3v1.3h-1.3zM150.9 353.1h1.3v1.3h-1.3zM151.7 352.6h1.3v1.3h-1.3zM157.9 363.9h1.3v1.3h-1.3zM148.6 324.9h1.3v1.3h-1.3zM92.5 373h1.3v1.3h-1.3zM151.3 343.7h1.3v1.3h-1.3zM80.9 334.2h1.3v1.3h-1.3zM122.1 385.9h1.3v1.3h-1.3zM156 349.7h1.3v1.3h-1.3zM153 350.4h1.3v1.3h-1.3zM156.5 355.7h1.3v1.3h-1.3zM138 362.9h1.3v1.3h-1.3zM157 354.9h1.3v1.3h-1.3zM143 340.6h1.3v1.3h-1.3zM140.9 360h1.3v1.3h-1.3zM155.1 332.6h1.3v1.3h-1.3zM156.7 336.1h1.3v1.3h-1.3zM113.6 351.6h1.3v1.3h-1.3zM156.8 357.8h1.3v1.3h-1.3zM161 369.3h1.3v1.3h-1.3zM148.5 369.5h1.3v1.3h-1.3zM157.1 372.4h1.3v1.3h-1.3zM156.4 359.5h1.3v1.3h-1.3zM164.8 366.7h1.3v1.3h-1.3zM141.8 367.7h1.3v1.3h-1.3zM161.5 382.6h1.3v1.3h-1.3zM159.4 365.3h1.3v1.3h-1.3zM157.3 370.4h1.3v1.3h-1.3zM152.4 345.4h1.3v1.3h-1.3zM136.9 331.4h1.3v1.3h-1.3zM151.4 356.7h1.3v1.3h-1.3zM163.2 342.1h1.3v1.3h-1.3zM148.7 367.6h1.3v1.3h-1.3zM161.5 365.6h1.3v1.3h-1.3zM159.4 351.5h1.3v1.3h-1.3zM161.7 364.8h1.3v1.3h-1.3zM142.3 376.2h1.3v1.3h-1.3zM175 326.9h1.3v1.3h-1.3zM155.8 336.7h1.3v1.3h-1.3zM154.9 361.4h1.3v1.3h-1.3zM157.4 332.7h1.3v1.3h-1.3zM160.7 369.2h1.3v1.3h-1.3zM153.8 348.2h1.3v1.3h-1.3zM149.5 364.7h1.3v1.3h-1.3zM65.7 343.7h1.3v1.3h-1.3zM145.5 369.6h1.3v1.3h-1.3zM156.3 370.7h1.3v1.3h-1.3zM144.8 353.6h1.3v1.3h-1.3zM164.2 347.8h1.3v1.3h-1.3zM158.8 367.4h1.3v1.3h-1.3zM149.6 347.4h1.3v1.3h-1.3zM113.1 349.6h1.3v1.3h-1.3zM149.8 347.9h1.3v1.3h-1.3zM147.2 363.6h1.3v1.3h-1.3zM150.3 356.7h1.3v1.3h-1.3zM141.3 362.3h1.3v1.3h-1.3zM161.6 370.8h1.3v1.3h-1.3zM155.9 358.2h1.3v1.3h-1.3zM153.2 356.5h1.3v1.3h-1.3zM166.4 360.4h1.3v1.3h-1.3zM154.8 346.9h1.3v1.3h-1.3zM153.6 360.2h1.3v1.3h-1.3zM160 350.7h1.3v1.3h-1.3z" fill="#000" fill-opacity="0.66"/>
<path d="M144.7 362.5h1.3v1.3h-1.3zM159.5 361.9h1.3v1.3h-1.3zM138.2 360.8h1.3v1.3h-1.3zM145.7 359.2h1.3v1.3h-1.3zM144.7 343.3h1.3v1.3h-1.3zM140.7 368.4h1.3v1.3h-1.3zM158.3 343.1h1.3v1.3h-1.3zM150.3 363.1h1.3v1.3h-1.3zM147.9 368.8h1.3v1.3h-1.3zM98 346.1h1.3v1.3h-1.3zM166.8 385.1h1.3v1.3h-1.3zM151 306.1h1.3v1.3h-1.3zM150.8 342.4h1.3v1.3h-1.3zM163.4 365.7h1.3v1.3h-1.3zM106.4 359.5h1.3v1.3h-1.3zM146.6 288.5h1.3v1.3h-1.3zM152.2 355.7h1.3v1.3h-1.3zM149.9 301h1.3v1.3h-1.3zM144.7 309.5h1.3v1.3h-1.3zM157.9 348.6h1.3v1.3h-1.3zM146.8 330.1h1.3v1.3h-1.3zM141.2 373.5h1.3v1.3h-1.3zM151.5 307.3h1.3v1.3h-1.3zM166.1 350.9h1.3v1.3h-1.3zM149.8 360.1h1.3v1.3h-1.3zM103.5 352.2h1.3v1.3h-1.3zM150 375.1h1.3v1.3h-1.3zM135.4 328.1h1.3v1.3h-1.3zM143.5 364.1h1.3v1.3h-1.3zM152.5 348.8h1.3v1.3h-1.3zM147.7 351.6h1.3v1.3h-1.3zM139.5 285.6h1.3v1.3h-1.3zM156.9 364.2h1.3v1.3h-1.3zM121.9 363.4h1.3v1.3h-1.3zM153.9 347.1h1.3v1.3h-1.3zM148.4 369.9h1.3v1.3h-1.3zM146.2 361.7h1.3v1.3h-1.3zM154.2 352.3h1.3v1.3h-1.3zM147 369.8h1.3v1.3h-1.3zM104.6 345.2h1.3v1.3h-1.3zM147.8 337.4h1.3v1.3h-1.3zM147.8 367.2h1.3v1.3h-1.3zM158.9 368.1h1.3v1.3h-1.3zM105.8 346.3h1.3v1.3h-1.3zM148.8 318.9h1.3v1.3h-1.3zM163.3 345.6h1.3v1.3h-1.3zM154.2 362.2h1.3v1.3h-1.3zM138.1 358h1.3v1.3h-1.3zM164.2 345.5h1.3v1.3h-1.3zM148.8 361h1.3v1.3h-1.3zM144.3 334.8h1.3v1.3h-1.3zM148.4 368.7h1.3v1.3h-1.3zM154.3 379.2h1.3v1.3h-1.3zM142.8 362.3h1.3v1.3h-1.3zM149.1 331.9h1.3v1.3h-1.3zM150.3 347.5h1.3v1.3h-1.3zM149.6 344.2h1.3v1.3h-1.3zM115.1 354.5h1.3v1.3h-1.3zM137.5 346.1h1.3v1.3h-1.3zM161.3 352.8h1.3v1.3h-1.3zM152.9 354.1h1.3v1.3h-1.3zM150 354.5h1.3v1.3h-1.3zM157.9 357.6h1.3v1.3h-1.3zM116.4 352.6h1.3v1.3h-1.3zM149.7 373.9h1.3v1.3h-1.3zM157 361h1.3v1.3h-1.3zM153.3 384.3h1.3v1.3h-1.3zM155 354.2h1.3v1.3h-1.3zM154.1 346.2h1.3v1.3h-1.3zM156.8 361.1h1.3v1.3h-1.3zM158.1 328.3h1.3v1.3h-1.3zM164.1 331.6h1.3v1.3h-1.3zM150.8 367.9h1.3v1.3h-1.3zM145.4 328.5h1.3v1.3h-1.3zM152.5 362.4h1.3v1.3h-1.3zM154.2 344.9h1.3v1.3h-1.3zM152 369.7h1.3v1.3h-1.3zM107.2 362.7h1.3v1.3h-1.3zM46.8 348.2h1.3v1.3h-1.3zM158.4 331.9h1.3v1.3h-1.3zM174.5 325h1.3v1.3h-1.3zM170.4 355.7h1.3v1.3h-1.3zM170.7 352.4h1.3v1.3h-1.3zM150.1 358.4h1.3v1.3h-1.3zM145.5 369.7h1.3v1.3h-1.3zM158.4 377.8h1.3v1.3h-1.3zM159.6 363h1.3v1.3h-1.3zM156.7 342h1.3v1.3h-1.3zM166.9 352.6h1.3v1.3h-1.3zM149.7 361.1h1.3v1.3h-1.3zM158 351.2h1.3v1.3h-1.3zM154.2 384.1h1.3v1.3h-1.3zM143.7 344.3h1.3v1.3h-1.3zM149.5 359.8h1.3v1.3h-1.3zM158.6 340.4h1.3v1.3h-1.3zM122.8 328.6h1.3v1.3h-1.3zM154.9 357.7h1.3v1.3h-1.3zM160.6 352.6h1.3v1.3h-1.3zM153.8 378.1h1.3v1.3h-1.3zM164.3 351.3h1.3v1.3h-1.3zM146.8 374.5h1.3v1.3h-1.3zM77.9 353.2h1.3v1.3h-1.3zM143.6 364.1h1.3v1.3h-1.3zM152.2 358.4h1.3v1.3h-1.3zM46.5 349.3h1.3v1.3h-1.3zM161.3 366.3h1.3v1.3h-1.3zM148.9 342.3h1.3v1.3h-1.3zM159.7 365.7h1.3v1.3h-1.3zM80.7 373.4h1.3v1.3h-1.3zM157.1 379.3h1.3v1.3h-1.3zM157.3 362.7h1.3v1.3h-1.3zM108.2 350.6h1.3v1.3h-1.3zM156.1 363.3h1.3v1.3h-1.3zM145.2 355.3h1.3v1.3h-1.3zM160.1 340.2h1.3v1.3h-1.3zM159.6 374.9h1.3v1.3h-1.3zM98.2 346.4h1.3v1.3h-1.3zM158.3 357.2h1.3v1.3h-1.3zM150.1 345.7h1.3v1.3h-1.3zM149.5 377.1h1.3v1.3h-1.3zM150 348.2h1.3v1.3h-1.3zM147.5 332.5h1.3v1.3h-1.3zM147.2 332.5h1.3v1.3h-1.3zM149.6 355.8h1.3v1.3h-1.3zM152 346.2h1.3v1.3h-1.3zM103.9 352h1.3v1.3h-1.3zM155.6 368.2h1.3v1.3h-1.3zM160.6 366h1.3v1.3h-1.3zM153.2 366.1h1.3v1.3h-1.3zM157.8 353.7h1.3v1.3h-1.3zM148.5 366.2h1.3v1.3h-1.3zM152.4 337.1h1.3v1.3h-1.3zM148 355.1h1.3v1.3h-1.3zM155.8 356.5h1.3v1.3h-1.3zM159.8 353.5h1.3v1.3h-1.3zM154 338.1h1.3v1.3h-1.3zM159.6 345.2h1.3v1.3h-1.3zM164.6 359.2h1.3v1.3h-1.3zM148.2 347.8h1.3v1.3h-1.3zM158.2 355.5h1.3v1.3h-1.3zM153.9 362.6h1.3v1.3h-1.3zM147.8 375h1.3v1.3h-1.3zM148.4 328.8h1.3v1.3h-1.3zM77.9 351.7h1.3v1.3h-1.3zM153.8 349.5h1.3v1.3h-1.3zM108.8 360.5h1.3v1.3h-1.3zM149.9 386.4h1.3v1.3h-1.3zM151.6 340h1.3v1.3h-1.3zM152.4 357h1.3v1.3h-1.3zM119.4 342.4h1.3v1.3h-1.3zM141.8 361.7h1.3v1.3h-1.3zM160.6 332h1.3v1.3h-1.3zM150.8 365.4h1.3v1.3h-1.3zM151.5 302.9h1.3v1.3h-1.3zM102.6 367.4h1.3v1.3h-1.3zM148.2 354.9h1.3v1.3h-1.3zM149.7 362.2h1.3v1.3h-1.3zM144 372.1h1.3v1.3h-1.3zM155.3 378.1h1.3v1.3h-1.3zM143.3 365.3h1.3v1.3h-1.3zM143.5 344.2h1.3v1.3h-1.3zM97.5 362.4h1.3v1.3h-1.3zM152.7 379h1.3v1.3h-1.3zM157.7 348.9h1.3v1.3h-1.3zM131.9 347h1.3v1.3h-1.3zM151.3 357.2h1.3v1.3h-1.3zM160.4 362.7h1.3v1.3h-1.3zM151.3 379.1h1.3v1.3h-1.3zM161.1 358.5h1.3v1.3h-1.3zM157.1 356.5h1.3v1.3h-1.3zM155.7 362.7h1.3v1.3h-1.3zM160 345.4h1.3v1.3h-1.3zM144.3 338.5h1.3v1.3h-1.3zM156.5 364.3h1.3v1.3h-1.3zM155.9 358.7h1.3v1.3h-1.3zM151.8 354.8h1.3v1.3h-1.3zM166.6 347.3h1.3v1.3h-1.3zM158.5 329.6h1.3v1.3h-1.3zM152.3 341.8h1.3v1.3h-1.3zM154.2 335.8h1.3v1.3h-1.3zM155.4 369.2h1.3v1.3h-1.3zM149.5 362.1h1.3v1.3h-1.3zM151.4 357.1h1.3v1.3h-1.3zM149.8 347.5h1.3v1.3h-1.3zM148 356.2h1.3v1.3h-1.3zM148.7 360.3h1.3v1.3h-1.3zM158.7 337.4h1.3v1.3h-1.3zM158.9 368.4h1.3v1.3h-1.3zM147.3 348.5h1.3v1.3h-1.3zM155.1 361.9h1.3v1.3h-1.3zM76.4 326.8h1.3v1.3h-1.3zM161.1 349.5h1.3v1.3h-1.3zM150.1 342.9h1.3v1.3h-1.3zM157.6 365.5h1.3v1.3h-1.3zM154.8 366.2h1.3v1.3h-1.3zM158.9 384.8h1.3v1.3h-1.3zM156.3 388.1h1.3v1.3h-1.3zM157 335.1h1.3v1.3h-1.3zM150.9 367.6h1.3v1.3h-1.3zM143.2 359.7h1.3v1.3h-1.3zM153.9 312.9h1.3v1.3h-1.3zM61.4 363.1h1.3v1.3h-1.3zM154.2 348.9h1.3v1.3h-1.3zM153.5 344.2h1.3v1.3h-1.3zM153.3 351.6h1.3v1.3h-1.3zM158.4 357.6h1.3v1.3h-1.3zM133.3 346.7h1.3v1.3h-1.3zM156.4 361.5h1.3v1.3h-1.3zM156.6 352.1h1.3v1.3h-1.3zM145.4 296h1.3v1.3h-1.3zM150.1 358.7h1.3v1.3h-1.3zM148.9 354.1h1.3v1.3h-1.3zM151.1 347.7h1.3v1.3h-1.3zM153.5 362.8h1.3v1.3h-1.3zM157 382.9h1.3v1.3h-1.3zM121.3 345.9h1.3v1.3h-1.3zM154.9 366.9h1.3v1.3h-1.3zM156.2 349.2h1.3v1.3h-1.3zM154.9 346.1h1.3v1.3h-1.3zM191.6 266.7h1.3v1.3h-1.3zM153.2 339.3h1.3v1.3h-1.3zM153.7 369.7h1.3v1.3h-1.3zM158.8 339.2h1.3v1.3h-1.3zM155.4 350h1.3v1.3h-1.3zM159.4 356.4h1.3v1.3h-1.3zM109.8 363.8h1.3v1.3h-1.3zM148.3 376.8h1.3v1.3h-1.3zM152.1 388.1h1.3v1.3h-1.3zM153.2 367.4h1.3v1.3h-1.3zM159.6 361.9h1.3v1.3h-1.3zM150.9 336.6h1.3v1.3h-1.3zM150.7 366h1.3v1.3h-1.3zM152.2 333h1.3v1.3h-1.3zM156.6 333.8h1.3v1.3h-1.3zM100 336.3h1.3v1.3h-1.3zM156.4 305.2h1.3v1.3h-1.3zM160.3 347.1h1.3v1.3h-1.3zM159.2 368.6h1.3v1.3h-1.3zM155.2 343.5h1.3v1.3h-1.3zM151.4 332.5h1.3v1.3h-1.3zM145.1 362.5h1.3v1.3h-1.3zM146.9 349.3h1.3v1.3h-1.3zM153.5 369.8h1.3v1.3h-1.3zM176 338.9h1.3v1.3h-1.3zM154.6 360.6h1.3v1.3h-1.3zM107.1 367.3h1.3v1.3h-1.3zM156 375.9h1.3v1.3h-1.3zM147.5 256.8h1.3v1.3h-1.3zM169.3 345.6h1.3v1.3h-1.3zM165 352h1.3v1.3h-1.3zM146.3 352.8h1.3v1.3h-1.3zM149.4 373.3h1.3v1.3h-1.3zM157 344.8h1.3v1.3h-1.3zM162.7 380.3h1.3v1.3h-1.3zM154.6 364.6h1.3v1.3h-1.3zM110.5 360h1.3v1.3h-1.3zM152.8 353.2h1.3v1.3h-1.3zM156.7 334.7h1.3v1.3h-1.3zM157.2 359.4h1.3v1.3h-1.3zM103 352.1h1.3v1.3h-1.3zM151 352h1.3v1.3h-1.3zM152.5 361.1h1.3v1.3h-1.3zM149.1 376.4h1.3v1.3h-1.3zM142 287.6h1.3v1.3h-1.3zM159.8 373.2h1.3v1.3h-1.3zM145.6 359.3h1.3v1.3h-1.3zM151.1 376.6h1.3v1.3h-1.3zM83 354.2h1.3v1.3h-1.3zM140.6 344.8h1.3v1.3h-1.3zM157.3 366.7h1.3v1.3h-1.3zM143.9 287.7h1.3v1.3h-1.3zM140.8 365.8h1.3v1.3h-1.3zM149.5 353.8h1.3v1.3h-1.3zM158.3 345.2h1.3v1.3h-1.3zM159 347.2h1.3v1.3h-1.3zM149.6 359.8h1.3v1.3h-1.3zM97.6 358.3h1.3v1.3h-1.3zM159.5 335.2h1.3v1.3h-1.3zM154.7 342.7h1.3v1.3h-1.3zM159.3 348.4h1.3v1.3h-1.3zM151.1 381h1.3v1.3h-1.3zM161.8 370.9h1.3v1.3h-1.3zM155.3 381.3h1.3v1.3h-1.3zM165.5 350.5h1.3v1.3h-1.3zM97.1 333.9h1.3v1.3h-1.3zM150.8 292.7h1.3v1.3h-1.3zM151.2 375.5h1.3v1.3h-1.3zM160.8 357.9h1.3v1.3h-1.3zM145.2 349.6h1.3v1.3h-1.3zM135.9 376.3h1.3v1.3h-1.3zM146.7 341.9h1.3v1.3h-1.3zM147.4 362.5h1.3v1.3h-1.3zM120.2 350.5h1.3v1.3h-1.3zM152.3 368.2h1.3v1.3h-1.3zM150.8 368.6h1.3v1.3h-1.3zM139.6 341.8h1.3v1.3h-1.3zM145.8 365.2h1.3v1.3h-1.3zM153.6 358.1h1.3v1.3h-1.3zM151.7 376.2h1.3v1.3h-1.3zM166.1 386.6h1.3v1.3h-1.3zM159.4 348.4h1.3v1.3h-1.3zM163.2 361.2h1.3v1.3h-1.3zM157.6 357.2h1.3v1.3h-1.3zM155.1 355h1.3v1.3h-1.3zM153.8 363h1.3v1.3h-1.3zM150.9 361h1.3v1.3h-1.3zM161 370.1h1.3v1.3h-1.3zM156 385.4h1.3v1.3h-1.3zM147.6 343.2h1.3v1.3h-1.3zM154.4 367.3h1.3v1.3h-1.3zM98 347.6h1.3v1.3h-1.3zM167.1 381h1.3v1.3h-1.3zM142.9 346.1h1.3v1.3h-1.3zM148.5 369.9h1.3v1.3h-1.3zM109.3 354.5h1.3v1.3h-1.3zM154.4 351h1.3v1.3h-1.3zM160.8 348.5h1.3v1.3h-1.3zM120.4 333.4h1.3v1.3h-1.3zM167.3 361.1h1.3v1.3h-1.3zM142 374.7h1.3v1.3h-1.3zM170.5 357.3h1.3v1.3h-1.3zM162.9 362h1.3v1.3h-1.3zM157 365.2h1.3v1.3h-1.3zM138.5 364.9h1.3v1.3h-1.3zM162.4 353.8h1.3v1.3h-1.3zM155.4 359.9h1.3v1.3h-1.3zM75.7 369h1.3v1.3h-1.3zM153.8 363.1h1.3v1.3h-1.3zM146.1 358h1.3v1.3h-1.3zM125 331.5h1.3v1.3h-1.3zM156.2 354.3h1.3v1.3h-1.3zM90.9 340h1.3v1.3h-1.3zM157.9 368.5h1.3v1.3h-1.3zM155 340.3h1.3v1.3h-1.3zM156.3 355.2h1.3v1.3h-1.3zM155.5 352h1.3v1.3h-1.3zM152.2 359.9h1.3v1.3h-1.3zM153.7 388h1.3v1.3h-1.3zM158.6 371.2h1.3v1.3h-1.3zM146.6 347.8h1.3v1.3h-1.3zM152 357.6h1.3v1.3h-1.3zM70.1 324h1.3v1.3h-1.3zM154.4 359.8h1.3v1.3h-1.3zM154.7 337.3h1.3v1.3h-1.3zM151.5 362.4h1.3v1.3h-1.3zM156 365.7h1.3v1.3h-1.3zM142.1 329.4h1.3v1.3h-1.3zM138.1 348.2h1.3v1.3h-1.3zM150.2 376.3h1.3v1.3h-1.3zM84.9 351.1h1.3v1.3h-1.3zM140.1 340.3h1.3v1.3h-1.3zM141.3 347.9h1.3v1.3h-1.3zM159.4 332.1h1.3v1.3h-1.3zM178.2 336.5h1.3v1.3h-1.3zM162.9 339.1h1.3v1.3h-1.3zM81.3 331.4h1.3v1.3h-1.3zM113.3 292.5h1.3v1.3h-1.3zM82 355.2h1.3v1.3h-1.3zM157.1 349.3h1.3v1.3h-1.3zM147.5 361.1h1.3v1.3h-1.3zM106.4 343.5h1.3v1.3h-1.3zM151.4 373.5h1.3v1.3h-1.3zM143.1 362.7h1.3v1.3h-1.3zM150.4 362h1.3v1.3h-1.3zM152.3 359.3h1.3v1.3h-1.3zM153.5 360.8h1.3v1.3h-1.3zM148.8 366.1h1.3v1.3h-1.3zM151.7 296.3h1.3v1.3h-1.3zM155.8 348.4h1.3v1.3h-1.3zM160.7 292.6h1.3v1.3h-1.3zM148 356.5h1.3v1.3h-1.3zM145.4 366.7h1.3v1.3h-1.3zM151.9 332h1.3v1.3h-1.3zM159.5 349.6h1.3v1.3h-1.3zM148.4 356.8h1.3v1.3h-1.3zM151.1 354.6h1.3v1.3h-1.3zM91.8 343.4h1.3v1.3h-1.3zM158.7 366.9h1.3v1.3h-1.3zM161.7 356.3h1.3v1.3h-1.3zM148.7 372h1.3v1.3h-1.3zM101.1 349.1h1.3v1.3h-1.3zM159.2 365.1h1.3v1.3h-1.3zM158.3 332.6h1.3v1.3h-1.3zM144.3 355.7h1.3v1.3h-1.3zM138.8 373.2h1.3v1.3h-1.3zM163.2 378.1h1.3v1.3h-1.3zM147.1 347.3h1.3v1.3h-1.3zM163.8 363.7h1.3v1.3h-1.3zM148.4 378.5h1.3v1.3h-1.3zM151.9 372.1h1.3v1.3h-1.3zM149.9 348.2h1.3v1.3h-1.3zM152.9 348.3h1.3v1.3h-1.3zM159.3 359.8h1.3v1.3h-1.3zM147.4 342.2h1.3v1.3h-1.3zM143.9 358.7h1.3v1.3h-1.3zM154.9 343.1h1.3v1.3h-1.3zM148.8 344.3h1.3v1.3h-1.3zM150.8 345.1h1.3v1.3h-1.3zM138.9 331.1h1.3v1.3h-1.3zM154.4 351.1h1.3v1.3h-1.3zM156.9 336h1.3v1.3h-1.3zM159.5 365.6h1.3v1.3h-1.3zM150.2 381.8h1.3v1.3h-1.3zM152.1 377.4h1.3v1.3h-1.3zM148 366.4h1.3v1.3h-1.3zM149.2 384.4h1.3v1.3h-1.3zM154.7 361.1h1.3v1.3h-1.3zM145.6 357.1h1.3v1.3h-1.3zM154.8 355h1.3v1.3h-1.3zM156.6 362.8h1.3v1.3h-1.3zM144.4 350.3h1.3v1.3h-1.3zM143.8 353h1.3v1.3h-1.3zM147.1 358.7h1.3v1.3h-1.3zM164.1 358.7h1.3v1.3h-1.3zM141.1 357.5h1.3v1.3h-1.3zM149.2 349.6h1.3v1.3h-1.3zM152.5 364.4h1.3v1.3h-1.3zM148.6 334.1h1.3v1.3h-1.3zM157 355.5h1.3v1.3h-1.3zM150.7 351.9h1.3v1.3h-1.3zM153.3 375h1.3v1.3h-1.3zM153.8 377.7h1.3v1.3h-1.3zM161.1 347.9h1.3v1.3h-1.3zM156 356.1h1.3v1.3h-1.3zM159.2 354.7h1.3v1.3h-1.3zM164.1 365.3h1.3v1.3h-1.3zM155.7 368.1h1.3v1.3h-1.3zM105.4 356.8h1.3v1.3h-1.3zM167 283.6h1.3v1.3h-1.3zM146.3 376h1.3v1.3h-1.3zM66.8 269.5h1.3v1.3h-1.3zM149.3 366.6h1.3v1.3h-1.3zM154.3 377.4h1.3v1.3h-1.3zM166.3 344.2h1.3v1.3h-1.3zM149.7 377.8h1.3v1.3h-1.3zM161.5 337.6h1.3v1.3h-1.3zM152 355.3h1.3v1.3h-1.3zM157.6 380.4h1.3v1.3h-1.3zM164.1 369.8h1.3v1.3h-1.3zM157.9 364.4h1.3v1.3h-1.3zM157.5 347.7h1.3v1.3h-1.3zM161.9 337.3h1.3v1.3h-1.3z" fill="#000" fill-opacity="0.66"/>
<path d="M53.3 285.6h1.3v1.3h-1.3zM153 361.8h1.3v1.3h-1.3zM159.1 368.3h1.3v1.3h-1.3zM149.2 286.5h1.3v1.3h-1.3zM98.2 336.1h1.3v1.3h-1.3zM153.8 364.5h1.3v1.3h-1.3zM163.8 365.8h1.3v1.3h-1.3zM161.5 358h1.3v1.3h-1.3zM104.1 348.9h1.3v1.3h-1.3zM147.3 345.4h1.3v1.3h-1.3zM153.3 360.3h1.3v1.3h-1.3zM158.3 364.8h1.3v1.3h-1.3zM154.2 356.6h1.3v1.3h-1.3zM153.7 363.3h1.3v1.3h-1.3zM89.3 325.2h1.3v1.3h-1.3zM161 346.2h1.3v1.3h-1.3zM141.8 357.6h1.3v1.3h-1.3zM92.4 342h1.3v1.3h-1.3zM161.4 356.8h1.3v1.3h-1.3zM150.1 335.2h1.3v1.3h-1.3zM155 357.6h1.3v1.3h-1.3zM164.5 355.6h1.3v1.3h-1.3zM160.4 350.8h1.3v1.3h-1.3zM154.7 289.4h1.3v1.3h-1.3zM149.4 316h1.3v1.3h-1.3zM161.4 346.8h1.3v1.3h-1.3zM149.9 370.3h1.3v1.3h-1.3zM157.9 354.7h1.3v1.3h-1.3zM157.9 371.1h1.3v1.3h-1.3zM152 340.1h1.3v1.3h-1.3zM151.5 345.7h1.3v1.3h-1.3zM148.2 361.7h1.3v1.3h-1.3zM158.6 342.3h1.3v1.3h-1.3zM147.9 356.6h1.3v1.3h-1.3zM153.3 367.8h1.3v1.3h-1.3zM149.3 342.8h1.3v1.3h-1.3zM149.7 369.8h1.3v1.3h-1.3zM156.5 355.7h1.3v1.3h-1.3zM145.4 365h1.3v1.3h-1.3zM154.9 378.3h1.3v1.3h-1.3zM150.3 357.6h1.3v1.3h-1.3zM160.5 374.2h1.3v1.3h-1.3zM152.1 366.5h1.3v1.3h-1.3zM147.1 358.2h1.3v1.3h-1.3zM156.2 372.1h1.3v1.3h-1.3zM144.4 359.2h1.3v1.3h-1.3zM156.1 373.8h1.3v1.3h-1.3zM149.2 344.6h1.3v1.3h-1.3zM141.8 305.5h1.3v1.3h-1.3zM155.5 361.4h1.3v1.3h-1.3zM145.1 360.3h1.3v1.3h-1.3zM158.3 358.4h1.3v1.3h-1.3zM159.1 361.5h1.3v1.3h-1.3zM156.6 334.2h1.3v1.3h-1.3zM151.8 364.1h1.3v1.3h-1.3zM145.1 366.4h1.3v1.3h-1.3zM85.1 347h1.3v1.3h-1.3zM155.5 302.6h1.3v1.3h-1.3zM151.7 377h1.3v1.3h-1.3zM163.1 373.9h1.3v1.3h-1.3zM155.7 349.7h1.3v1.3h-1.3zM156.4 342.6h1.3v1.3h-1.3zM157.1 307.6h1.3v1.3h-1.3zM149.9 344.8h1.3v1.3h-1.3zM142.3 326.9h1.3v1.3h-1.3zM152.7 339.4h1.3v1.3h-1.3zM81.9 374h1.3v1.3h-1.3zM143.9 358.5h1.3v1.3h-1.3zM167.4 381.4h1.3v1.3h-1.3zM150.9 379.9h1.3v1.3h-1.3zM155.8 352.3h1.3v1.3h-1.3zM104.1 366.8h1.3v1.3h-1.3zM152 356h1.3v1.3h-1.3zM157.7 335.2h1.3v1.3h-1.3zM149.1 286.4h1.3v1.3h-1.3zM152.9 349.3h1.3v1.3h-1.3zM144 348h1.3v1.3h-1.3zM161.9 350.3h1.3v1.3h-1.3zM150.5 377.7h1.3v1.3h-1.3zM149.2 308.7h1.3v1.3h-1.3zM151.2 371.5h1.3v1.3h-1.3zM91.4 353.2h1.3v1.3h-1.3zM151.1 342.8h1.3v1.3h-1.3zM156 370h1.3v1.3h-1.3zM154.6 364.8h1.3v1.3h-1.3zM151.1 337.4h1.3v1.3h-1.3zM160.2 343.8h1.3v1.3h-1.3zM159.7 328.6h1.3v1.3h-1.3zM155.8 372.6h1.3v1.3h-1.3zM131.8 378.4h1.3v1.3h-1.3zM134.3 280.8h1.3v1.3h-1.3zM151 329.9h1.3v1.3h-1.3zM155.1 358.7h1.3v1.3h-1.3zM117.9 362.3h1.3v1.3h-1.3zM148.2 361h1.3v1.3h-1.3zM116.6 339h1.3v1.3h-1.3zM148.1 358.8h1.3v1.3h-1.3zM133.7 387.8h1.3v1.3h-1.3zM82.6 354.9h1.3v1.3h-1.3zM164.1 369h1.3v1.3h-1.3zM138 350.2h1.3v1.3h-1.3zM152 349.4h1.3v1.3h-1.3zM150.4 367.7h1.3v1.3h-1.3zM166 361.7h1.3v1.3h-1.3zM69.4 290.6h1.3v1.3h-1.3zM155.2 349.7h1.3v1.3h-1.3zM154.6 367.2h1.3v1.3h-1.3zM158.1 350.5h1.3v1.3h-1.3zM92.7 356.6h1.3v1.3h-1.3zM145.7 368.9h1.3v1.3h-1.3zM155.5 341.7h1.3v1.3h-1.3zM155.4 344.1h1.3v1.3h-1.3zM154.7 349.8h1.3v1.3h-1.3zM150.3 379.8h1.3v1.3h-1.3zM156.6 345.4h1.3v1.3h-1.3zM158.2 336.5h1.3v1.3h-1.3zM153.9 370.7h1.3v1.3h-1.3zM151.3 363.1h1.3v1.3h-1.3zM149.1 363.5h1.3v1.3h-1.3zM156 338.8h1.3v1.3h-1.3zM155.4 354.6h1.3v1.3h-1.3zM161.5 377.9h1.3v1.3h-1.3zM154 367h1.3v1.3h-1.3zM153 359.7h1.3v1.3h-1.3zM143.9 352.5h1.3v1.3h-1.3zM147 360.8h1.3v1.3h-1.3zM148.6 362h1.3v1.3h-1.3zM147.9 365.5h1.3v1.3h-1.3zM141.2 364.2h1.3v1.3h-1.3zM160.7 354.7h1.3v1.3h-1.3zM149.6 354.8h1.3v1.3h-1.3zM86.5 364.9h1.3v1.3h-1.3zM95.5 363h1.3v1.3h-1.3zM146.6 361.4h1.3v1.3h-1.3zM157.8 341.5h1.3v1.3h-1.3zM133.6 357.4h1.3v1.3h-1.3zM145.1 340.1h1.3v1.3h-1.3zM158.9 374.1h1.3v1.3h-1.3zM163.9 376.3h1.3v1.3h-1.3zM161.3 362.1h1.3v1.3h-1.3zM155.4 361.2h1.3v1.3h-1.3zM161.3 355.5h1.3v1.3h-1.3zM155 349.8h1.3v1.3h-1.3zM161.3 377.3h1.3v1.3h-1.3zM67.2 350.2h1.3v1.3h-1.3zM145.1 369.8h1.3v1.3h-1.3zM124.8 332.5h1.3v1.3h-1.3zM151.4 386.9h1.3v1.3h-1.3zM163.2 356.4h1.3v1.3h-1.3zM140.2 356h1.3v1.3h-1.3zM152.4 348.3h1.3v1.3h-1.3zM150.3 352.6h1.3v1.3h-1.3zM161.9 365.8h1.3v1.3h-1.3zM149 371.6h1.3v1.3h-1.3zM152.4 368.7h1.3v1.3h-1.3zM154.1 342.9h1.3v1.3h-1.3zM153.9 362.6h1.3v1.3h-1.3zM151.7 349.4h1.3v1.3h-1.3zM158 364.2h1.3v1.3h-1.3zM151.4 364.3h1.3v1.3h-1.3zM153.8 345.8h1.3v1.3h-1.3zM145.2 371.7h1.3v1.3h-1.3zM157.8 340h1.3v1.3h-1.3zM155.1 361.2h1.3v1.3h-1.3zM149 369.5h1.3v1.3h-1.3zM146 360h1.3v1.3h-1.3zM91.4 332.9h1.3v1.3h-1.3zM80.2 331h1.3v1.3h-1.3zM147.8 370.7h1.3v1.3h-1.3zM146.7 343.9h1.3v1.3h-1.3zM144.7 338.1h1.3v1.3h-1.3zM156.1 353.7h1.3v1.3h-1.3zM154.9 366.7h1.3v1.3h-1.3zM147.7 345.6h1.3v1.3h-1.3zM152.1 337.6h1.3v1.3h-1.3zM156.7 331.5h1.3v1.3h-1.3zM84.2 349.5h1.3v1.3h-1.3zM156.1 370.6h1.3v1.3h-1.3zM161.6 331.7h1.3v1.3h-1.3zM146 365.3h1.3v1.3h-1.3zM76.5 367.4h1.3v1.3h-1.3zM164.3 380.6h1.3v1.3h-1.3zM146.3 362.6h1.3v1.3h-1.3zM156.2 364.8h1.3v1.3h-1.3zM171.8 332.2h1.3v1.3h-1.3zM154.4 339.3h1.3v1.3h-1.3zM145 361.9h1.3v1.3h-1.3zM153.4 363.1h1.3v1.3h-1.3zM145.5 357.4h1.3v1.3h-1.3zM149.1 374.6h1.3v1.3h-1.3zM157.8 336.2h1.3v1.3h-1.3zM161.7 361.1h1.3v1.3h-1.3zM160.2 370.7h1.3v1.3h-1.3zM158.5 335.2h1.3v1.3h-1.3zM87 344.1h1.3v1.3h-1.3zM152.3 360.7h1.3v1.3h-1.3zM147 358.5h1.3v1.3h-1.3zM156.7 361.1h1.3v1.3h-1.3zM138 350.9h1.3v1.3h-1.3zM117.2 350.3h1.3v1.3h-1.3zM148.9 353.1h1.3v1.3h-1.3zM149.5 378.5h1.3v1.3h-1.3zM157.2 336.2h1.3v1.3h-1.3zM144.9 359.5h1.3v1.3h-1.3zM145.6 353.4h1.3v1.3h-1.3zM155.3 365.4h1.3v1.3h-1.3zM165.5 359.1h1.3v1.3h-1.3zM145.2 282.5h1.3v1.3h-1.3zM155.1 346.8h1.3v1.3h-1.3zM156.4 377.8h1.3v1.3h-1.3zM158.2 355.5h1.3v1.3h-1.3zM165.9 345.4h1.3v1.3h-1.3zM155.7 353.9h1.3v1.3h-1.3zM155.2 343.8h1.3v1.3h-1.3zM155.7 346h1.3v1.3h-1.3zM148.9 360.5h1.3v1.3h-1.3zM136.4 312.4h1.3v1.3h-1.3zM159 381.7h1.3v1.3h-1.3zM158.2 339.8h1.3v1.3h-1.3zM160.9 333.1h1.3v1.3h-1.3zM160.1 330.1h1.3v1.3h-1.3zM162.7 335.9h1.3v1.3h-1.3zM157.1 348.6h1.3v1.3h-1.3zM145.4 343.6h1.3v1.3h-1.3zM159.7 357h1.3v1.3h-1.3zM157.1 353.3h1.3v1.3h-1.3zM155.5 345.7h1.3v1.3h-1.3zM142.4 364.1h1.3v1.3h-1.3zM155.5 345.2h1.3v1.3h-1.3zM97.3 354.3h1.3v1.3h-1.3zM129.8 375.3h1.3v1.3h-1.3zM152.6 310.8h1.3v1.3h-1.3zM152.5 386h1.3v1.3h-1.3zM146.6 367.6h1.3v1.3h-1.3zM172.2 365.1h1.3v1.3h-1.3zM164 360.1h1.3v1.3h-1.3zM140.8 376.2h1.3v1.3h-1.3zM155.2 376.2h1.3v1.3h-1.3zM160.1 377.7h1.3v1.3h-1.3zM161.1 382.9h1.3v1.3h-1.3zM164 342.2h1.3v1.3h-1.3zM154 353.2h1.3v1.3h-1.3zM151.8 349.1h1.3v1.3h-1.3zM151.5 372.1h1.3v1.3h-1.3zM159.5 365.3h1.3v1.3h-1.3zM53.8 365.4h1.3v1.3h-1.3zM146.9 350.8h1.3v1.3h-1.3zM140 343h1.3v1.3h-1.3zM158.7 356.5h1.3v1.3h-1.3zM153.5 345.4h1.3v1.3h-1.3zM150.3 363.2h1.3v1.3h-1.3zM164.7 360.7h1.3v1.3h-1.3zM153.3 357.3h1.3v1.3h-1.3zM109.2 349.6h1.3v1.3h-1.3zM149.3 340.2h1.3v1.3h-1.3zM160.8 381.3h1.3v1.3h-1.3zM142.6 372.5h1.3v1.3h-1.3zM163.7 362h1.3v1.3h-1.3zM149.7 359.2h1.3v1.3h-1.3zM150.1 368.6h1.3v1.3h-1.3zM158.2 351.9h1.3v1.3h-1.3zM153 331.8h1.3v1.3h-1.3zM147.9 376.4h1.3v1.3h-1.3zM148.9 338.2h1.3v1.3h-1.3zM148.4 302h1.3v1.3h-1.3zM154.4 338.2h1.3v1.3h-1.3zM147.5 358.3h1.3v1.3h-1.3zM161.1 355.9h1.3v1.3h-1.3zM164.2 342.7h1.3v1.3h-1.3zM155.1 351.1h1.3v1.3h-1.3zM158.4 378.2h1.3v1.3h-1.3zM53.1 348.9h1.3v1.3h-1.3zM145.2 373.6h1.3v1.3h-1.3zM161.9 384.9h1.3v1.3h-1.3zM154.1 345.6h1.3v1.3h-1.3zM155.2 352.1h1.3v1.3h-1.3zM141.6 358.9h1.3v1.3h-1.3zM160.3 351.3h1.3v1.3h-1.3zM150.6 351.6h1.3v1.3h-1.3zM155.5 343.4h1.3v1.3h-1.3zM153.8 363.4h1.3v1.3h-1.3zM147.9 345.8h1.3v1.3h-1.3zM148.1 381h1.3v1.3h-1.3zM156.7 348.3h1.3v1.3h-1.3zM161.3 357.6h1.3v1.3h-1.3zM158.5 346.7h1.3v1.3h-1.3zM145.7 376.3h1.3v1.3h-1.3zM149.8 373.6h1.3v1.3h-1.3zM153.1 344.9h1.3v1.3h-1.3zM142 352h1.3v1.3h-1.3zM160.4 331h1.3v1.3h-1.3zM145 348.7h1.3v1.3h-1.3zM148.7 370.7h1.3v1.3h-1.3zM140.9 298.3h1.3v1.3h-1.3zM152.6 337.9h1.3v1.3h-1.3zM147.5 360.1h1.3v1.3h-1.3zM151.8 342h1.3v1.3h-1.3zM149.8 378h1.3v1.3h-1.3zM146 373.2h1.3v1.3h-1.3zM105.2 353h1.3v1.3h-1.3zM155.5 378h1.3v1.3h-1.3zM156.8 346h1.3v1.3h-1.3zM165.9 372.2h1.3v1.3h-1.3zM151.3 347.4h1.3v1.3h-1.3zM156.9 347.4h1.3v1.3h-1.3zM154.6 354.4h1.3v1.3h-1.3zM164.4 338.5h1.3v1.3h-1.3zM147.9 369.4h1.3v1.3h-1.3zM151.5 344.9h1.3v1.3h-1.3zM187.9 351.6h1.3v1.3h-1.3zM155 337.1h1.3v1.3h-1.3zM86 352.1h1.3v1.3h-1.3zM109.2 382.4h1.3v1.3h-1.3zM147.7 367.1h1.3v1.3h-1.3zM150.2 361.3h1.3v1.3h-1.3zM158 352h1.3v1.3h-1.3zM150.1 379.5h1.3v1.3h-1.3zM152.7 375.3h1.3v1.3h-1.3zM150.1 343h1.3v1.3h-1.3zM154.8 369.3h1.3v1.3h-1.3zM162 373.2h1.3v1.3h-1.3zM106.8 377.2h1.3v1.3h-1.3zM160.7 344.7h1.3v1.3h-1.3zM153.8 344.3h1.3v1.3h-1.3zM148 369.8h1.3v1.3h-1.3zM144 338.5h1.3v1.3h-1.3zM155.3 351.4h1.3v1.3h-1.3zM105.6 384.3h1.3v1.3h-1.3zM148.7 376.3h1.3v1.3h-1.3zM162.5 364.5h1.3v1.3h-1.3zM151.7 370h1.3v1.3h-1.3zM160.4 363h1.3v1.3h-1.3zM147.8 353.8h1.3v1.3h-1.3zM151.5 357.8h1.3v1.3h-1.3zM139.2 333.9h1.3v1.3h-1.3zM156.5 319h1.3v1.3h-1.3zM145.6 354.2h1.3v1.3h-1.3zM129.2 338.5h1.3v1.3h-1.3zM150.6 348.9h1.3v1.3h-1.3zM157 373.9h1.3v1.3h-1.3zM154.7 380.1h1.3v1.3h-1.3zM137.6 380.9h1.3v1.3h-1.3zM147.8 332.8h1.3v1.3h-1.3zM139 332.2h1.3v1.3h-1.3zM152 351.2h1.3v1.3h-1.3zM152.3 335.3h1.3v1.3h-1.3zM156.6 360.9h1.3v1.3h-1.3zM150.1 344.4h1.3v1.3h-1.3zM113.8 366.9h1.3v1.3h-1.3zM171.2 321.8h1.3v1.3h-1.3zM159.2 362.6h1.3v1.3h-1.3zM154.2 344.9h1.3v1.3h-1.3zM144.5 354.3h1.3v1.3h-1.3zM91.9 365.5h1.3v1.3h-1.3zM156.5 356.2h1.3v1.3h-1.3zM145.5 350.7h1.3v1.3h-1.3zM63.7 370.2h1.3v1.3h-1.3zM146.9 348.3h1.3v1.3h-1.3zM155.3 355.7h1.3v1.3h-1.3zM156.2 360.4h1.3v1.3h-1.3zM164.3 370.7h1.3v1.3h-1.3zM162.4 333h1.3v1.3h-1.3zM147.1 333.2h1.3v1.3h-1.3zM150.2 339h1.3v1.3h-1.3zM155.8 354.2h1.3v1.3h-1.3zM148.6 374.5h1.3v1.3h-1.3zM165.3 384.7h1.3v1.3h-1.3zM98.4 346.5h1.3v1.3h-1.3zM151.2 357.5h1.3v1.3h-1.3zM91.2 354.3h1.3v1.3h-1.3zM156.4 370h1.3v1.3h-1.3zM83.7 347.1h1.3v1.3h-1.3zM154.1 359.3h1.3v1.3h-1.3zM152.7 377.1h1.3v1.3h-1.3zM149.2 352.7h1.3v1.3h-1.3zM157.7 349.1h1.3v1.3h-1.3zM153.3 352.4h1.3v1.3h-1.3zM169.7 369h1.3v1.3h-1.3zM140.4 344h1.3v1.3h-1.3zM172.7 285h1.3v1.3h-1.3zM158.2 361.7h1.3v1.3h-1.3zM156.5 349.9h1.3v1.3h-1.3zM154.2 352.9h1.3v1.3h-1.3zM155.4 364.7h1.3v1.3h-1.3zM73.3 359.7h1.3v1.3h-1.3zM154 382h1.3v1.3h-1.3zM151.5 373.3h1.3v1.3h-1.3zM158.3 360.3h1.3v1.3h-1.3zM163.3 338.6h1.3v1.3h-1.3zM155.3 383.6h1.3v1.3h-1.3zM153.9 370.7h1.3v1.3h-1.3zM158.1 356.2h1.3v1.3h-1.3zM150.7 335.4h1.3v1.3h-1.3zM151.9 337.2h1.3v1.3h-1.3zM152.7 344.9h1.3v1.3h-1.3zM164.6 355.2h1.3v1.3h-1.3zM89.2 363.8h1.3v1.3h-1.3zM153.9 350.4h1.3v1.3h-1.3zM151.9 345.2h1.3v1.3h-1.3zM150.3 350.2h1.3v1.3h-1.3zM152 356.3h1.3v1.3h-1.3zM153.9 364.2h1.3v1.3h-1.3zM153.5 355.5h1.3v1.3h-1.3zM158.8 356h1.3v1.3h-1.3zM149.7 339.6h1.3v1.3h-1.3zM154.2 349h1.3v1.3h-1.3zM150.6 361.5h1.3v1.3h-1.3zM156.5 336.2h1.3v1.3h-1.3zM156.3 318.5h1.3v1.3h-1.3zM154 349.4h1.3v1.3h-1.3zM154.1 338h1.3v1.3h-1.3zM166.1 371.8h1.3v1.3h-1.3zM161.5 340.1h1.3v1.3h-1.3zM152.7 368.2h1.3v1.3h-1.3zM150.5 363.1h1.3v1.3h-1.3zM159 366h1.3v1.3h-1.3zM74.2 290.8h1.3v1.3h-1.3zM149 357.7h1.3v1.3h-1.3zM161.6 373.9h1.3v1.3h-1.3zM158.8 366.7h1.3v1.3h-1.3zM153.4 350h1.3v1.3h-1.3zM157.6 301.9h1.3v1.3h-1.3zM161.4 366h1.3v1.3h-1.3zM153.2 355.7h1.3v1.3h-1.3zM153.1 357.2h1.3v1.3h-1.3zM163.9 356h1.3v1.3h-1.3zM157.1 365.9h1.3v1.3h-1.3zM158.8 345.1h1.3v1.3h-1.3zM155.8 356h1.3v1.3h-1.3zM156.7 353.6h1.3v1.3h-1.3zM160.9 356.6h1.3v1.3h-1.3zM154.8 351.5h1.3v1.3h-1.3zM151.6 371.2h1.3v1.3h-1.3zM160.2 336.5h1.3v1.3h-1.3zM153.8 359.6h1.3v1.3h-1.3zM149 331.8h1.3v1.3h-1.3zM96.3 370.5h1.3v1.3h-1.3zM112.6 367.2h1.3v1.3h-1.3zM149.8 352.1h1.3v1.3h-1.3zM153.1 360.2h1.3v1.3h-1.3zM148.4 358.9h1.3v1.3h-1.3zM158.6 347.1h1.3v1.3h-1.3z" fill="#000" fill-opacity="0.66"/>
<path d="M159.2 333.3h1.3v1.3h-1.3zM155 344h1.3v1.3h-1.3zM150.8 346.6h1.3v1.3h-1.3zM81.8 364.6h1.3v1.3h-1.3zM158.8 328.2h1.3v1.3h-1.3zM151.3 377.3h1.3v1.3h-1.3zM63.3 340.8h1.3v1.3h-1.3zM158.3 364.5h1.3v1.3h-1.3zM156.8 369.4h1.3v1.3h-1.3zM149.3 350.8h1.3v1.3h-1.3zM149 344.1h1.3v1.3h-1.3zM151.9 347.4h1.3v1.3h-1.3zM159.8 346.1h1.3v1.3h-1.3zM161.6 359.1h1.3v1.3h-1.3zM160.5 370h1.3v1.3h-1.3zM152.1 383h1.3v1.3h-1.3zM156.6 358.7h1.3v1.3h-1.3zM80 308.2h1.3v1.3h-1.3zM156 355.2h1.3v1.3h-1.3zM152.5 342.7h1.3v1.3h-1.3zM146.6 335.6h1.3v1.3h-1.3zM93.7 351.2h1.3v1.3h-1.3zM155.6 362h1.3v1.3h-1.3zM146.6 340.7h1.3v1.3h-1.3zM147.9 373.4h1.3v1.3h-1.3zM159 346.9h1.3v1.3h-1.3zM168.2 342.3h1.3v1.3h-1.3zM152.2 285.9h1.3v1.3h-1.3zM138.5 367.1h1.3v1.3h-1.3zM149.5 364.7h1.3v1.3h-1.3zM160.9 358.7h1.3v1.3h-1.3zM145.7 342.2h1.3v1.3h-1.3zM149.4 383.7h1.3v1.3h-1.3zM155.5 348.3h1.3v1.3h-1.3zM140.5 348.5h1.3v1.3h-1.3zM133.4 366h1.3v1.3h-1.3zM161.9 348.6h1.3v1.3h-1.3zM159.8 355.5h1.3v1.3h-1.3zM155 384.1h1.3v1.3h-1.3zM159.1 341.6h1.3v1.3h-1.3zM149.4 363.1h1.3v1.3h-1.3zM151.7 356h1.3v1.3h-1.3zM161.8 344.4h1.3v1.3h-1.3zM150.7 329.5h1.3v1.3h-1.3zM149 354.9h1.3v1.3h-1.3zM158.2 357.2h1.3v1.3h-1.3zM95.2 350.9h1.3v1.3h-1.3zM153 348.4h1.3v1.3h-1.3zM158.7 367.2h1.3v1.3h-1.3zM156.9 372.7h1.3v1.3h-1.3zM138.2 358.2h1.3v1.3h-1.3zM157.1 353.7h1.3v1.3h-1.3zM157.3 343.1h1.3v1.3h-1.3zM154.8 368.9h1.3v1.3h-1.3zM147.4 366.6h1.3v1.3h-1.3zM109.8 356.2h1.3v1.3h-1.3zM152.7 368.3h1.3v1.3h-1.3zM156.2 344.1h1.3v1.3h-1.3zM158.9 372.9h1.3v1.3h-1.3zM156 334.5h1.3v1.3h-1.3zM152.8 348.2h1.3v1.3h-1.3zM151.5 379.1h1.3v1.3h-1.3zM149.5 343.3h1.3v1.3h-1.3zM154 338.4h1.3v1.3h-1.3zM120.1 352.8h1.3v1.3h-1.3zM152.2 384.5h1.3v1.3h-1.3zM157.9 367.5h1.3v1.3h-1.3zM150.4 302.2h1.3v1.3h-1.3zM160.9 367.5h1.3v1.3h-1.3zM153.7 359.5h1.3v1.3h-1.3zM145.1 368.6h1.3v1.3h-1.3zM157.4 387.9h1.3v1.3h-1.3zM98.7 355.2h1.3v1.3h-1.3zM158.7 374.8h1.3v1.3h-1.3zM165.6 360.5h1.3v1.3h-1.3zM137.8 385.1h1.3v1.3h-1.3zM147 368.4h1.3v1.3h-1.3zM155.8 338.1h1.3v1.3h-1.3zM152.5 358.3h1.3v1.3h-1.3zM152.4 357.3h1.3v1.3h-1.3zM155.7 361.7h1.3v1.3h-1.3zM152 365.7h1.3v1.3h-1.3zM153 352.9h1.3v1.3h-1.3zM157.2 334.1h1.3v1.3h-1.3zM160.6 355.8h1.3v1.3h-1.3zM156.4 345h1.3v1.3h-1.3zM146.9 354.9h1.3v1.3h-1.3zM148.3 357.3h1.3v1.3h-1.3zM158 366.1h1.3v1.3h-1.3zM143.3 301.8h1.3v1.3h-1.3zM158.6 338.5h1.3v1.3h-1.3zM89.1 341.7h1.3v1.3h-1.3zM130 339h1.3v1.3h-1.3zM150.3 335.8h1.3v1.3h-1.3zM158.9 341.9h1.3v1.3h-1.3zM151 340h1.3v1.3h-1.3zM157.8 333.1h1.3v1.3h-1.3zM151.3 373.5h1.3v1.3h-1.3zM157 353.7h1.3v1.3h-1.3zM159.8 366.5h1.3v1.3h-1.3zM152.8 359.3h1.3v1.3h-1.3zM156.6 361.4h1.3v1.3h-1.3zM158.8 334.4h1.3v1.3h-1.3zM113.2 338.1h1.3v1.3h-1.3zM159 331.1h1.3v1.3h-1.3zM167.7 346.9h1.3v1.3h-1.3zM120.6 348.6h1.3v1.3h-1.3zM152 367.7h1.3v1.3h-1.3zM153.8 345.5h1.3v1.3h-1.3zM160.3 357.8h1.3v1.3h-1.3zM160.2 378.8h1.3v1.3h-1.3zM148.3 367.6h1.3v1.3h-1.3zM149.2 371.4h1.3v1.3h-1.3zM151.3 344.9h1.3v1.3h-1.3zM160.2 354.2h1.3v1.3h-1.3zM161.5 343.2h1.3v1.3h-1.3zM151 352.2h1.3v1.3h-1.3zM155.2 355.3h1.3v1.3h-1.3zM142.3 343.5h1.3v1.3h-1.3zM148.5 287.5h1.3v1.3h-1.3zM152.9 359.4h1.3v1.3h-1.3zM159.1 347.5h1.3v1.3h-1.3zM145.9 303.4h1.3v1.3h-1.3zM149.5 360.7h1.3v1.3h-1.3zM155.7 360.4h1.3v1.3h-1.3zM153.6 357h1.3v1.3h-1.3zM153.9 348.8h1.3v1.3h-1.3zM147 355.4h1.3v1.3h-1.3zM152.6 384.8h1.3v1.3h-1.3zM145.5 357.5h1.3v1.3h-1.3zM152.3 382.6h1.3v1.3h-1.3zM154.5 340.8h1.3v1.3h-1.3zM159 361.3h1.3v1.3h-1.3zM161.4 365.7h1.3v1.3h-1.3zM151.4 377.6h1.3v1.3h-1.3zM90.6 338.5h1.3v1.3h-1.3zM154 357.3h1.3v1.3h-1.3zM150.8 343.3h1.3v1.3h-1.3zM160.5 351.9h1.3v1.3h-1.3zM156.4 344h1.3v1.3h-1.3zM151.3 368.8h1.3v1.3h-1.3zM145.9 336.3h1.3v1.3h-1.3zM149 347.8h1.3v1.3h-1.3zM146.7 298.6h1.3v1.3h-1.3zM84.8 353.6h1.3v1.3h-1.3zM150.5 375.5h1.3v1.3h-1.3zM154.5 367.9h1.3v1.3h-1.3zM74.6 362.1h1.3v1.3h-1.3zM88.8 332.5h1.3v1.3h-1.3zM160.5 349.9h1.3v1.3h-1.3zM143.9 361.6h1.3v1.3h-1.3zM145.4 341h1.3v1.3h-1.3zM166.5 377.7h1.3v1.3h-1.3zM152.5 342.1h1.3v1.3h-1.3zM142.5 355.5h1.3v1.3h-1.3zM143.5 349h1.3v1.3h-1.3zM161.2 344.4h1.3v1.3h-1.3zM158 357.8h1.3v1.3h-1.3zM158.6 345.2h1.3v1.3h-1.3zM150.7 366.8h1.3v1.3h-1.3zM150.7 332.5h1.3v1.3h-1.3zM170.6 329.2h1.3v1.3h-1.3zM106.2 339.8h1.3v1.3h-1.3zM155.6 366.3h1.3v1.3h-1.3zM148.3 383.3h1.3v1.3h-1.3zM86.6 350.6h1.3v1.3h-1.3zM143.3 353.6h1.3v1.3h-1.3zM156.7 361.1h1.3v1.3h-1.3zM142 333.8h1.3v1.3h-1.3zM153.9 349.5h1.3v1.3h-1.3zM151.6 377.1h1.3v1.3h-1.3zM148.6 353.5h1.3v1.3h-1.3zM154.2 363.7h1.3v1.3h-1.3zM153.6 386.3h1.3v1.3h-1.3zM151 361.2h1.3v1.3h-1.3zM151.3 371.4h1.3v1.3h-1.3zM155.3 367h1.3v1.3h-1.3zM155.2 383.6h1.3v1.3h-1.3zM169.7 339.1h1.3v1.3h-1.3zM169.6 380h1.3v1.3h-1.3zM152.4 335.2h1.3v1.3h-1.3zM163.2 358.6h1.3v1.3h-1.3zM146.6 330.9h1.3v1.3h-1.3zM157.4 326.1h1.3v1.3h-1.3zM157.2 338h1.3v1.3h-1.3zM157.5 377.5h1.3v1.3h-1.3zM142.3 350.2h1.3v1.3h-1.3zM150.9 356.7h1.3v1.3h-1.3zM86.3 356.2h1.3v1.3h-1.3zM80.2 346.8h1.3v1.3h-1.3zM154.6 357.4h1.3v1.3h-1.3zM153.1 364.4h1.3v1.3h-1.3zM145.5 335.7h1.3v1.3h-1.3zM94.6 370.6h1.3v1.3h-1.3zM151.1 306.4h1.3v1.3h-1.3zM141.7 370.2h1.3v1.3h-1.3zM157.6 346.7h1.3v1.3h-1.3zM156.5 346.1h1.3v1.3h-1.3zM164.3 372.2h1.3v1.3h-1.3zM152.8 379.1h1.3v1.3h-1.3zM161.5 336.7h1.3v1.3h-1.3zM161.2 366.9h1.3v1.3h-1.3zM146.1 377.9h1.3v1.3h-1.3zM139.9 353.4h1.3v1.3h-1.3zM102.7 354.2h1.3v1.3h-1.3zM142.8 374.8h1.3v1.3h-1.3zM144.2 371.9h1.3v1.3h-1.3zM155.6 339.6h1.3v1.3h-1.3zM146.2 339.9h1.3v1.3h-1.3zM108.1 345.2h1.3v1.3h-1.3zM145.9 371.6h1.3v1.3h-1.3zM163.4 360.7h1.3v1.3h-1.3zM155.2 313.7h1.3v1.3h-1.3zM157.6 377.9h1.3v1.3h-1.3zM156.4 368h1.3v1.3h-1.3zM162.2 353.1h1.3v1.3h-1.3zM143.4 360.3h1.3v1.3h-1.3zM161.5 367.5h1.3v1.3h-1.3zM154.4 338.2h1.3v1.3h-1.3zM151.5 363.5h1.3v1.3h-1.3zM158.4 362h1.3v1.3h-1.3zM150.8 358.4h1.3v1.3h-1.3zM157.2 346.6h1.3v1.3h-1.3zM150.6 358.2h1.3v1.3h-1.3zM155.3 342.6h1.3v1.3h-1.3zM146.6 339.8h1.3v1.3h-1.3zM149.8 372.4h1.3v1.3h-1.3zM154.2 355.5h1.3v1.3h-1.3zM156 356h1.3v1.3h-1.3zM131 364.1h1.3v1.3h-1.3zM153.8 385.8h1.3v1.3h-1.3zM148.1 355.6h1.3v1.3h-1.3zM169.9 342.7h1.3v1.3h-1.3zM162.4 366.1h1.3v1.3h-1.3zM154.5 380.8h1.3v1.3h-1.3zM148.2 338.8h1.3v1.3h-1.3zM162.1 377.7h1.3v1.3h-1.3zM100.4 350.3h1.3v1.3h-1.3zM151.6 350.1h1.3v1.3h-1.3zM153.7 352.9h1.3v1.3h-1.3zM101.3 370.4h1.3v1.3h-1.3zM66.5 352.3h1.3v1.3h-1.3zM161 321.1h1.3v1.3h-1.3zM151.9 355.2h1.3v1.3h-1.3zM151 338h1.3v1.3h-1.3zM105.7 351.5h1.3v1.3h-1.3zM154.6 367.1h1.3v1.3h-1.3zM142.2 328h1.3v1.3h-1.3zM88.2 361h1.3v1.3h-1.3zM146.7 346h1.3v1.3h-1.3zM135.2 338.6h1.3v1.3h-1.3zM160.9 349.2h1.3v1.3h-1.3zM103.6 364.3h1.3v1.3h-1.3zM80.3 374.7h1.3v1.3h-1.3zM149.8 366h1.3v1.3h-1.3zM160.7 364h1.3v1.3h-1.3zM150.6 351.3h1.3v1.3h-1.3zM159 355h1.3v1.3h-1.3zM149.3 350.4h1.3v1.3h-1.3zM104.5 346h1.3v1.3h-1.3zM72.2 368.6h1.3v1.3h-1.3zM152.4 336.1h1.3v1.3h-1.3zM155.7 349.5h1.3v1.3h-1.3zM144.9 351.4h1.3v1.3h-1.3zM103.6 359.9h1.3v1.3h-1.3zM156.2 353h1.3v1.3h-1.3zM144.3 346.1h1.3v1.3h-1.3zM155.3 355.7h1.3v1.3h-1.3zM162.5 355.2h1.3v1.3h-1.3zM156.1 351.3h1.3v1.3h-1.3zM143.8 356.2h1.3v1.3h-1.3zM157 344.1h1.3v1.3h-1.3zM96.5 364.5h1.3v1.3h-1.3zM148.9 347.2h1.3v1.3h-1.3zM158.8 340.9h1.3v1.3h-1.3zM156.1 363.5h1.3v1.3h-1.3zM151.8 357.1h1.3v1.3h-1.3zM151.7 346.4h1.3v1.3h-1.3zM153.7 356.8h1.3v1.3h-1.3zM159.9 332.3h1.3v1.3h-1.3zM153.7 361.2h1.3v1.3h-1.3zM152.4 379.2h1.3v1.3h-1.3zM165.5 376.2h1.3v1.3h-1.3zM162.1 351.5h1.3v1.3h-1.3zM151 338.6h1.3v1.3h-1.3zM148.8 368.4h1.3v1.3h-1.3zM148.3 369.7h1.3v1.3h-1.3zM140.9 325.5h1.3v1.3h-1.3zM151.3 349.7h1.3v1.3h-1.3zM86.8 340.7h1.3v1.3h-1.3zM155.8 338.1h1.3v1.3h-1.3zM156.1 331.5h1.3v1.3h-1.3zM170.1 374.3h1.3v1.3h-1.3zM147.1 365.2h1.3v1.3h-1.3zM162.7 380.2h1.3v1.3h-1.3zM160.5 345h1.3v1.3h-1.3zM150.4 340.2h1.3v1.3h-1.3zM149 360h1.3v1.3h-1.3zM153.9 358.1h1.3v1.3h-1.3zM152.6 315.6h1.3v1.3h-1.3zM155.1 331.8h1.3v1.3h-1.3zM160.1 352h1.3v1.3h-1.3zM151 290.7h1.3v1.3h-1.3zM143.7 356.6h1.3v1.3h-1.3zM142.2 362.4h1.3v1.3h-1.3zM75.6 329.3h1.3v1.3h-1.3zM93.3 360.7h1.3v1.3h-1.3zM161.5 353h1.3v1.3h-1.3zM145.9 386.2h1.3v1.3h-1.3zM151.3 350h1.3v1.3h-1.3zM150.9 348h1.3v1.3h-1.3zM141.1 367.6h1.3v1.3h-1.3zM147 347.9h1.3v1.3h-1.3zM152.7 376h1.3v1.3h-1.3zM157.4 329.3h1.3v1.3h-1.3zM103.1 357.8h1.3v1.3h-1.3zM165.9 373.2h1.3v1.3h-1.3zM160.6 377.2h1.3v1.3h-1.3zM160.6 362.9h1.3v1.3h-1.3zM154.2 377.3h1.3v1.3h-1.3zM138.2 345.4h1.3v1.3h-1.3zM152 343.9h1.3v1.3h-1.3zM113.2 283.3h1.3v1.3h-1.3zM151.5 384.4h1.3v1.3h-1.3zM149.9 337.2h1.3v1.3h-1.3zM148 348.5h1.3v1.3h-1.3zM154.9 359h1.3v1.3h-1.3zM76.7 283.5h1.3v1.3h-1.3zM154.2 356.7h1.3v1.3h-1.3zM154 354.9h1.3v1.3h-1.3zM144.8 360.8h1.3v1.3h-1.3zM142.8 367h1.3v1.3h-1.3zM156.4 337.6h1.3v1.3h-1.3zM153.7 314.2h1.3v1.3h-1.3zM140.1 321.9h1.3v1.3h-1.3zM154.5 369.1h1.3v1.3h-1.3zM162 310.4h1.3v1.3h-1.3zM150.1 344.4h1.3v1.3h-1.3zM156.8 372.6h1.3v1.3h-1.3zM148.3 347.7h1.3v1.3h-1.3zM157.8 374.7h1.3v1.3h-1.3zM156.3 336h1.3v1.3h-1.3zM154 370.2h1.3v1.3h-1.3zM153 349.8h1.3v1.3h-1.3zM157.1 352.6h1.3v1.3h-1.3zM132.7 326.6h1.3v1.3h-1.3zM158.4 349.1h1.3v1.3h-1.3zM159.2 369.3h1.3v1.3h-1.3zM159.2 343.8h1.3v1.3h-1.3zM73 363.1h1.3v1.3h-1.3zM153.4 349h1.3v1.3h-1.3zM152.6 354.1h1.3v1.3h-1.3zM109.3 345.1h1.3v1.3h-1.3zM142.9 353h1.3v1.3h-1.3zM154.8 342.3h1.3v1.3h-1.3zM142.7 378.7h1.3v1.3h-1.3zM150.1 343.8h1.3v1.3h-1.3zM155.1 333.1h1.3v1.3h-1.3zM148.2 341.7h1.3v1.3h-1.3zM138.1 382.8h1.3v1.3h-1.3zM153.7 378.2h1.3v1.3h-1.3zM147.4 354.6h1.3v1.3h-1.3zM160.7 362h1.3v1.3h-1.3zM163.2 359.6h1.3v1.3h-1.3zM151.4 346.7h1.3v1.3h-1.3zM88.7 343.8h1.3v1.3h-1.3zM157.1 358.2h1.3v1.3h-1.3zM153.3 373.6h1.3v1.3h-1.3zM156.3 347.6h1.3v1.3h-1.3zM154.5 355.2h1.3v1.3h-1.3zM162.2 333.7h1.3v1.3h-1.3zM150.1 352h1.3v1.3h-1.3zM145.1 335.5h1.3v1.3h-1.3zM99 356.8h1.3v1.3h-1.3zM116.5 355.5h1.3v1.3h-1.3zM157.2 378.4h1.3v1.3h-1.3zM158 361.7h1.3v1.3h-1.3zM153.1 361.7h1.3v1.3h-1.3zM151 352.2h1.3v1.3h-1.3zM94.6 350.6h1.3v1.3h-1.3zM149.6 366.7h1.3v1.3h-1.3zM130.4 325.5h1.3v1.3h-1.3zM149.9 341.5h1.3v1.3h-1.3zM138.6 347h1.3v1.3h-1.3zM143 344.8h1.3v1.3h-1.3zM151.3 367.4h1.3v1.3h-1.3zM156.6 349.5h1.3v1.3h-1.3zM72.6 348.9h1.3v1.3h-1.3zM145.6 340.8h1.3v1.3h-1.3zM171 350.7h1.3v1.3h-1.3zM144.2 348.4h1.3v1.3h-1.3zM146.9 337.3h1.3v1.3h-1.3zM150.2 374.7h1.3v1.3h-1.3zM155.5 356.3h1.3v1.3h-1.3zM149.3 363.3h1.3v1.3h-1.3zM148.2 355.2h1.3v1.3h-1.3zM152.7 350.8h1.3v1.3h-1.3zM150 364.3h1.3v1.3h-1.3zM147.2 355.5h1.3v1.3h-1.3zM90.1 351.5h1.3v1.3h-1.3zM160.6 386.3h1.3v1.3h-1.3zM156.4 353.3h1.3v1.3h-1.3zM150.1 365.8h1.3v1.3h-1.3zM146.4 375.4h1.3v1.3h-1.3zM95.7 341.9h1.3v1.3h-1.3zM148.5 349.4h1.3v1.3h-1.3zM173.5 351.9h1.3v1.3h-1.3zM153.3 361.4h1.3v1.3h-1.3zM150.7 349.9h1.3v1.3h-1.3zM150.8 359.2h1.3v1.3h-1.3zM153.7 339.8h1.3v1.3h-1.3zM156.7 359.5h1.3v1.3h-1.3zM157.9 369.2h1.3v1.3h-1.3zM163.2 363.5h1.3v1.3h-1.3zM156.8 363.3h1.3v1.3h-1.3zM143.8 340.6h1.3v1.3h-1.3zM154.1 352.4h1.3v1.3h-1.3zM153.4 368.1h1.3v1.3h-1.3zM148.1 299.7h1.3v1.3h-1.3zM154 350.2h1.3v1.3h-1.3zM147.5 357.8h1.3v1.3h-1.3zM151.4 343.2h1.3v1.3h-1.3zM149.8 338.9h1.3v1.3h-1.3zM169.1 364h1.3v1.3h-1.3zM99.9 347.7h1.3v1.3h-1.3zM154 347.5h1.3v1.3h-1.3zM151.6 369.5h1.3v1.3h-1.3zM68.1 357h1.3v1.3h-1.3zM153 360.8h1.3v1.3h-1.3zM98.2 359.5h1.3v1.3h-1.3zM102.1 366.6h1.3v1.3h-1.3zM150.9 356.4h1.3v1.3h-1.3zM92.5 369.1h1.3v1.3h-1.3zM150.7 375.9h1.3v1.3h-1.3zM159.7 357.6h1.3v1.3h-1.3zM161.9 376.8h1.3v1.3h-1.3zM157.5 340.3h1.3v1.3h-1.3zM149 378.8h1.3v1.3h-1.3zM160.5 368h1.3v1.3h-1.3zM161.6 348.5h1.3v1.3h-1.3zM158.5 358h1.3v1.3h-1.3zM148.1 348.5h1.3v1.3h-1.3z" fill="#000" fill-opacity="0.66"/>
<rect x="39.4" y="247.4" width="162.1" height="143" fill="none" stroke="#000" stroke-width="2.3"/>
<path d="M117.3 247.4 V390.4 M39.4 317.9 H201.5" stroke="#000" stroke-width="1.8" fill="none"/>
<path d="M39.4 390.4 v4 M51.6 390.4 v3 M58.7 390.4 v3 M63.8 390.4 v3 M67.7 390.4 v3 M70.9 390.4 v3 M73.6 390.4 v3 M76 390.4 v3 M78.1 390.4 v3 M79.9 390.4 v4 M92.1 390.4 v3 M99.3 390.4 v3 M104.3 390.4 v3 M108.3 390.4 v3 M111.5 390.4 v3 M114.2 390.4 v3 M116.5 390.4 v3 M118.6 390.4 v3 M120.4 390.4 v4 M132.6 390.4 v3 M139.8 390.4 v3 M144.8 390.4 v3 M148.8 390.4 v3 M152 390.4 v3 M154.7 390.4 v3 M157 390.4 v3 M159.1 390.4 v3 M161 390.4 v4 M173.2 390.4 v3 M180.3 390.4 v3 M185.4 390.4 v3 M189.3 390.4 v3 M192.5 390.4 v3 M195.2 390.4 v3 M197.6 390.4 v3 M199.6 390.4 v3 M201.5 390.4 v4.0 M39.4 390.4 h-4.4 M39.4 376.1 h-3.4 M39.4 367.7 h-3.4 M39.4 361.7 h-3.4 M39.4 357.1 h-3.4 M39.4 353.3 h-3.4 M39.4 350.1 h-3.4 M39.4 347.4 h-3.4 M39.4 344.9 h-3.4 M39.4 342.7 h-4.4 M39.4 328.4 h-3.4 M39.4 320 h-3.4 M39.4 314 h-3.4 M39.4 309.4 h-3.4 M39.4 305.6 h-3.4 M39.4 302.5 h-3.4 M39.4 299.7 h-3.4 M39.4 297.2 h-3.4 M39.4 295.1 h-4.4 M39.4 280.7 h-3.4 M39.4 272.3 h-3.4 M39.4 266.4 h-3.4 M39.4 261.7 h-3.4 M39.4 258 h-3.4 M39.4 254.8 h-3.4 M39.4 252 h-3.4 M39.4 249.6 h-3.4 M39.4 247.4 h-4.4 " stroke="#000" stroke-width="0.8" fill="none"/>
<text x="38.5" y="412.3" font-size="13.4" text-anchor="middle" font-family="Liberation Sans, sans-serif" font-weight="bold" stroke="#000" stroke-width="0.3" >10</text>
<text x="46.2" y="402" font-size="10" text-anchor="start" font-family="Liberation Sans, sans-serif" font-weight="bold" stroke="#000" stroke-width="0.3" >0</text>
<text x="79" y="412.3" font-size="13.4" text-anchor="middle" font-family="Liberation Sans, sans-serif" font-weight="bold" stroke="#000" stroke-width="0.3" >10</text>
<text x="86.7" y="402" font-size="10" text-anchor="start" font-family="Liberation Sans, sans-serif" font-weight="bold" stroke="#000" stroke-width="0.3" >1</text>
<text x="119.5" y="412.3" font-size="13.4" text-anchor="middle" font-family="Liberation Sans, sans-serif" font-weight="bold" stroke="#000" stroke-width="0.3" >10</text>
<text x="127.2" y="402" font-size="10" text-anchor="start" font-family="Liberation Sans, sans-serif" font-weight="bold" stroke="#000" stroke-width="0.3" >2</text>
<text x="160.1" y="412.3" font-size="13.4" text-anchor="middle" font-family="Liberation Sans, sans-serif" font-weight="bold" stroke="#000" stroke-width="0.3" >10</text>
<text x="167.8" y="402" font-size="10" text-anchor="start" font-family="Liberation Sans, sans-serif" font-weight="bold" stroke="#000" stroke-width="0.3" >3</text>
<text x="200.6" y="412.3" font-size="13.4" text-anchor="middle" font-family="Liberation Sans, sans-serif" font-weight="bold" stroke="#000" stroke-width="0.3" >10</text>
<text x="208.3" y="402" font-size="10" text-anchor="start" font-family="Liberation Sans, sans-serif" font-weight="bold" stroke="#000" stroke-width="0.3" >4</text>
<text transform="translate(33.8 391.5) rotate(-90)" font-size="13.4" text-anchor="middle" font-family="Liberation Sans, sans-serif" font-weight="bold" stroke="#000" stroke-width="0.3" >10</text>
<text transform="translate(23.7 383.6) rotate(-90)" font-size="10" text-anchor="start" font-family="Liberation Sans, sans-serif" font-weight="bold" stroke="#000" stroke-width="0.3" >0</text>
<text transform="translate(33.8 343.1) rotate(-90)" font-size="13.4" text-anchor="middle" font-family="Liberation Sans, sans-serif" font-weight="bold" stroke="#000" stroke-width="0.3" >10</text>
<text transform="translate(23.7 335.2) rotate(-90)" font-size="10" text-anchor="start" font-family="Liberation Sans, sans-serif" font-weight="bold" stroke="#000" stroke-width="0.3" >1</text>
<text transform="translate(33.8 294.8) rotate(-90)" font-size="13.4" text-anchor="middle" font-family="Liberation Sans, sans-serif" font-weight="bold" stroke="#000" stroke-width="0.3" >10</text>
<text transform="translate(23.7 286.9) rotate(-90)" font-size="10" text-anchor="start" font-family="Liberation Sans, sans-serif" font-weight="bold" stroke="#000" stroke-width="0.3" >2</text>
<text transform="translate(33.8 246.4) rotate(-90)" font-size="13.4" text-anchor="middle" font-family="Liberation Sans, sans-serif" font-weight="bold" stroke="#000" stroke-width="0.3" >10</text>
<text transform="translate(23.7 238.5) rotate(-90)" font-size="10" text-anchor="start" font-family="Liberation Sans, sans-serif" font-weight="bold" stroke="#000" stroke-width="0.3" >3</text>
<text x="120.5" y="432" font-size="15.8" text-anchor="middle" font-family="Liberation Sans, sans-serif" font-weight="bold" stroke="#000" stroke-width="0.3" >CD8</text>
<text transform="translate(12.7 314.3) rotate(-90)" font-size="15.6" text-anchor="middle" font-family="Liberation Sans, sans-serif" font-weight="bold" stroke="#000" stroke-width="0.3" >CD4</text>
<text x="43.2" y="262.6" font-size="13.8" text-anchor="start" font-family="Liberation Sans, sans-serif" font-weight="bold" stroke="#000" stroke-width="0.3" >0.5</text>
<text x="197" y="262.8" font-size="13.8" text-anchor="end" font-family="Liberation Sans, sans-serif" font-weight="bold" stroke="#000" stroke-width="0.3" >3.5</text>
<text x="42.6" y="334" font-size="13.8" text-anchor="start" font-family="Liberation Sans, sans-serif" font-weight="bold" stroke="#000" stroke-width="0.3" >12</text>
<text x="196.8" y="333.4" font-size="13.8" text-anchor="end" font-family="Liberation Sans, sans-serif" font-weight="bold" stroke="#000" stroke-width="0.3" >84</text>
<rect x="277.2" y="319" width="28.3" height="69.6" fill="#000"/>
<path d="M291.4 319 V308.5 M288.4 309 h6" stroke="#000" stroke-width="1.2" fill="none"/>
<rect x="327.7" y="285" width="28.3" height="103.6" fill="#000"/>
<path d="M341.8 285 V281.2 M339.8 281.7 h4" stroke="#000" stroke-width="1.2" fill="none"/>
<rect x="378.4" y="328" width="28.3" height="60.6" fill="#000"/>
<path d="M392.5 328 V319.6 M390.5 320.1 h4" stroke="#000" stroke-width="1.2" fill="none"/>
<rect x="428.9" y="274.6" width="28.3" height="114" fill="#000"/>
<path d="M443 274.6 V270.8 M441 271.3 h4" stroke="#000" stroke-width="1.2" fill="none"/>
<rect x="479.1" y="329.2" width="28.3" height="59.4" fill="#000"/>
<path d="M493.2 329.2 V318.8 M491.2 319.3 h4" stroke="#000" stroke-width="1.2" fill="none"/>
<rect x="266.2" y="245.6" width="252.7" height="143" fill="none" stroke="#000" stroke-width="2.5"/>
<path d="M266.2 332.1 H518.9" stroke="#000" stroke-width="2.2" fill="none"/>
<text x="261.2" y="392.9" font-size="12.5" text-anchor="end" font-family="Liberation Sans, sans-serif" font-weight="bold" stroke="#000" stroke-width="0.3" >0.0</text>
<text x="261.2" y="364.3" font-size="12.5" text-anchor="end" font-family="Liberation Sans, sans-serif" font-weight="bold" stroke="#000" stroke-width="0.3" >0.5</text>
<text x="261.2" y="335.7" font-size="12.5" text-anchor="end" font-family="Liberation Sans, sans-serif" font-weight="bold" stroke="#000" stroke-width="0.3" >1.0</text>
<text x="261.2" y="307.1" font-size="12.5" text-anchor="end" font-family="Liberation Sans, sans-serif" font-weight="bold" stroke="#000" stroke-width="0.3" >1.5</text>
<text x="261.2" y="278.5" font-size="12.5" text-anchor="end" font-family="Liberation Sans, sans-serif" font-weight="bold" stroke="#000" stroke-width="0.3" >2.0</text>
<text x="261.2" y="249.9" font-size="12.5" text-anchor="end" font-family="Liberation Sans, sans-serif" font-weight="bold" stroke="#000" stroke-width="0.3" >2.5</text>
<path d="M266.2 388.6 h-4.4 M266.2 360 h-4.4 M266.2 331.4 h-4.4 M266.2 302.8 h-4.4 M266.2 274.2 h-4.4 M266.2 245.6 h-4.4 " stroke="#000" stroke-width="1.3" fill="none"/>
<text transform="translate(232.3 316) rotate(-90)" font-size="12.9" text-anchor="middle" font-family="Liberation Sans, sans-serif" font-weight="bold" stroke="#000" stroke-width="0.3" >Migration Index</text>
<text x="292.5" y="408.2" font-size="12.9" text-anchor="middle" font-family="Liberation Sans, sans-serif" font-weight="bold" stroke="#000" stroke-width="0.3">CD56<tspan dy="-3.6">+</tspan></text>
<text x="292.5" y="422.6" font-size="12.9" text-anchor="middle" font-family="Liberation Sans, sans-serif" font-weight="bold" stroke="#000" stroke-width="0.3">CD3<tspan dy="-3.6">-</tspan></text>
<text x="343.1" y="408.2" font-size="12.9" text-anchor="middle" font-family="Liberation Sans, sans-serif" font-weight="bold" stroke="#000" stroke-width="0.3">CD56<tspan dy="-3.6">+</tspan></text>
<text x="343.1" y="422.6" font-size="12.9" text-anchor="middle" font-family="Liberation Sans, sans-serif" font-weight="bold" stroke="#000" stroke-width="0.3">CD3<tspan dy="-3.6">+</tspan></text>
<text x="392.8" y="408.2" font-size="12.9" text-anchor="middle" font-family="Liberation Sans, sans-serif" font-weight="bold" stroke="#000" stroke-width="0.3">CD56<tspan dy="-3.6">+</tspan></text>
<text x="392.8" y="422.6" font-size="12.9" text-anchor="middle" font-family="Liberation Sans, sans-serif" font-weight="bold" stroke="#000" stroke-width="0.3">CD3<tspan dy="-3.6">+</tspan></text>
<text x="392.8" y="437" font-size="12.9" text-anchor="middle" font-family="Liberation Sans, sans-serif" font-weight="bold" stroke="#000" stroke-width="0.3">CD8<tspan dy="-3.6">-</tspan></text>
<text x="442.7" y="408.2" font-size="12.9" text-anchor="middle" font-family="Liberation Sans, sans-serif" font-weight="bold" stroke="#000" stroke-width="0.3">CD56<tspan dy="-3.6">+</tspan></text>
<text x="442.7" y="422.6" font-size="12.9" text-anchor="middle" font-family="Liberation Sans, sans-serif" font-weight="bold" stroke="#000" stroke-width="0.3">CD3<tspan dy="-3.6">+</tspan></text>
<text x="442.7" y="437" font-size="12.9" text-anchor="middle" font-family="Liberation Sans, sans-serif" font-weight="bold" stroke="#000" stroke-width="0.3">CD8<tspan dy="-3.6">+</tspan></text>
<text x="493.6" y="408.2" font-size="12.9" text-anchor="middle" font-family="Liberation Sans, sans-serif" font-weight="bold" stroke="#000" stroke-width="0.3">V<tspan font-family="Liberation Serif, serif" font-weight="normal" stroke="none" font-size="14.6">&#945;</tspan>24</text>
</svg>
</body></html>
